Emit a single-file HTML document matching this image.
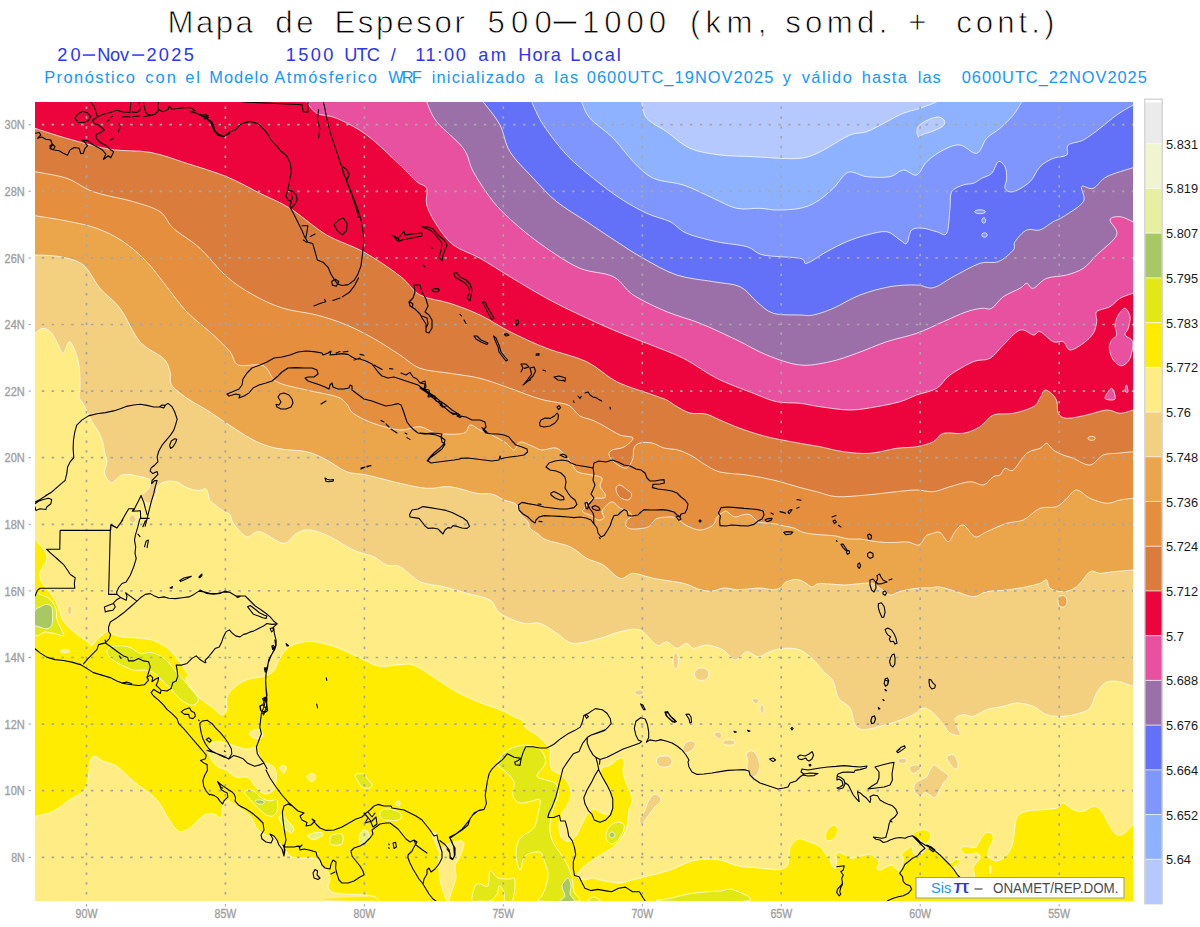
<!DOCTYPE html>
<html><head><meta charset="utf-8"><title>Mapa de Espesor 500-1000</title>
<style>
html,body{margin:0;padding:0;background:#fff;}
body{width:1200px;height:927px;overflow:hidden;font-family:"Liberation Sans",sans-serif;}
svg{display:block;font-family:"Liberation Sans",sans-serif;}
</style></head><body>
<svg width="1200" height="927" viewBox="0 0 1200 927">
<rect width="1200" height="927" fill="#fff"/>
<g font-size="31.2" fill="#000" stroke="#fff" stroke-width="0.8">
<text x="167.6" y="33.4" textLength="85.3" lengthAdjust="spacing">Mapa</text>
<text x="275.2" y="33.4" textLength="38.5" lengthAdjust="spacing">de</text>
<text x="334.4" y="33.4" textLength="130.4" lengthAdjust="spacing">Espesor</text>
<text x="487.4" y="33.4" textLength="64.4" lengthAdjust="spacing">500</text>
<text x="581.9" y="33.4" textLength="84.3" lengthAdjust="spacing">1000</text>
<text x="689.9" y="33.4" textLength="76.4" lengthAdjust="spacing">(km,</text>
<text x="785.2" y="33.4" textLength="102.2" lengthAdjust="spacing">somd.</text>
<text x="908.2" y="33.4" textLength="26.8" lengthAdjust="spacing">+</text>
<text x="956.2" y="33.4" textLength="98.1" lengthAdjust="spacing">cont.)</text>
</g>
<rect x="553.7" y="21.7" width="22.5" height="1.7" fill="#000"/>
<g font-size="18.2" fill="#2b35f5">
<text x="57.2" y="60.8" textLength="23.3" lengthAdjust="spacing">20</text>
<text x="97.2" y="60.8" textLength="31.9" lengthAdjust="spacing">Nov</text>
<text x="146.4" y="60.8" textLength="47.4" lengthAdjust="spacing">2025</text>
<text x="285.7" y="60.8" textLength="47.6" lengthAdjust="spacing">1500</text>
<text x="344.2" y="60.8" textLength="35.6" lengthAdjust="spacing">UTC</text>
<text x="390.7" y="60.8" textLength="12.6" lengthAdjust="spacing">/</text>
<text x="415.2" y="60.8" textLength="50.6" lengthAdjust="spacing">11:00</text>
<text x="478.2" y="60.8" textLength="27.6" lengthAdjust="spacing">am</text>
<text x="518.2" y="60.8" textLength="42.6" lengthAdjust="spacing">Hora</text>
<text x="570.2" y="60.8" textLength="50.6" lengthAdjust="spacing">Local</text>
<rect x="82.8" y="54.3" width="12.2" height="1.5"/><rect x="132.2" y="54.3" width="12" height="1.5"/></g>
<g font-size="16.4" fill="#1496ff">
<text x="44.2" y="82.9" textLength="90.6" lengthAdjust="spacing">Pron&#243;stico</text>
<text x="145.2" y="82.9" textLength="30.6" lengthAdjust="spacing">con</text>
<text x="185.2" y="82.9" textLength="14.6" lengthAdjust="spacing">el</text>
<text x="209.2" y="82.9" textLength="59.1" lengthAdjust="spacing">Modelo</text>
<text x="274.2" y="82.9" textLength="102.6" lengthAdjust="spacing">Atm&#243;sferico</text>
<text x="388.2" y="82.9" textLength="33.6" lengthAdjust="spacing">WRF</text>
<text x="431.7" y="82.9" textLength="93.1" lengthAdjust="spacing">inicializado</text>
<text x="534.2" y="82.9" textLength="9.1" lengthAdjust="spacing">a</text>
<text x="554.2" y="82.9" textLength="24.1" lengthAdjust="spacing">las</text>
<text x="586.7" y="82.9" textLength="186.6" lengthAdjust="spacing">0600UTC_19NOV2025</text>
<text x="782.7" y="82.9" textLength="10.6" lengthAdjust="spacing">y</text>
<text x="801.7" y="82.9" textLength="50.1" lengthAdjust="spacing">v&#225;lido</text>
<text x="861.7" y="82.9" textLength="45.1" lengthAdjust="spacing">hasta</text>
<text x="917.7" y="82.9" textLength="23.1" lengthAdjust="spacing">las</text>
<text x="961.7" y="82.9" textLength="185.1" lengthAdjust="spacing">0600UTC_22NOV2025</text>
</g>
<!-- map fills -->
<defs><clipPath id="plot"><rect x="35" y="102" width="1098" height="799"/></clipPath></defs>
<g clip-path="url(#plot)">
<rect x="35" y="102" width="1098" height="799" fill="#ffec84"/>
<path d="M35.0 538.4C35.8 539.5 38.2 542.7 40.0 545.1C41.8 547.5 44.8 550.1 45.9 552.6C47.0 555.1 47.4 557.5 46.7 560.1C46.0 562.8 42.9 566.0 41.7 568.5C40.5 571.0 39.6 572.7 39.7 575.2C39.8 577.7 41.3 581.3 42.5 583.5C43.7 585.7 45.2 586.6 46.7 588.6C48.2 590.6 50.0 592.8 51.7 595.3C53.4 597.8 55.4 600.8 56.8 603.6C58.2 606.4 59.3 609.5 60.1 612.0C60.9 614.5 60.4 616.2 61.8 618.7C63.2 621.2 65.7 624.2 68.5 627.0C71.3 629.8 75.4 633.0 78.5 635.4C81.6 637.8 84.7 639.5 86.9 641.2C89.1 642.9 90.2 645.7 91.9 645.4C93.6 645.1 95.0 641.5 96.9 639.6C98.9 637.7 101.6 635.1 103.6 633.7C105.5 632.3 106.9 631.1 108.6 631.2C110.3 631.3 111.1 633.5 113.6 634.5C116.1 635.5 119.7 636.5 123.6 637.1C127.5 637.7 132.5 637.5 137.0 637.9C141.5 638.3 146.2 638.5 150.4 639.6C154.6 640.7 158.8 642.8 162.1 644.6C165.4 646.4 168.0 648.0 170.5 650.4C173.0 652.8 175.0 655.9 177.2 658.8C179.4 661.7 182.0 665.3 183.8 668.0C185.6 670.7 187.5 672.8 188.0 675.0C188.5 677.2 184.7 677.5 186.7 681.3C188.7 685.1 195.6 693.5 200.0 698.0C204.4 702.5 209.7 705.2 213.3 708.0C216.9 710.8 219.5 714.4 221.7 714.7C223.9 715.0 225.9 712.5 226.7 709.7C227.5 706.9 225.6 701.6 226.7 698.0C227.8 694.4 230.0 691.0 233.3 688.0C236.6 685.0 241.7 681.7 246.7 679.7C251.7 677.8 258.9 677.7 263.3 676.3C267.7 674.9 270.5 674.3 273.3 671.3C276.1 668.2 277.2 662.2 280.0 658.0C282.8 653.8 285.0 649.1 290.0 646.3C295.0 643.5 302.8 641.3 310.0 641.3C317.2 641.3 326.1 644.1 333.3 646.3C340.5 648.5 347.7 652.2 353.3 654.7C358.9 657.2 362.2 659.4 366.7 661.3C371.1 663.2 374.4 665.7 380.0 666.3C385.6 666.9 394.4 664.9 400.0 664.7C405.6 664.5 407.8 663.0 413.3 665.0C418.9 667.0 426.6 672.5 433.3 676.7C440.0 680.9 446.1 685.9 453.3 690.0C460.5 694.1 468.9 698.0 476.7 701.3C484.5 704.6 493.3 706.9 500.0 709.7C506.7 712.5 513.0 716.3 516.7 718.0C520.4 719.7 520.5 718.3 522.0 720.0C523.5 721.7 523.3 725.3 526.0 728.0C528.7 730.7 534.7 733.3 538.0 736.0C541.3 738.7 544.0 742.0 546.0 744.0C548.0 746.0 549.3 745.3 550.0 748.0C550.7 750.7 549.7 756.3 550.0 760.0C550.3 763.7 550.3 767.7 552.0 770.0C553.7 772.3 557.7 772.3 560.0 774.0C562.3 775.7 564.3 777.7 566.0 780.0C567.7 782.3 569.2 785.3 570.0 788.0C570.8 790.7 571.3 793.3 571.0 796.0C570.7 798.7 569.5 801.0 568.0 804.0C566.5 807.0 563.5 810.7 562.0 814.0C560.5 817.3 559.3 820.7 559.0 824.0C558.7 827.3 559.2 831.3 560.0 834.0C560.8 836.7 562.3 838.8 564.0 840.0C565.7 841.2 568.0 841.7 570.0 841.0C572.0 840.3 574.3 838.2 576.0 836.0C577.7 833.8 578.7 830.7 580.0 828.0C581.3 825.3 582.5 822.7 584.0 820.0C585.5 817.3 587.3 813.8 589.0 812.0C590.7 810.2 591.8 808.8 594.0 809.0C596.2 809.2 599.5 812.2 602.0 813.0C604.5 813.8 607.3 815.2 609.0 814.0C610.7 812.8 611.3 808.3 612.0 806.0C612.7 803.7 613.3 802.3 613.0 800.0C612.7 797.7 611.5 795.0 610.0 792.0C608.5 789.0 605.7 785.0 604.0 782.0C602.3 779.0 600.3 776.3 600.0 774.0C599.7 771.7 600.3 769.5 602.0 768.0C603.7 766.5 607.3 766.5 610.0 765.0C612.7 763.5 615.8 760.2 618.0 759.0C620.2 757.8 622.0 757.2 623.0 758.0C624.0 758.8 624.0 761.7 624.0 764.0C624.0 766.3 622.7 769.0 623.0 772.0C623.3 775.0 624.7 778.3 626.0 782.0C627.3 785.7 630.0 790.7 631.0 794.0C632.0 797.3 632.3 799.3 632.0 802.0C631.7 804.7 629.7 807.0 629.0 810.0C628.3 813.0 628.5 816.7 628.0 820.0C627.5 823.3 627.3 826.7 626.0 830.0C624.7 833.3 622.3 837.0 620.0 840.0C617.7 843.0 614.7 845.8 612.0 848.0C609.3 850.2 606.7 851.3 604.0 853.0C601.3 854.7 599.0 856.0 596.0 858.0C593.0 860.0 588.8 862.7 586.0 865.0C583.2 867.3 580.3 869.8 579.0 872.0C577.7 874.2 577.2 876.7 578.0 878.0C578.8 879.3 581.7 880.0 584.0 880.0C586.3 880.0 589.3 878.0 592.0 878.0C594.7 878.0 597.0 879.3 600.0 880.0C603.0 880.7 606.7 881.5 610.0 882.0C613.3 882.5 616.3 883.3 620.0 883.0C623.7 882.7 628.0 881.0 632.0 880.0C636.0 879.0 640.0 878.0 644.0 877.0C648.0 876.0 651.7 875.2 656.0 874.0C660.3 872.8 665.3 871.7 670.0 870.0C674.7 868.3 679.7 865.7 684.0 864.0C688.3 862.3 692.0 860.8 696.0 860.0C700.0 859.2 704.0 859.0 708.0 859.0C712.0 859.0 714.7 858.8 720.0 860.0C725.3 861.2 733.3 865.0 740.0 866.3C746.7 867.6 753.9 867.4 760.0 868.0C766.1 868.6 772.7 869.7 776.7 869.7C780.7 869.7 782.1 869.0 784.0 868.0C785.9 867.0 787.0 867.3 788.0 864.0C789.0 860.7 788.3 852.2 790.0 848.0C791.7 843.8 794.7 840.0 798.0 839.0C801.3 838.0 806.3 840.7 810.0 842.0C813.7 843.3 817.5 844.8 820.0 846.7C822.5 848.6 823.3 851.1 825.0 853.3C826.7 855.5 828.8 857.8 830.0 860.0C831.2 862.2 831.5 865.3 832.5 866.7C833.5 868.1 835.1 869.4 835.8 868.3C836.5 867.2 836.7 862.4 836.7 860.0C836.7 857.6 835.2 855.5 835.8 854.2C836.3 853.0 838.2 852.2 840.0 852.5C841.8 852.8 844.8 854.8 846.7 855.8C848.7 856.8 849.8 858.1 851.7 858.3C853.6 858.4 856.1 857.2 858.3 856.7C860.5 856.2 863.0 855.4 865.0 855.0C867.0 854.6 868.0 853.7 870.0 854.2C872.0 854.8 875.2 856.8 876.7 858.3C878.2 859.8 879.2 861.6 879.2 863.3C879.2 865.0 876.6 867.2 876.7 868.3C876.8 869.4 878.3 870.3 880.0 870.0C881.7 869.7 884.8 867.5 886.7 866.7C888.7 865.9 890.3 864.7 891.7 865.0C893.1 865.3 893.6 867.5 895.0 868.3C896.4 869.1 898.8 870.8 900.0 870.0C901.2 869.2 902.0 865.2 902.5 863.3C903.0 861.3 903.4 859.8 903.3 858.3C903.2 856.8 901.4 855.5 901.7 854.2C902.0 853.0 903.6 851.9 905.0 850.8C906.4 849.7 908.8 848.2 910.0 847.5C911.2 846.8 912.0 845.7 912.5 846.7C913.0 847.7 912.3 851.9 913.3 853.3C914.3 854.7 916.5 855.4 918.3 855.0C920.1 854.6 922.8 852.2 924.2 850.8C925.6 849.4 926.9 848.1 926.7 846.7C926.6 845.3 925.0 843.9 923.3 842.5C921.6 841.1 918.5 839.4 916.7 838.3C914.9 837.2 912.8 836.8 912.5 835.8C912.2 834.8 913.8 833.5 915.0 832.5C916.2 831.5 918.2 830.4 920.0 830.0C921.8 829.6 924.0 829.3 925.8 830.0C927.6 830.7 930.1 832.7 930.8 834.2C931.5 835.7 930.7 837.7 930.0 839.2C929.3 840.7 926.7 842.2 926.7 843.3C926.7 844.4 928.3 844.5 930.0 845.8C931.7 847.0 934.5 849.0 936.7 850.8C938.9 852.6 941.5 854.9 943.3 856.7C945.1 858.5 946.1 860.7 947.5 861.7C948.9 862.7 950.3 862.9 951.7 862.5C953.1 862.1 954.4 859.5 955.8 859.2C957.2 858.9 959.7 860.0 960.0 860.8C960.3 861.6 958.5 863.1 957.5 864.2C956.5 865.3 954.5 866.2 954.2 867.5C953.9 868.8 955.0 870.0 955.8 871.7C956.6 873.5 957.5 875.6 959.2 878.0C960.9 880.4 963.5 886.0 966.0 886.0C968.5 886.0 973.0 881.0 974.2 878.0C975.4 875.0 973.0 870.8 973.3 868.3C973.6 865.8 974.7 865.0 975.8 863.3C976.9 861.6 979.7 860.0 980.0 858.3C980.3 856.6 979.0 854.0 977.5 853.3C976.0 852.6 972.9 854.1 970.8 854.2C968.7 854.4 966.5 854.8 965.0 854.2C963.5 853.6 962.1 852.0 961.7 850.8C961.3 849.5 961.4 847.4 962.5 846.7C963.6 846.0 966.2 846.6 968.3 846.7C970.4 846.8 973.3 848.1 975.0 847.5C976.7 846.9 977.2 845.1 978.3 843.3C979.4 841.5 980.3 838.5 981.7 836.7C983.1 834.9 985.0 833.1 986.7 832.5C988.4 831.9 990.6 832.3 991.7 833.3C992.8 834.3 993.3 836.6 993.3 838.3C993.3 840.0 992.4 841.6 991.7 843.3C991.0 845.0 989.9 846.6 989.2 848.3C988.5 850.0 987.4 851.6 987.5 853.3C987.6 855.0 988.8 857.0 990.0 858.3C991.2 859.5 993.3 860.5 995.0 860.8C996.7 861.1 998.3 860.7 1000.0 860.0C1001.7 859.3 1003.3 858.4 1005.0 856.7C1006.7 855.0 1008.6 852.8 1010.0 850.0C1011.4 847.2 1012.2 845.3 1013.3 840.0C1014.4 834.7 1014.5 822.8 1016.7 818.0C1018.9 813.2 1022.3 812.7 1026.7 811.3C1031.1 809.9 1038.3 810.2 1043.3 809.7C1048.3 809.2 1053.4 809.1 1056.7 808.0C1060.0 806.9 1060.5 802.7 1063.3 803.0C1066.1 803.3 1070.0 808.3 1073.3 809.7C1076.6 811.1 1080.0 811.9 1083.3 811.3C1086.6 810.7 1090.2 806.3 1093.3 806.3C1096.4 806.3 1098.4 807.1 1101.7 811.3C1105.0 815.5 1110.0 827.4 1113.3 831.3C1116.6 835.2 1118.4 835.8 1121.7 834.7C1125.0 833.6 1131.1 826.4 1133.0 824.7L1133.0 901.0C1007.5 901.0 506.6 901.8 380.0 901.0C253.4 900.2 376.6 897.3 373.3 896.3C370.0 895.2 364.9 895.1 360.0 894.7C355.1 894.3 348.7 894.5 344.0 894.0C339.3 893.5 334.7 893.3 332.0 892.0C329.3 890.7 328.3 888.0 328.0 886.0C327.7 884.0 330.0 882.3 330.0 880.0C330.0 877.7 329.3 874.3 328.0 872.0C326.7 869.7 323.7 868.0 322.0 866.0C320.3 864.0 320.0 861.3 318.0 860.0C316.0 858.7 313.0 858.3 310.0 858.0C307.0 857.7 303.3 858.3 300.0 858.0C296.7 857.7 292.7 857.7 290.0 856.0C287.3 854.3 286.3 850.7 284.0 848.0C281.7 845.3 278.2 841.9 276.0 840.0C273.8 838.1 272.2 837.1 270.6 836.4C269.1 835.7 268.0 836.2 266.7 835.7C265.4 835.2 264.1 834.0 262.8 833.1C261.5 832.2 260.2 831.9 258.9 830.6C257.6 829.3 256.1 827.4 255.0 825.4C253.9 823.4 253.7 820.8 252.4 818.9C251.1 817.0 249.0 815.2 247.3 813.7C245.6 812.2 243.8 811.2 242.1 809.9C240.4 808.6 238.6 807.2 236.9 806.0C235.2 804.8 233.2 803.6 231.7 802.7C230.2 801.8 229.2 800.7 227.9 800.8C226.6 800.9 225.0 801.9 224.0 803.4C223.0 804.9 222.4 807.8 222.0 809.9C221.6 812.0 221.8 815.0 221.4 816.3C221.0 817.6 220.6 817.9 219.5 817.6C218.4 817.3 216.5 815.1 214.9 814.4C213.3 813.7 211.5 813.4 209.8 813.5C208.1 813.6 206.6 813.9 204.6 815.0C202.6 816.1 200.3 818.2 198.1 820.2C195.9 822.2 193.8 825.0 191.6 826.7C189.4 828.4 187.5 829.9 185.2 830.6C182.9 831.3 180.5 832.5 178.0 831.0C175.5 829.5 172.4 824.8 170.0 821.3C167.6 817.8 165.5 813.3 163.3 809.7C161.1 806.1 159.5 802.8 156.7 799.7C153.9 796.6 150.6 794.4 146.7 791.3C142.8 788.2 138.3 785.5 133.3 781.3C128.3 777.1 121.7 769.6 116.7 766.3C111.7 763.0 106.9 763.0 103.3 761.3C99.7 759.6 97.2 756.3 95.0 756.3C92.8 756.3 91.1 757.7 90.0 761.3C88.9 764.9 89.4 773.0 88.3 778.0C87.2 783.0 86.3 787.7 83.3 791.3C80.2 794.9 75.0 796.4 70.0 799.7C65.0 803.0 59.1 808.5 53.3 811.3C47.5 814.1 38.0 815.5 35.0 816.3Z" fill="#ffec00"/>
<path d="M825.8 833.3C826.2 831.5 827.0 829.6 828.3 828.3C829.5 827.0 831.9 825.6 833.3 825.3C834.7 825.0 836.0 825.6 836.7 826.7C837.4 827.8 837.8 829.9 837.5 831.7C837.2 833.5 836.2 836.0 835.0 837.5C833.8 839.0 831.5 840.5 830.0 840.8C828.5 841.1 826.5 840.5 825.8 839.2C825.1 838.0 825.4 835.1 825.8 833.3Z" fill="#ffec00" stroke="rgba(255,255,255,0.75)" stroke-width="1" stroke-linejoin="round"/>
<path d="M63.3 649.6C64.3 649.5 65.9 649.5 66.9 649.6C68.0 649.7 68.9 650.1 69.3 650.4C69.7 650.8 69.7 651.4 69.3 651.8C68.9 652.1 68.0 652.5 66.9 652.6C65.9 652.7 64.3 652.7 63.3 652.6C62.2 652.5 61.3 652.1 60.9 651.8C60.5 651.4 60.5 650.8 60.9 650.4C61.3 650.1 62.2 649.7 63.3 649.6Z" fill="#ffec84" stroke="rgba(255,255,255,0.75)" stroke-width="1" stroke-linejoin="round"/>
<path d="M249.7 733.6C249.8 732.2 252.9 730.0 254.7 729.5C256.5 729.0 259.2 729.5 260.6 730.3C262.0 731.1 263.2 733.1 263.1 734.5C263.0 735.9 261.3 738.2 259.8 738.7C258.3 739.2 255.6 738.6 253.9 737.8C252.2 736.9 249.6 735.0 249.7 733.6Z" fill="#ffec84" stroke="rgba(255,255,255,0.75)" stroke-width="1" stroke-linejoin="round"/>
<path d="M207.8 749.7C208.0 747.9 209.2 745.2 210.4 743.9C211.6 742.5 213.1 741.9 214.9 741.6C216.7 741.3 219.2 741.5 221.4 741.9C223.6 742.3 225.8 743.2 227.9 743.9C230.1 744.5 231.9 745.0 234.3 745.8C236.7 746.5 239.7 747.8 242.1 748.4C244.5 749.0 246.4 749.3 248.6 749.1C250.8 748.9 253.3 746.2 255.0 747.1C256.7 748.0 257.6 751.7 258.9 754.2C260.2 756.7 261.1 760.4 262.8 762.0C264.5 763.6 267.4 762.9 269.3 763.9C271.2 764.9 273.2 766.0 274.4 767.8C275.6 769.6 276.2 772.4 276.4 774.9C276.6 777.4 276.0 780.3 275.7 782.7C275.4 785.1 275.5 787.5 274.4 789.2C273.3 790.9 271.0 792.2 269.3 793.0C267.6 793.8 265.8 794.1 264.1 793.7C262.4 793.3 260.5 791.9 258.9 790.5C257.3 789.1 255.8 787.1 254.4 785.3C253.0 783.5 251.9 780.9 250.5 779.5C249.1 778.1 247.8 777.2 246.0 776.9C244.2 776.6 241.4 777.6 239.5 777.5C237.6 777.4 236.0 777.1 234.3 776.2C232.6 775.3 230.9 773.5 229.2 772.3C227.5 771.1 225.9 770.1 224.0 769.1C222.1 768.1 219.4 767.9 217.5 766.5C215.6 765.1 213.7 762.6 212.3 760.7C210.9 758.8 209.8 756.7 209.1 754.9C208.3 753.1 207.6 751.5 207.8 749.7Z" fill="#ffec84" stroke="rgba(255,255,255,0.75)" stroke-width="1" stroke-linejoin="round"/>
<path d="M279.6 767.8C279.9 766.8 282.4 765.2 283.5 765.2C284.6 765.2 286.2 766.5 286.3 767.8C286.4 769.1 284.9 772.5 284.1 773.0C283.3 773.5 282.4 771.9 281.6 771.0C280.9 770.1 279.3 768.8 279.6 767.8Z" fill="#ffec84" stroke="rgba(255,255,255,0.75)" stroke-width="1" stroke-linejoin="round"/>
<path d="M306.8 776.9C307.4 775.9 310.5 773.6 312.0 773.6C313.5 773.6 315.8 775.5 315.8 776.9C315.8 778.3 313.2 781.6 312.0 782.0C310.8 782.4 309.6 780.4 308.7 779.5C307.8 778.6 306.2 777.9 306.8 776.9Z" fill="#ffec84" stroke="rgba(255,255,255,0.75)" stroke-width="1" stroke-linejoin="round"/>
<path d="M440.0 852.0C441.5 848.7 444.7 845.8 448.0 844.0C451.3 842.2 457.3 841.0 460.0 841.0C462.7 841.0 464.0 841.5 464.0 844.0C464.0 846.5 461.5 852.3 460.0 856.0C458.5 859.7 455.7 862.3 455.0 866.0C454.3 869.7 456.5 874.0 456.0 878.0C455.5 882.0 453.3 886.2 452.0 890.0C450.7 893.8 449.3 900.3 448.0 901.0C446.7 901.7 445.3 897.5 444.0 894.0C442.7 890.5 440.8 885.0 440.0 880.0C439.2 875.0 439.0 868.7 439.0 864.0C439.0 859.3 438.5 855.3 440.0 852.0Z" fill="#ffec84" stroke="rgba(255,255,255,0.75)" stroke-width="1" stroke-linejoin="round"/>
<path d="M989.9 866.0C990.1 865.7 990.4 865.7 990.6 866.0C990.8 866.3 990.9 867.1 991.0 868.0C991.1 868.8 991.1 870.2 991.0 871.0C990.9 871.9 990.8 872.7 990.6 873.0C990.4 873.3 990.1 873.3 989.9 873.0C989.7 872.7 989.6 871.9 989.5 871.0C989.4 870.2 989.4 868.8 989.5 868.0C989.6 867.1 989.7 866.3 989.9 866.0Z" fill="#ffec84" stroke="rgba(255,255,255,0.75)" stroke-width="1" stroke-linejoin="round"/>
<path d="M433.0 832.0C433.6 831.7 434.8 831.7 436.0 834.0C437.2 836.3 439.2 843.0 440.0 846.0C440.8 849.0 441.3 851.3 441.0 852.0C440.7 852.7 439.0 851.7 438.0 850.0C437.0 848.3 435.9 844.3 435.0 842.0C434.1 839.7 432.7 837.7 432.4 836.0C432.1 834.3 432.4 832.3 433.0 832.0Z" fill="#ffec84" stroke="rgba(255,255,255,0.75)" stroke-width="1" stroke-linejoin="round"/>
<path d="M34.7 596.1C35.9 589.7 39.1 594.8 41.7 595.3C44.3 595.8 47.7 597.2 50.1 599.4C52.5 601.6 54.8 605.4 55.9 608.6C57.0 611.8 56.0 615.4 56.8 618.7C57.6 622.1 59.8 625.9 60.9 628.7C62.0 631.5 64.4 634.6 63.4 635.4C62.4 636.2 58.1 634.3 55.1 633.7C52.1 633.1 48.5 632.0 45.1 632.0C41.7 632.0 36.4 639.7 34.7 633.7C33.0 627.7 33.5 602.5 34.7 596.1Z" fill="#e1e816" stroke="rgba(255,255,255,0.75)" stroke-width="1" stroke-linejoin="round"/>
<path d="M106.8 650.9C107.1 649.1 109.6 647.5 111.8 646.7C114.0 645.9 117.0 645.8 120.1 645.9C123.2 646.0 126.8 646.2 130.2 647.5C133.5 648.8 136.9 652.6 140.2 653.4C143.5 654.2 146.8 652.1 150.2 652.5C153.5 652.9 157.2 654.2 160.3 655.9C163.4 657.6 166.1 660.1 168.6 662.6C171.1 665.1 172.8 668.0 175.3 670.9C177.8 673.8 180.9 676.9 183.7 680.1C186.5 683.3 189.6 687.3 192.0 690.2C194.4 693.1 197.1 695.6 197.9 697.7C198.8 699.8 198.1 701.5 197.1 702.7C196.1 704.0 193.9 705.2 192.0 705.2C190.1 705.2 187.6 704.0 185.4 702.7C183.2 701.5 180.9 699.8 178.7 697.7C176.5 695.6 174.2 692.6 172.0 690.2C169.8 687.8 167.5 685.7 165.3 683.5C163.1 681.3 160.8 678.8 158.6 676.8C156.4 674.8 154.4 672.9 151.9 671.8C149.4 670.7 146.6 670.4 143.5 670.1C140.4 669.8 136.6 670.7 133.5 670.1C130.4 669.5 128.0 668.0 125.2 666.8C122.4 665.5 119.3 664.1 116.8 662.6C114.3 661.1 111.8 659.6 110.1 657.6C108.4 655.6 106.5 652.7 106.8 650.9Z" fill="#e1e816" stroke="rgba(255,255,255,0.75)" stroke-width="1" stroke-linejoin="round"/>
<path d="M244.7 792.4C244.7 791.1 247.1 790.0 248.6 789.8C250.1 789.6 252.0 790.1 253.7 791.1C255.4 792.1 257.2 794.2 258.9 795.6C260.6 797.0 262.2 798.6 264.1 799.5C266.1 800.4 268.6 800.8 270.6 800.8C272.7 800.8 275.2 798.9 276.4 799.5C277.6 800.1 277.6 802.8 277.7 804.7C277.8 806.7 277.8 809.4 277.0 811.2C276.2 813.0 274.6 815.0 273.1 815.7C271.6 816.5 269.7 816.2 268.0 815.7C266.3 815.2 264.5 813.8 262.8 812.4C261.1 811.0 259.3 809.0 257.6 807.3C255.9 805.6 253.9 803.7 252.4 802.1C250.9 800.5 249.9 799.2 248.6 797.6C247.3 796.0 244.7 793.7 244.7 792.4Z" fill="#e1e816" stroke="rgba(255,255,255,0.75)" stroke-width="1" stroke-linejoin="round"/>
<path d="M355.0 775.0C355.8 773.8 360.7 773.0 363.0 774.0C365.3 775.0 367.5 779.2 369.0 781.0C370.5 782.8 372.0 783.8 372.0 785.0C372.0 786.2 370.7 787.7 369.0 788.0C367.3 788.3 363.8 788.2 362.0 787.0C360.2 785.8 359.2 783.0 358.0 781.0C356.8 779.0 354.2 776.2 355.0 775.0Z" fill="#e1e816" stroke="rgba(255,255,255,0.75)" stroke-width="1" stroke-linejoin="round"/>
<path d="M331.0 836.0C332.0 834.5 334.2 834.3 336.0 834.0C337.8 833.7 340.8 833.4 342.0 834.4C343.2 835.4 343.2 838.3 343.0 840.0C342.8 841.7 342.5 843.6 341.0 844.4C339.5 845.2 335.8 845.2 334.0 845.0C332.2 844.8 330.5 844.5 330.0 843.0C329.5 841.5 330.0 837.5 331.0 836.0Z" fill="#e1e816" stroke="rgba(255,255,255,0.75)" stroke-width="1" stroke-linejoin="round"/>
<path d="M380.0 813.0C380.3 811.6 381.0 810.0 383.0 809.4C385.0 808.8 389.2 809.0 392.0 809.6C394.8 810.2 398.5 811.6 400.0 813.0C401.5 814.4 401.7 816.8 401.0 818.0C400.3 819.2 398.5 820.1 396.0 820.4C393.5 820.7 388.5 820.4 386.0 820.0C383.5 819.6 382.0 819.2 381.0 818.0C380.0 816.8 379.7 814.4 380.0 813.0Z" fill="#e1e816" stroke="rgba(255,255,255,0.75)" stroke-width="1" stroke-linejoin="round"/>
<path d="M498.0 765.0C497.3 762.2 499.7 757.8 502.0 755.0C504.3 752.2 508.0 749.7 512.0 748.0C516.0 746.3 521.7 745.0 526.0 745.0C530.3 745.0 535.0 746.3 538.0 748.0C541.0 749.7 542.8 752.3 544.0 755.0C545.2 757.7 546.2 760.5 545.0 764.0C543.8 767.5 536.8 773.3 537.0 776.0C537.2 778.7 542.8 778.7 546.0 780.0C549.2 781.3 554.0 781.3 556.0 784.0C558.0 786.7 558.3 792.3 558.0 796.0C557.7 799.7 555.2 802.3 554.0 806.0C552.8 809.7 551.7 813.7 551.0 818.0C550.3 822.3 549.5 827.7 550.0 832.0C550.5 836.3 552.0 840.0 554.0 844.0C556.0 848.0 559.7 852.3 562.0 856.0C564.3 859.7 566.3 862.3 568.0 866.0C569.7 869.7 571.0 873.7 572.0 878.0C573.0 882.3 573.0 888.2 574.0 892.0C575.0 895.8 583.7 899.5 578.0 901.0C572.3 902.5 546.0 901.8 540.0 901.0C534.0 900.2 541.0 898.5 542.0 896.0C543.0 893.5 545.0 889.7 546.0 886.0C547.0 882.3 548.3 878.3 548.0 874.0C547.7 869.7 545.3 863.7 544.0 860.0C542.7 856.3 542.7 853.0 540.0 852.0C537.3 851.0 530.8 852.7 528.0 854.0C525.2 855.3 524.3 857.3 523.0 860.0C521.7 862.7 521.2 870.7 520.0 870.0C518.8 869.3 516.3 860.7 516.0 856.0C515.7 851.3 516.7 845.5 518.0 842.0C519.3 838.5 521.3 837.3 524.0 835.0C526.7 832.7 531.7 831.5 534.0 828.0C536.3 824.5 537.0 818.7 538.0 814.0C539.0 809.3 541.0 802.2 540.0 800.0C539.0 797.8 535.3 800.5 532.0 801.0C528.7 801.5 523.2 803.8 520.0 803.0C516.8 802.2 514.0 799.5 513.0 796.0C512.0 792.5 515.2 786.0 514.0 782.0C512.8 778.0 508.7 774.8 506.0 772.0C503.3 769.2 498.7 767.8 498.0 765.0Z" fill="#e1e816" stroke="rgba(255,255,255,0.75)" stroke-width="1" stroke-linejoin="round"/>
<path d="M480.0 884.0C482.2 884.0 486.3 888.2 488.0 886.0C489.7 883.8 488.3 872.3 490.0 871.0C491.7 869.7 494.7 876.7 498.0 878.0C501.3 879.3 507.3 879.0 510.0 879.0C512.7 879.0 513.2 876.8 514.0 878.0C514.8 879.2 515.3 882.2 515.0 886.0C514.7 889.8 513.7 898.5 512.0 901.0C510.3 903.5 506.3 902.5 505.0 901.0C503.7 899.5 505.0 894.5 504.0 892.0C503.0 889.5 500.2 885.7 499.0 886.0C497.8 886.3 498.5 891.5 497.0 894.0C495.5 896.5 492.8 899.8 490.0 901.0C487.2 902.2 483.0 901.0 480.0 901.0C477.0 901.0 472.8 903.5 472.0 901.0C471.2 898.5 473.7 888.8 475.0 886.0C476.3 883.2 477.8 884.0 480.0 884.0Z" fill="#e1e816" stroke="rgba(255,255,255,0.75)" stroke-width="1" stroke-linejoin="round"/>
<path d="M606.0 834.0C606.5 831.7 608.0 828.0 610.0 826.0C612.0 824.0 615.7 822.2 618.0 822.0C620.3 821.8 623.2 823.3 624.0 825.0C624.8 826.7 624.0 829.5 623.0 832.0C622.0 834.5 619.8 838.0 618.0 840.0C616.2 842.0 613.8 844.0 612.0 844.0C610.2 844.0 608.0 841.7 607.0 840.0C606.0 838.3 605.5 836.3 606.0 834.0Z" fill="#e1e816" stroke="rgba(255,255,255,0.75)" stroke-width="1" stroke-linejoin="round"/>
<path d="M660.0 901.0C647.5 900.5 667.3 899.2 672.0 898.0C676.7 896.8 682.7 895.0 688.0 894.0C693.3 893.0 698.7 892.5 704.0 892.0C709.3 891.5 715.1 891.4 720.0 891.0C724.9 890.6 728.8 888.0 733.3 889.7C737.8 891.4 758.9 899.1 746.7 901.0C734.5 902.9 672.5 901.5 660.0 901.0Z" fill="#e1e816" stroke="rgba(255,255,255,0.75)" stroke-width="1" stroke-linejoin="round"/>
<path d="M588.0 901.0C587.0 900.3 592.0 897.0 594.0 897.0C596.0 897.0 601.0 900.3 600.0 901.0C599.0 901.7 589.0 901.7 588.0 901.0Z" fill="#e1e816" stroke="rgba(255,255,255,0.75)" stroke-width="1" stroke-linejoin="round"/>
<path d="M279.0 817.6C279.3 816.6 281.0 814.8 282.2 815.0C283.4 815.2 284.7 817.4 286.1 818.9C287.5 820.4 289.3 822.6 290.6 824.1C291.9 825.6 293.6 826.6 293.8 828.0C294.0 829.4 293.0 832.1 291.9 832.5C290.8 832.9 288.9 831.8 287.4 830.6C285.9 829.4 284.1 827.0 282.9 825.4C281.7 823.8 280.9 822.2 280.3 820.9C279.7 819.6 278.7 818.6 279.0 817.6Z" fill="#eaf07a" stroke="rgba(255,255,255,0.75)" stroke-width="1" stroke-linejoin="round"/>
<path d="M308.0 835.6C308.3 834.5 311.8 833.5 314.0 833.0C316.2 832.5 319.5 832.1 321.0 832.4C322.5 832.7 323.5 834.1 323.0 835.0C322.5 835.9 319.8 837.2 318.0 838.0C316.2 838.8 313.7 840.0 312.0 839.6C310.3 839.2 307.7 836.7 308.0 835.6Z" fill="#eaf07a" stroke="rgba(255,255,255,0.75)" stroke-width="1" stroke-linejoin="round"/>
<path d="M360.0 834.0C360.8 832.7 362.7 830.3 364.0 830.0C365.3 829.7 367.2 830.7 368.0 832.0C368.8 833.3 369.5 836.2 369.0 838.0C368.5 839.8 366.5 842.0 365.0 843.0C363.5 844.0 360.9 844.8 360.0 844.0C359.1 843.2 359.4 839.7 359.4 838.0C359.4 836.3 359.2 835.3 360.0 834.0Z" fill="#eaf07a" stroke="rgba(255,255,255,0.75)" stroke-width="1" stroke-linejoin="round"/>
<path d="M397.1 801.0C397.6 800.8 398.4 800.8 398.9 801.0C399.4 801.2 399.8 801.8 400.0 802.4C400.2 803.0 400.2 804.0 400.0 804.6C399.8 805.2 399.4 805.8 398.9 806.0C398.4 806.2 397.6 806.2 397.1 806.0C396.6 805.8 396.2 805.2 396.0 804.6C395.8 804.0 395.8 803.0 396.0 802.4C396.2 801.8 396.6 801.2 397.1 801.0Z" fill="#eaf07a" stroke="rgba(255,255,255,0.75)" stroke-width="1" stroke-linejoin="round"/>
<path d="M34.7 611.1C35.6 608.2 38.0 608.1 40.0 607.0C42.0 605.9 44.8 604.4 46.7 604.4C48.7 604.4 50.7 605.2 51.7 607.0C52.7 608.8 52.6 612.2 52.6 615.3C52.6 618.4 52.7 623.2 51.7 625.4C50.7 627.6 48.7 628.4 46.7 628.7C44.8 629.0 42.0 627.7 40.0 627.0C38.0 626.3 35.6 627.1 34.7 624.5C33.8 621.9 33.8 614.0 34.7 611.1Z" fill="#a8c864" stroke="rgba(255,255,255,0.75)" stroke-width="1" stroke-linejoin="round"/>
<path d="M255.0 800.8C255.3 800.2 258.1 799.8 259.6 799.9C261.1 800.0 263.6 800.7 264.1 801.4C264.6 802.1 263.9 803.6 262.8 804.0C261.7 804.4 258.9 804.1 257.6 803.6C256.3 803.1 254.7 801.4 255.0 800.8Z" fill="#a8c864" stroke="rgba(255,255,255,0.75)" stroke-width="1" stroke-linejoin="round"/>
<path d="M568.0 878.0C569.5 878.0 570.7 883.3 571.0 886.0C571.3 888.7 569.5 891.5 570.0 894.0C570.5 896.5 575.7 899.8 574.0 901.0C572.3 902.2 561.5 901.8 560.0 901.0C558.5 900.2 564.7 898.5 565.0 896.0C565.3 893.5 561.5 889.0 562.0 886.0C562.5 883.0 566.5 878.0 568.0 878.0Z" fill="#a8c864" stroke="rgba(255,255,255,0.75)" stroke-width="1" stroke-linejoin="round"/>
<path d="M612.0 832.0C613.0 832.0 615.0 834.0 615.0 835.0C615.0 836.0 613.0 838.0 612.0 838.0C611.0 838.0 609.0 836.0 609.0 835.0C609.0 834.0 611.0 832.0 612.0 832.0Z" fill="#a8c864" stroke="rgba(255,255,255,0.75)" stroke-width="1" stroke-linejoin="round"/>
<path d="M35.0 538.4C35.8 539.5 38.2 542.7 40.0 545.1C41.8 547.5 44.8 550.1 45.9 552.6C47.0 555.1 47.4 557.5 46.7 560.1C46.0 562.8 42.9 566.0 41.7 568.5C40.5 571.0 39.6 572.7 39.7 575.2C39.8 577.7 41.3 581.3 42.5 583.5C43.7 585.7 45.2 586.6 46.7 588.6C48.2 590.6 50.0 592.8 51.7 595.3C53.4 597.8 55.4 600.8 56.8 603.6C58.2 606.4 59.3 609.5 60.1 612.0C60.9 614.5 60.4 616.2 61.8 618.7C63.2 621.2 65.7 624.2 68.5 627.0C71.3 629.8 75.4 633.0 78.5 635.4C81.6 637.8 84.7 639.5 86.9 641.2C89.1 642.9 90.2 645.7 91.9 645.4C93.6 645.1 95.0 641.5 96.9 639.6C98.9 637.7 101.6 635.1 103.6 633.7C105.5 632.3 106.9 631.1 108.6 631.2C110.3 631.3 111.1 633.5 113.6 634.5C116.1 635.5 119.7 636.5 123.6 637.1C127.5 637.7 132.5 637.5 137.0 637.9C141.5 638.3 146.2 638.5 150.4 639.6C154.6 640.7 158.8 642.8 162.1 644.6C165.4 646.4 168.0 648.0 170.5 650.4C173.0 652.8 175.0 655.9 177.2 658.8C179.4 661.7 182.0 665.3 183.8 668.0C185.6 670.7 187.5 672.8 188.0 675.0C188.5 677.2 184.7 677.5 186.7 681.3C188.7 685.1 195.6 693.5 200.0 698.0C204.4 702.5 209.7 705.2 213.3 708.0C216.9 710.8 219.5 714.4 221.7 714.7C223.9 715.0 225.9 712.5 226.7 709.7C227.5 706.9 225.6 701.6 226.7 698.0C227.8 694.4 230.0 691.0 233.3 688.0C236.6 685.0 241.7 681.7 246.7 679.7C251.7 677.8 258.9 677.7 263.3 676.3C267.7 674.9 270.5 674.3 273.3 671.3C276.1 668.2 277.2 662.2 280.0 658.0C282.8 653.8 285.0 649.1 290.0 646.3C295.0 643.5 302.8 641.3 310.0 641.3C317.2 641.3 326.1 644.1 333.3 646.3C340.5 648.5 347.7 652.2 353.3 654.7C358.9 657.2 362.2 659.4 366.7 661.3C371.1 663.2 374.4 665.7 380.0 666.3C385.6 666.9 394.4 664.9 400.0 664.7C405.6 664.5 407.8 663.0 413.3 665.0C418.9 667.0 426.6 672.5 433.3 676.7C440.0 680.9 446.1 685.9 453.3 690.0C460.5 694.1 468.9 698.0 476.7 701.3C484.5 704.6 493.3 706.9 500.0 709.7C506.7 712.5 513.0 716.3 516.7 718.0C520.4 719.7 520.5 718.3 522.0 720.0C523.5 721.7 523.3 725.3 526.0 728.0C528.7 730.7 534.7 733.3 538.0 736.0C541.3 738.7 544.0 742.0 546.0 744.0C548.0 746.0 549.3 745.3 550.0 748.0C550.7 750.7 549.7 756.3 550.0 760.0C550.3 763.7 550.3 767.7 552.0 770.0C553.7 772.3 557.7 772.3 560.0 774.0C562.3 775.7 564.3 777.7 566.0 780.0C567.7 782.3 569.2 785.3 570.0 788.0C570.8 790.7 571.3 793.3 571.0 796.0C570.7 798.7 569.5 801.0 568.0 804.0C566.5 807.0 563.5 810.7 562.0 814.0C560.5 817.3 559.3 820.7 559.0 824.0C558.7 827.3 559.2 831.3 560.0 834.0C560.8 836.7 562.3 838.8 564.0 840.0C565.7 841.2 568.0 841.7 570.0 841.0C572.0 840.3 574.3 838.2 576.0 836.0C577.7 833.8 578.7 830.7 580.0 828.0C581.3 825.3 582.5 822.7 584.0 820.0C585.5 817.3 587.3 813.8 589.0 812.0C590.7 810.2 591.8 808.8 594.0 809.0C596.2 809.2 599.5 812.2 602.0 813.0C604.5 813.8 607.3 815.2 609.0 814.0C610.7 812.8 611.3 808.3 612.0 806.0C612.7 803.7 613.3 802.3 613.0 800.0C612.7 797.7 611.5 795.0 610.0 792.0C608.5 789.0 605.7 785.0 604.0 782.0C602.3 779.0 600.3 776.3 600.0 774.0C599.7 771.7 600.3 769.5 602.0 768.0C603.7 766.5 607.3 766.5 610.0 765.0C612.7 763.5 615.8 760.2 618.0 759.0C620.2 757.8 622.0 757.2 623.0 758.0C624.0 758.8 624.0 761.7 624.0 764.0C624.0 766.3 622.7 769.0 623.0 772.0C623.3 775.0 624.7 778.3 626.0 782.0C627.3 785.7 630.0 790.7 631.0 794.0C632.0 797.3 632.3 799.3 632.0 802.0C631.7 804.7 629.7 807.0 629.0 810.0C628.3 813.0 628.5 816.7 628.0 820.0C627.5 823.3 627.3 826.7 626.0 830.0C624.7 833.3 622.3 837.0 620.0 840.0C617.7 843.0 614.7 845.8 612.0 848.0C609.3 850.2 606.7 851.3 604.0 853.0C601.3 854.7 599.0 856.0 596.0 858.0C593.0 860.0 588.8 862.7 586.0 865.0C583.2 867.3 580.3 869.8 579.0 872.0C577.7 874.2 577.2 876.7 578.0 878.0C578.8 879.3 581.7 880.0 584.0 880.0C586.3 880.0 589.3 878.0 592.0 878.0C594.7 878.0 597.0 879.3 600.0 880.0C603.0 880.7 606.7 881.5 610.0 882.0C613.3 882.5 616.3 883.3 620.0 883.0C623.7 882.7 628.0 881.0 632.0 880.0C636.0 879.0 640.0 878.0 644.0 877.0C648.0 876.0 651.7 875.2 656.0 874.0C660.3 872.8 665.3 871.7 670.0 870.0C674.7 868.3 679.7 865.7 684.0 864.0C688.3 862.3 692.0 860.8 696.0 860.0C700.0 859.2 704.0 859.0 708.0 859.0C712.0 859.0 714.7 858.8 720.0 860.0C725.3 861.2 733.3 865.0 740.0 866.3C746.7 867.6 753.9 867.4 760.0 868.0C766.1 868.6 772.7 869.7 776.7 869.7C780.7 869.7 782.1 869.0 784.0 868.0C785.9 867.0 787.0 867.3 788.0 864.0C789.0 860.7 788.3 852.2 790.0 848.0C791.7 843.8 794.7 840.0 798.0 839.0C801.3 838.0 806.3 840.7 810.0 842.0C813.7 843.3 817.5 844.8 820.0 846.7C822.5 848.6 823.3 851.1 825.0 853.3C826.7 855.5 828.8 857.8 830.0 860.0C831.2 862.2 831.5 865.3 832.5 866.7C833.5 868.1 835.1 869.4 835.8 868.3C836.5 867.2 836.7 862.4 836.7 860.0C836.7 857.6 835.2 855.5 835.8 854.2C836.3 853.0 838.2 852.2 840.0 852.5C841.8 852.8 844.8 854.8 846.7 855.8C848.7 856.8 849.8 858.1 851.7 858.3C853.6 858.4 856.1 857.2 858.3 856.7C860.5 856.2 863.0 855.4 865.0 855.0C867.0 854.6 868.0 853.7 870.0 854.2C872.0 854.8 875.2 856.8 876.7 858.3C878.2 859.8 879.2 861.6 879.2 863.3C879.2 865.0 876.6 867.2 876.7 868.3C876.8 869.4 878.3 870.3 880.0 870.0C881.7 869.7 884.8 867.5 886.7 866.7C888.7 865.9 890.3 864.7 891.7 865.0C893.1 865.3 893.6 867.5 895.0 868.3C896.4 869.1 898.8 870.8 900.0 870.0C901.2 869.2 902.0 865.2 902.5 863.3C903.0 861.3 903.4 859.8 903.3 858.3C903.2 856.8 901.4 855.5 901.7 854.2C902.0 853.0 903.6 851.9 905.0 850.8C906.4 849.7 908.8 848.2 910.0 847.5C911.2 846.8 912.0 845.7 912.5 846.7C913.0 847.7 912.3 851.9 913.3 853.3C914.3 854.7 916.5 855.4 918.3 855.0C920.1 854.6 922.8 852.2 924.2 850.8C925.6 849.4 926.9 848.1 926.7 846.7C926.6 845.3 925.0 843.9 923.3 842.5C921.6 841.1 918.5 839.4 916.7 838.3C914.9 837.2 912.8 836.8 912.5 835.8C912.2 834.8 913.8 833.5 915.0 832.5C916.2 831.5 918.2 830.4 920.0 830.0C921.8 829.6 924.0 829.3 925.8 830.0C927.6 830.7 930.1 832.7 930.8 834.2C931.5 835.7 930.7 837.7 930.0 839.2C929.3 840.7 926.7 842.2 926.7 843.3C926.7 844.4 928.3 844.5 930.0 845.8C931.7 847.0 934.5 849.0 936.7 850.8C938.9 852.6 941.5 854.9 943.3 856.7C945.1 858.5 946.1 860.7 947.5 861.7C948.9 862.7 950.3 862.9 951.7 862.5C953.1 862.1 954.4 859.5 955.8 859.2C957.2 858.9 959.7 860.0 960.0 860.8C960.3 861.6 958.5 863.1 957.5 864.2C956.5 865.3 954.5 866.2 954.2 867.5C953.9 868.8 955.0 870.0 955.8 871.7C956.6 873.5 957.5 875.6 959.2 878.0C960.9 880.4 963.5 886.0 966.0 886.0C968.5 886.0 973.0 881.0 974.2 878.0C975.4 875.0 973.0 870.8 973.3 868.3C973.6 865.8 974.7 865.0 975.8 863.3C976.9 861.6 979.7 860.0 980.0 858.3C980.3 856.6 979.0 854.0 977.5 853.3C976.0 852.6 972.9 854.1 970.8 854.2C968.7 854.4 966.5 854.8 965.0 854.2C963.5 853.6 962.1 852.0 961.7 850.8C961.3 849.5 961.4 847.4 962.5 846.7C963.6 846.0 966.2 846.6 968.3 846.7C970.4 846.8 973.3 848.1 975.0 847.5C976.7 846.9 977.2 845.1 978.3 843.3C979.4 841.5 980.3 838.5 981.7 836.7C983.1 834.9 985.0 833.1 986.7 832.5C988.4 831.9 990.6 832.3 991.7 833.3C992.8 834.3 993.3 836.6 993.3 838.3C993.3 840.0 992.4 841.6 991.7 843.3C991.0 845.0 989.9 846.6 989.2 848.3C988.5 850.0 987.4 851.6 987.5 853.3C987.6 855.0 988.8 857.0 990.0 858.3C991.2 859.5 993.3 860.5 995.0 860.8C996.7 861.1 998.3 860.7 1000.0 860.0C1001.7 859.3 1003.3 858.4 1005.0 856.7C1006.7 855.0 1008.6 852.8 1010.0 850.0C1011.4 847.2 1012.2 845.3 1013.3 840.0C1014.4 834.7 1014.5 822.8 1016.7 818.0C1018.9 813.2 1022.3 812.7 1026.7 811.3C1031.1 809.9 1038.3 810.2 1043.3 809.7C1048.3 809.2 1053.4 809.1 1056.7 808.0C1060.0 806.9 1060.5 802.7 1063.3 803.0C1066.1 803.3 1070.0 808.3 1073.3 809.7C1076.6 811.1 1080.0 811.9 1083.3 811.3C1086.6 810.7 1090.2 806.3 1093.3 806.3C1096.4 806.3 1098.4 807.1 1101.7 811.3C1105.0 815.5 1110.0 827.4 1113.3 831.3C1116.6 835.2 1118.4 835.8 1121.7 834.7C1125.0 833.6 1131.1 826.4 1133.0 824.7" fill="none" stroke="rgba(255,255,255,0.75)" stroke-width="1" stroke-linejoin="round"/>
<path d="M380.0 901.0C378.9 900.2 376.6 897.3 373.3 896.3C370.0 895.2 364.9 895.1 360.0 894.7C355.1 894.3 348.7 894.5 344.0 894.0C339.3 893.5 334.7 893.3 332.0 892.0C329.3 890.7 328.3 888.0 328.0 886.0C327.7 884.0 330.0 882.3 330.0 880.0C330.0 877.7 329.3 874.3 328.0 872.0C326.7 869.7 323.7 868.0 322.0 866.0C320.3 864.0 320.0 861.3 318.0 860.0C316.0 858.7 313.0 858.3 310.0 858.0C307.0 857.7 303.3 858.3 300.0 858.0C296.7 857.7 292.7 857.7 290.0 856.0C287.3 854.3 286.3 850.7 284.0 848.0C281.7 845.3 278.2 841.9 276.0 840.0C273.8 838.1 272.2 837.1 270.6 836.4C269.1 835.7 268.0 836.2 266.7 835.7C265.4 835.2 264.1 834.0 262.8 833.1C261.5 832.2 260.2 831.9 258.9 830.6C257.6 829.3 256.1 827.4 255.0 825.4C253.9 823.4 253.7 820.8 252.4 818.9C251.1 817.0 249.0 815.2 247.3 813.7C245.6 812.2 243.8 811.2 242.1 809.9C240.4 808.6 238.6 807.2 236.9 806.0C235.2 804.8 233.2 803.6 231.7 802.7C230.2 801.8 229.2 800.7 227.9 800.8C226.6 800.9 225.0 801.9 224.0 803.4C223.0 804.9 222.4 807.8 222.0 809.9C221.6 812.0 221.8 815.0 221.4 816.3C221.0 817.6 220.6 817.9 219.5 817.6C218.4 817.3 216.5 815.1 214.9 814.4C213.3 813.7 211.5 813.4 209.8 813.5C208.1 813.6 206.6 813.9 204.6 815.0C202.6 816.1 200.3 818.2 198.1 820.2C195.9 822.2 193.8 825.0 191.6 826.7C189.4 828.4 187.5 829.9 185.2 830.6C182.9 831.3 180.5 832.5 178.0 831.0C175.5 829.5 172.4 824.8 170.0 821.3C167.6 817.8 165.5 813.3 163.3 809.7C161.1 806.1 159.5 802.8 156.7 799.7C153.9 796.6 150.6 794.4 146.7 791.3C142.8 788.2 138.3 785.5 133.3 781.3C128.3 777.1 121.7 769.6 116.7 766.3C111.7 763.0 106.9 763.0 103.3 761.3C99.7 759.6 97.2 756.3 95.0 756.3C92.8 756.3 91.1 757.7 90.0 761.3C88.9 764.9 89.4 773.0 88.3 778.0C87.2 783.0 86.3 787.7 83.3 791.3C80.2 794.9 75.0 796.4 70.0 799.7C65.0 803.0 59.1 808.5 53.3 811.3C47.5 814.1 38.0 815.5 35.0 816.3" fill="none" stroke="rgba(255,255,255,0.75)" stroke-width="1" stroke-linejoin="round"/>
<path d="M128.7 518.7C128.7 517.3 131.6 514.5 132.8 514.6C134.1 514.8 136.2 518.2 136.2 519.6C136.2 521.0 134.1 523.1 132.8 523.0C131.6 522.9 128.7 520.1 128.7 518.7Z" fill="#f3d080" stroke="rgba(255,255,255,0.75)" stroke-width="1" stroke-linejoin="round"/>
<path d="M68.8 606.1C69.3 605.7 70.1 605.7 70.6 606.1C71.1 606.5 71.6 607.4 71.8 608.5C72.0 609.5 72.0 611.1 71.8 612.1C71.6 613.2 71.1 614.1 70.6 614.5C70.1 614.9 69.3 614.9 68.8 614.5C68.3 614.1 67.8 613.2 67.6 612.1C67.4 611.1 67.4 609.5 67.6 608.5C67.8 607.4 68.3 606.5 68.8 606.1Z" fill="#f3d080" stroke="rgba(255,255,255,0.75)" stroke-width="1" stroke-linejoin="round"/>
<path d="M674.7 653.3C675.3 652.6 676.3 652.6 676.9 653.3C677.5 654.0 678.1 655.7 678.3 657.5C678.5 659.3 678.5 662.3 678.3 664.1C678.1 665.9 677.5 667.6 676.9 668.3C676.3 669.0 675.3 669.0 674.7 668.3C674.1 667.6 673.5 665.9 673.3 664.1C673.1 662.3 673.1 659.3 673.3 657.5C673.5 655.7 674.1 654.0 674.7 653.3Z" fill="#f3d080" stroke="rgba(255,255,255,0.75)" stroke-width="1" stroke-linejoin="round"/>
<path d="M698.7 668.3C700.3 667.8 703.0 667.8 704.6 668.3C706.2 668.8 707.7 670.2 708.3 671.6C708.9 673.0 708.9 675.3 708.3 676.7C707.7 678.1 706.2 679.5 704.6 680.0C703.0 680.5 700.3 680.5 698.7 680.0C697.1 679.5 695.6 678.1 695.0 676.7C694.4 675.3 694.4 673.0 695.0 671.6C695.6 670.2 697.1 668.8 698.7 668.3Z" fill="#f3d080" stroke="rgba(255,255,255,0.75)" stroke-width="1" stroke-linejoin="round"/>
<path d="M637.3 690.0C638.3 689.8 640.0 689.8 641.0 690.0C642.0 690.2 642.9 690.8 643.3 691.4C643.7 692.0 643.7 693.0 643.3 693.6C642.9 694.2 642.0 694.8 641.0 695.0C640.0 695.2 638.3 695.2 637.3 695.0C636.3 694.8 635.4 694.2 635.0 693.6C634.6 693.0 634.6 692.0 635.0 691.4C635.4 690.8 636.3 690.2 637.3 690.0Z" fill="#f3d080" stroke="rgba(255,255,255,0.75)" stroke-width="1" stroke-linejoin="round"/>
<path d="M752.0 700.0C752.0 699.1 754.4 698.2 755.6 698.4C756.8 698.6 759.0 700.1 759.0 701.0C759.0 701.9 756.8 703.8 755.6 703.6C754.4 703.4 752.0 700.9 752.0 700.0Z" fill="#f3d080" stroke="rgba(255,255,255,0.75)" stroke-width="1" stroke-linejoin="round"/>
<path d="M760.0 709.0C760.0 707.3 761.3 704.0 762.0 704.0C762.7 704.0 764.0 707.3 764.0 709.0C764.0 710.7 762.7 714.0 762.0 714.0C761.3 714.0 760.0 710.7 760.0 709.0Z" fill="#f3d080" stroke="rgba(255,255,255,0.75)" stroke-width="1" stroke-linejoin="round"/>
<path d="M714.0 734.0C714.0 732.8 717.7 731.8 719.0 732.0C720.3 732.2 722.0 733.8 722.0 735.0C722.0 736.2 720.3 739.2 719.0 739.0C717.7 738.8 714.0 735.2 714.0 734.0Z" fill="#f3d080" stroke="rgba(255,255,255,0.75)" stroke-width="1" stroke-linejoin="round"/>
<path d="M726.6 740.0C727.9 739.8 730.1 739.8 731.4 740.0C732.7 740.2 733.9 740.8 734.4 741.4C734.9 742.0 734.9 743.0 734.4 743.6C733.9 744.2 732.7 744.8 731.4 745.0C730.1 745.2 727.9 745.2 726.6 745.0C725.3 744.8 724.1 744.2 723.6 743.6C723.1 743.0 723.1 742.0 723.6 741.4C724.1 740.8 725.3 740.2 726.6 740.0Z" fill="#f3d080" stroke="rgba(255,255,255,0.75)" stroke-width="1" stroke-linejoin="round"/>
<path d="M683.0 748.0C683.6 746.5 684.5 743.6 686.0 742.4C687.5 741.2 690.4 740.7 692.0 741.0C693.6 741.3 695.6 742.5 695.6 744.0C695.6 745.5 693.6 748.5 692.0 750.0C690.4 751.5 687.6 752.7 686.0 753.0C684.4 753.3 682.9 752.4 682.4 751.6C681.9 750.8 682.4 749.5 683.0 748.0Z" fill="#f3d080" stroke="rgba(255,255,255,0.75)" stroke-width="1" stroke-linejoin="round"/>
<path d="M657.0 758.0C657.7 756.9 659.3 756.8 661.0 756.5C662.7 756.2 665.2 755.6 667.0 756.0C668.8 756.4 670.9 757.5 671.6 759.0C672.3 760.5 671.9 763.7 671.0 765.0C670.1 766.3 667.8 766.8 666.0 767.0C664.2 767.2 661.5 767.2 660.0 766.5C658.5 765.8 657.3 764.4 656.8 763.0C656.3 761.6 656.3 759.1 657.0 758.0Z" fill="#f3d080" stroke="rgba(255,255,255,0.75)" stroke-width="1" stroke-linejoin="round"/>
<path d="M746.4 754.0C746.8 752.5 748.6 751.3 750.0 751.0C751.4 750.7 753.6 751.1 755.0 752.4C756.4 753.7 757.6 756.7 758.4 759.0C759.2 761.3 759.7 763.7 759.6 766.0C759.5 768.3 758.9 771.2 758.0 773.0C757.1 774.8 755.3 776.8 754.0 777.0C752.7 777.2 751.2 775.5 750.0 774.0C748.8 772.5 747.4 770.3 747.0 768.0C746.6 765.7 747.7 762.3 747.6 760.0C747.5 757.7 746.0 755.5 746.4 754.0Z" fill="#f3d080" stroke="rgba(255,255,255,0.75)" stroke-width="1" stroke-linejoin="round"/>
<path d="M650.0 798.0C652.0 795.1 654.2 794.1 656.0 794.4C657.8 794.7 661.3 797.7 661.0 800.0C660.7 802.3 656.2 805.3 654.0 808.0C651.8 810.7 650.0 813.3 648.0 816.0C646.0 818.7 643.4 823.5 642.0 824.0C640.6 824.5 639.1 821.0 639.4 819.0C639.7 817.0 642.2 815.5 644.0 812.0C645.8 808.5 648.0 800.9 650.0 798.0Z" fill="#f3d080" stroke="rgba(255,255,255,0.75)" stroke-width="1" stroke-linejoin="round"/>
<path d="M900.7 758.5C901.7 758.3 903.3 758.3 904.3 758.5C905.4 758.7 906.3 759.3 906.7 759.8C907.1 760.4 907.1 761.4 906.7 762.0C906.3 762.5 905.4 763.1 904.3 763.3C903.3 763.5 901.7 763.5 900.7 763.3C899.6 763.1 898.7 762.5 898.3 762.0C897.9 761.4 897.9 760.4 898.3 759.8C898.7 759.3 899.6 758.7 900.7 758.5Z" fill="#f3d080" stroke="rgba(255,255,255,0.75)" stroke-width="1" stroke-linejoin="round"/>
<path d="M909.2 767.5C909.8 766.4 912.5 765.3 914.2 765.0C916.0 764.7 918.7 765.1 919.7 765.8C920.7 766.5 920.9 768.0 920.0 769.2C919.1 770.5 915.7 772.9 914.2 773.3C912.7 773.7 911.6 772.7 910.8 771.7C910.0 770.7 908.6 768.6 909.2 767.5Z" fill="#f3d080" stroke="rgba(255,255,255,0.75)" stroke-width="1" stroke-linejoin="round"/>
<path d="M946.7 757.0C947.2 755.3 952.1 753.7 954.0 755.0C955.9 756.3 958.1 762.6 958.3 765.0C958.5 767.4 956.2 769.2 955.0 769.2C953.8 769.2 952.2 767.0 950.8 765.0C949.4 763.0 946.2 758.7 946.7 757.0Z" fill="#f3d080" stroke="rgba(255,255,255,0.75)" stroke-width="1" stroke-linejoin="round"/>
<path d="M914.2 785.0C915.0 782.9 917.9 781.4 920.0 780.0C922.1 778.6 925.0 778.4 926.7 776.7C928.4 775.0 928.8 772.0 930.0 770.0C931.2 768.0 932.5 765.1 934.2 765.0C935.9 764.9 937.6 767.4 940.0 769.2C942.4 771.0 947.8 773.4 948.3 775.8C948.8 778.1 944.7 780.9 943.3 783.3C941.9 785.7 941.4 787.6 940.0 790.0C938.6 792.4 936.7 796.7 935.0 797.5C933.3 798.3 931.7 795.8 930.0 795.0C928.3 794.2 926.7 792.4 925.0 792.5C923.3 792.6 921.7 795.8 920.0 795.8C918.3 795.8 916.0 794.3 915.0 792.5C914.0 790.7 913.4 787.1 914.2 785.0Z" fill="#f3d080" stroke="rgba(255,255,255,0.75)" stroke-width="1" stroke-linejoin="round"/>
<path d="M35.0 333.3C36.4 332.5 40.5 328.3 43.3 328.3C46.1 328.3 49.2 330.5 51.7 333.3C54.2 336.1 56.4 341.7 58.3 345.0C60.2 348.3 61.3 353.9 63.3 353.3C65.2 352.8 67.5 340.3 70.0 341.7C72.5 343.1 76.6 354.5 78.3 361.7C80.0 368.9 79.9 379.1 80.0 385.0C80.1 390.9 78.7 394.2 79.0 397.0C79.3 399.8 80.5 399.4 81.8 401.7C83.1 404.0 85.2 407.5 86.9 410.9C88.6 414.2 90.0 418.3 91.9 421.8C93.9 425.3 96.8 428.5 98.6 431.8C100.4 435.1 101.7 438.5 102.7 441.8C103.7 445.1 103.7 448.5 104.4 451.9C105.1 455.2 106.9 458.6 106.9 461.9C106.9 465.2 104.4 469.1 104.4 471.9C104.4 474.7 105.7 476.8 106.9 478.6C108.2 480.4 110.2 482.8 111.9 482.8C113.6 482.8 115.5 479.9 117.0 478.6C118.5 477.4 119.1 476.0 121.1 475.3C123.0 474.6 126.0 474.3 128.7 474.4C131.3 474.5 134.2 475.5 137.0 476.1C139.8 476.7 143.2 477.1 145.4 477.8C147.6 478.5 149.7 478.8 150.4 480.3C151.1 481.8 150.4 485.1 149.6 487.0C148.8 488.9 146.8 490.5 145.4 492.0C144.0 493.5 141.2 494.5 141.2 496.2C141.2 497.9 144.0 500.9 145.4 502.0C146.8 503.1 148.2 503.4 149.6 502.9C151.0 502.3 152.5 500.5 153.7 498.7C154.9 496.9 156.2 493.9 156.8 492.0C157.4 490.1 156.2 488.5 157.1 487.0C158.0 485.5 160.1 483.8 162.1 482.8C164.1 481.8 166.3 481.2 168.8 481.1C171.3 481.0 174.7 481.2 177.2 482.0C179.7 482.8 181.3 484.9 183.8 486.1C186.3 487.4 189.4 488.8 192.2 489.5C195.0 490.2 198.4 490.4 200.6 490.3C202.8 490.2 204.3 488.0 205.6 488.6C206.8 489.2 207.4 491.7 208.1 493.7C208.8 495.7 208.6 498.4 209.8 500.4C211.1 502.3 213.5 503.7 215.6 505.4C217.7 507.1 219.9 508.9 222.3 510.4C224.7 511.9 228.2 512.5 230.0 514.6C231.8 516.8 230.5 519.6 233.3 523.3C236.1 527.0 242.2 535.3 246.7 536.7C251.1 538.1 253.9 530.6 260.0 531.7C266.1 532.8 277.2 543.0 283.3 543.3C289.4 543.6 292.2 535.5 296.7 533.3C301.1 531.1 304.4 529.4 310.0 530.0C315.6 530.6 322.8 533.4 330.0 536.7C337.2 540.0 346.1 546.7 353.3 550.0C360.5 553.3 367.7 554.2 373.3 556.7C378.9 559.2 382.2 563.3 386.7 565.0C391.1 566.7 394.4 563.9 400.0 566.7C405.6 569.5 412.8 578.4 420.0 581.7C427.2 585.0 435.5 584.8 443.3 586.7C451.1 588.6 458.9 591.1 466.7 593.3C474.5 595.5 484.4 596.7 490.0 600.0C495.6 603.3 494.4 609.4 500.0 613.3C505.6 617.2 516.6 621.6 523.3 623.3C530.0 625.0 534.4 621.6 540.0 623.3C545.6 625.0 551.2 630.0 556.7 633.3C562.2 636.6 566.1 642.5 573.3 643.3C580.5 644.1 592.2 640.2 600.0 638.3C607.8 636.4 613.3 633.1 620.0 631.7C626.7 630.3 633.9 627.8 640.0 630.0C646.1 632.2 652.2 643.0 656.7 645.0C661.2 647.0 663.4 641.2 666.7 641.7C670.0 642.2 673.4 648.0 676.7 648.3C680.0 648.6 683.9 643.3 686.7 643.3C689.5 643.3 690.0 648.0 693.3 648.3C696.6 648.6 701.7 644.7 706.7 645.0C711.7 645.3 718.6 647.5 723.3 650.0C728.0 652.5 731.1 659.7 735.0 660.0C738.9 660.3 742.8 652.2 746.7 651.7C750.6 651.2 754.4 656.7 758.3 656.7C762.2 656.7 765.8 653.1 770.0 651.7C774.2 650.3 778.3 648.6 783.3 648.3C788.3 648.0 795.0 648.1 800.0 650.0C805.0 651.9 809.4 656.2 813.3 659.7C817.2 663.2 820.0 667.7 823.3 671.3C826.6 674.9 830.8 676.8 833.3 681.3C835.8 685.8 835.5 693.5 838.3 698.0C841.1 702.5 847.2 703.5 850.0 708.0C852.8 712.5 852.8 721.1 855.0 724.7C857.2 728.3 859.1 729.4 863.3 729.7C867.5 730.0 874.4 727.7 880.0 726.3C885.6 724.9 891.2 723.2 896.7 721.3C902.2 719.4 908.9 716.9 913.3 714.7C917.7 712.5 920.0 708.3 923.3 708.0C926.6 707.7 930.0 710.2 933.3 713.0C936.6 715.8 940.5 721.4 943.3 724.7C946.1 728.0 947.2 731.3 950.0 733.0C952.8 734.7 959.2 736.9 960.0 734.7C960.8 732.5 954.5 723.0 955.0 719.7C955.5 716.4 960.2 715.3 963.3 714.7C966.3 714.1 969.4 717.1 973.3 716.3C977.2 715.5 981.7 711.4 986.7 709.7C991.7 708.0 998.3 707.4 1003.3 706.3C1008.3 705.2 1011.7 703.0 1016.7 703.0C1021.7 703.0 1028.3 704.3 1033.3 706.3C1038.3 708.2 1041.7 713.0 1046.7 714.7C1051.7 716.4 1057.8 716.6 1063.3 716.3C1068.8 716.0 1075.5 714.4 1080.0 713.0C1084.5 711.6 1087.2 711.3 1090.0 708.0C1092.8 704.7 1094.2 697.2 1096.7 693.0C1099.2 688.8 1101.7 685.0 1105.0 683.0C1108.3 681.0 1112.0 680.8 1116.7 681.3C1121.4 681.8 1130.3 685.5 1133.0 686.3L1133.0 102.0L35.0 102.0Z" fill="#f3d080"/>
<path d="M35.0 255.0C39.2 255.3 52.0 255.0 60.0 256.7C68.0 258.4 76.6 259.7 83.3 265.0C90.0 270.3 93.9 281.1 100.0 288.3C106.1 295.5 113.3 299.4 120.0 308.3C126.7 317.2 132.8 333.4 140.0 341.7C147.2 350.0 158.3 353.3 163.3 358.3C168.3 363.3 168.6 367.2 170.0 371.7C171.4 376.1 168.9 380.6 171.7 385.0C174.5 389.4 180.9 393.8 186.7 398.0C192.5 402.2 200.0 405.8 206.7 410.0C213.4 414.2 218.9 418.3 226.7 423.3C234.5 428.3 245.0 435.8 253.3 440.0C261.6 444.2 267.8 446.4 276.7 448.3C285.6 450.2 298.4 449.8 306.7 451.7C315.0 453.6 320.0 456.7 326.7 460.0C333.4 463.3 340.0 469.2 346.7 471.7C353.4 474.2 357.8 473.1 366.7 475.0C375.6 476.9 390.0 481.1 400.0 483.3C410.0 485.5 418.4 487.7 426.7 488.3C435.0 488.9 441.7 485.9 450.0 486.7C458.3 487.5 469.7 492.1 476.7 493.3C483.7 494.5 487.4 492.9 492.0 494.0C496.6 495.1 500.0 498.3 504.0 500.0C508.0 501.7 513.5 502.0 516.0 504.0C518.5 506.0 517.0 509.0 519.0 512.0C521.0 515.0 526.2 519.3 528.0 522.0C529.8 524.7 528.3 526.0 530.0 528.0C531.7 530.0 535.2 532.0 538.0 534.0C540.8 536.0 541.4 537.9 546.7 540.0C552.0 542.1 563.3 543.7 570.0 546.7C576.7 549.8 581.2 555.2 586.7 558.3C592.2 561.3 597.8 561.7 603.3 565.0C608.8 568.3 615.0 576.9 620.0 578.3C625.0 579.7 627.8 573.3 633.3 573.3C638.8 573.3 645.0 576.6 653.3 578.3C661.6 580.0 675.5 581.4 683.3 583.3C691.1 585.2 695.2 588.3 700.0 589.6C704.8 590.9 708.0 591.3 712.0 591.0C716.0 590.7 720.0 588.2 724.0 588.0C728.0 587.8 732.0 589.4 736.0 589.6C740.0 589.8 744.0 589.3 748.0 589.0C752.0 588.7 756.0 587.9 760.0 588.0C764.0 588.1 768.7 589.6 772.0 589.6C775.3 589.6 777.7 589.3 780.0 588.0C782.3 586.7 783.3 583.4 786.0 582.0C788.7 580.6 793.0 579.4 796.0 579.4C799.0 579.4 801.3 580.7 804.0 582.0C806.7 583.3 809.7 586.7 812.0 587.0C814.3 587.3 815.0 584.1 818.0 583.6C821.0 583.1 825.7 583.8 830.0 584.0C834.3 584.2 839.7 585.0 844.0 585.0C848.3 585.0 852.0 584.3 856.0 584.0C860.0 583.7 865.0 583.0 868.0 583.0C871.0 583.0 872.0 583.2 874.0 584.0C876.0 584.8 877.3 586.2 880.0 588.0C882.7 589.8 887.0 594.3 890.0 595.0C893.0 595.7 895.0 592.9 898.0 592.0C901.0 591.1 904.3 590.3 908.0 589.6C911.7 588.9 916.0 588.3 920.0 588.0C924.0 587.7 928.7 587.8 932.0 587.6C935.3 587.4 935.9 586.3 940.0 587.0C944.1 587.7 951.2 590.1 956.7 591.7C962.2 593.3 968.3 596.7 973.3 596.7C978.3 596.7 981.1 592.8 986.7 591.7C992.3 590.6 1000.0 590.8 1006.7 590.0C1013.4 589.2 1021.2 587.8 1026.7 586.7C1032.2 585.6 1036.7 584.4 1040.0 583.3C1043.3 582.2 1045.0 579.2 1046.7 580.0C1048.4 580.8 1047.2 586.3 1050.0 588.3C1052.8 590.2 1058.8 592.0 1063.3 591.7C1067.8 591.4 1072.2 590.0 1076.7 586.7C1081.2 583.4 1086.1 573.9 1090.0 571.7C1093.9 569.5 1096.1 573.3 1100.0 573.3C1103.9 573.3 1107.8 572.2 1113.3 571.7C1118.8 571.2 1129.7 570.3 1133.0 570.0L1133.0 102.0L35.0 102.0Z" fill="#eba54b"/>
<path d="M1060.7 596.0C1061.7 595.5 1063.3 595.5 1064.3 596.0C1065.4 596.5 1066.3 597.7 1066.7 599.0C1067.1 600.3 1067.1 602.4 1066.7 603.7C1066.3 605.0 1065.4 606.2 1064.3 606.7C1063.3 607.2 1061.7 607.2 1060.7 606.7C1059.6 606.2 1058.7 605.0 1058.3 603.7C1057.9 602.4 1057.9 600.3 1058.3 599.0C1058.7 597.7 1059.6 596.5 1060.7 596.0Z" fill="#eba54b" stroke="rgba(255,255,255,0.75)" stroke-width="1" stroke-linejoin="round"/>
<path d="M35.0 215.7C40.3 216.6 56.4 218.9 66.7 221.0C77.0 223.1 87.3 224.9 96.7 228.3C106.1 231.8 115.0 236.1 123.3 241.7C131.6 247.3 139.5 254.2 146.7 261.7C153.9 269.2 160.0 278.4 166.7 286.7C173.4 295.0 178.9 303.6 186.7 311.7C194.5 319.8 206.1 328.3 213.3 335.0C220.5 341.7 225.8 346.7 230.0 351.7C234.2 356.7 232.8 362.7 238.3 365.0C243.9 367.3 256.9 362.9 263.3 365.7C269.7 368.5 269.5 377.6 276.7 381.7C283.9 385.8 296.7 387.5 306.7 390.0C316.7 392.5 330.0 394.4 336.7 396.7C343.4 399.0 343.9 401.2 346.7 404.0C349.5 406.8 348.9 410.1 353.3 413.3C357.7 416.5 365.5 420.5 373.3 423.3C381.1 426.1 392.2 429.4 400.0 430.0C407.8 430.6 413.9 426.1 420.0 426.7C426.1 427.2 429.5 432.2 436.7 433.3C443.9 434.4 457.8 434.7 463.3 433.3C468.9 431.9 467.2 425.6 470.0 425.0C472.8 424.4 476.3 428.3 480.0 430.0C483.7 431.7 487.7 432.8 492.0 435.0C496.3 437.2 502.3 440.5 506.0 443.0C509.7 445.5 511.7 450.2 514.0 450.0C516.3 449.8 517.0 442.7 520.0 442.0C523.0 441.3 528.3 444.7 532.0 446.0C535.7 447.3 538.0 449.7 542.0 450.0C546.0 450.3 552.0 447.0 556.0 448.0C560.0 449.0 563.3 453.3 566.0 456.0C568.7 458.7 570.0 461.3 572.0 464.0C574.0 466.7 574.7 470.2 578.0 472.0C581.3 473.8 588.0 474.0 592.0 475.0C596.0 476.0 600.7 476.2 602.0 478.0C603.3 479.8 599.5 483.3 600.0 486.0C600.5 488.7 604.3 492.0 605.0 494.0C605.7 496.0 606.2 497.2 604.0 498.0C601.8 498.8 595.3 497.2 592.0 499.0C588.7 500.8 585.5 506.8 584.0 509.0C582.5 511.2 581.7 510.8 583.0 512.0C584.3 513.2 589.5 514.7 592.0 516.0C594.5 517.3 596.0 519.7 598.0 520.0C600.0 520.3 603.3 519.5 604.0 518.0C604.7 516.5 601.3 513.3 602.0 511.0C602.7 508.7 606.2 505.5 608.0 504.0C609.8 502.5 611.0 501.3 613.0 502.0C615.0 502.7 617.5 506.5 620.0 508.0C622.5 509.5 626.0 509.7 628.0 511.0C630.0 512.3 632.2 514.5 632.0 516.0C631.8 517.5 628.0 518.3 627.0 520.0C626.0 521.7 625.2 524.5 626.0 526.0C626.8 527.5 628.3 528.8 632.0 529.0C635.7 529.2 644.0 528.7 648.0 527.0C652.0 525.3 652.7 520.7 656.0 519.0C659.3 517.3 664.7 517.2 668.0 517.0C671.3 516.8 673.3 516.8 676.0 518.0C678.7 519.2 681.3 522.3 684.0 524.0C686.7 525.7 689.3 527.0 692.0 528.0C694.7 529.0 697.3 530.0 700.0 530.0C702.7 530.0 705.7 529.0 708.0 528.0C710.3 527.0 712.5 525.8 714.0 524.0C715.5 522.2 715.7 518.8 717.0 517.0C718.3 515.2 720.5 514.0 722.0 513.0C723.5 512.0 724.7 510.8 726.0 511.0C727.3 511.2 728.5 513.0 730.0 514.0C731.5 515.0 733.0 516.8 735.0 517.0C737.0 517.2 739.7 515.4 742.0 515.0C744.3 514.6 747.0 513.9 749.0 514.4C751.0 514.9 752.5 516.7 754.0 518.0C755.5 519.3 756.0 521.2 758.0 522.0C760.0 522.8 763.0 522.7 766.0 523.0C769.0 523.3 773.0 523.5 776.0 524.0C779.0 524.5 781.0 525.3 784.0 526.0C787.0 526.7 791.0 527.0 794.0 528.0C797.0 529.0 799.0 531.0 802.0 532.0C805.0 533.0 808.3 533.5 812.0 534.0C815.7 534.5 820.0 534.7 824.0 535.0C828.0 535.3 832.0 535.3 836.0 536.0C840.0 536.7 844.0 538.5 848.0 539.0C852.0 539.5 856.0 538.7 860.0 539.0C864.0 539.3 868.0 540.4 872.0 541.0C876.0 541.6 880.0 542.2 884.0 542.4C888.0 542.6 892.0 542.5 896.0 542.4C900.0 542.3 904.2 541.6 908.0 542.0C911.8 542.4 916.0 546.0 919.0 545.0C922.0 544.0 923.8 537.9 926.0 536.0C928.2 534.1 929.7 534.2 932.0 533.6C934.3 533.0 937.3 531.0 940.0 532.4C942.7 533.8 945.8 541.8 948.3 541.7C950.8 541.6 952.5 534.5 955.0 531.7C957.5 528.9 960.0 524.2 963.3 525.0C966.6 525.8 971.1 535.6 975.0 536.7C978.9 537.8 981.4 533.9 986.7 531.7C992.0 529.5 1000.6 525.2 1006.7 523.3C1012.8 521.3 1017.8 522.5 1023.3 520.0C1028.8 517.5 1034.4 510.5 1040.0 508.3C1045.6 506.1 1052.2 508.4 1056.7 506.7C1061.2 505.0 1063.4 501.1 1066.7 498.3C1070.0 495.5 1072.8 490.0 1076.7 490.0C1080.6 490.0 1085.0 496.1 1090.0 498.3C1095.0 500.5 1101.7 503.0 1106.7 503.3C1111.7 503.6 1115.6 500.8 1120.0 500.0C1124.4 499.2 1130.8 498.6 1133.0 498.3L1133.0 102.0L35.0 102.0Z" fill="#e48e3e"/>
<path d="M35.0 171.7C40.3 172.8 57.0 175.0 66.7 178.3C76.4 181.6 82.2 187.8 93.3 191.7C104.4 195.6 122.2 198.4 133.3 201.7C144.4 205.0 153.3 207.3 160.0 211.7C166.7 216.1 166.6 222.2 173.3 228.3C180.0 234.4 191.1 240.2 200.0 248.3C208.9 256.4 217.8 268.9 226.7 276.7C235.6 284.5 243.9 289.7 253.3 295.0C262.7 300.3 272.7 305.0 283.3 308.3C293.9 311.6 306.1 312.2 316.7 315.0C327.3 317.8 337.3 321.1 346.7 325.0C356.1 328.9 364.4 333.3 373.3 338.3C382.2 343.3 392.2 350.0 400.0 355.0C407.8 360.0 411.7 365.2 420.0 368.3C428.3 371.4 440.0 371.6 450.0 373.3C460.0 375.0 470.0 375.8 480.0 378.3C490.0 380.8 500.0 384.9 510.0 388.3C520.0 391.8 531.7 396.6 540.0 399.0C548.3 401.4 555.0 401.8 560.0 403.0C565.0 404.2 566.7 403.8 570.0 406.0C573.3 408.2 576.3 413.7 580.0 416.0C583.7 418.3 588.0 418.3 592.0 420.0C596.0 421.7 599.3 423.5 604.0 426.0C608.7 428.5 615.2 433.0 620.0 435.0C624.8 437.0 632.3 436.0 633.0 438.0C633.7 440.0 627.5 445.0 624.0 447.0C620.5 449.0 614.5 448.7 612.0 450.0C609.5 451.3 608.7 453.0 609.0 455.0C609.3 457.0 611.5 459.8 614.0 462.0C616.5 464.2 621.5 467.3 624.0 468.0C626.5 468.7 627.5 467.7 629.0 466.0C630.5 464.3 632.2 461.0 633.0 458.0C633.8 455.0 632.8 450.5 634.0 448.0C635.2 445.5 637.0 443.8 640.0 443.0C643.0 442.2 648.0 442.2 652.0 443.0C656.0 443.8 659.7 446.8 664.0 448.0C668.3 449.2 673.3 448.7 678.0 450.0C682.7 451.3 687.7 453.7 692.0 456.0C696.3 458.3 699.3 461.3 704.0 464.0C708.7 466.7 712.9 470.2 720.0 472.0C727.1 473.8 737.8 473.7 746.7 475.0C755.6 476.3 764.4 477.9 773.3 480.0C782.2 482.1 792.8 485.6 800.0 487.5C807.2 489.4 810.6 490.2 816.7 491.7C822.8 493.2 828.4 496.1 836.7 496.7C845.0 497.2 856.7 495.8 866.7 495.0C876.7 494.2 888.4 492.5 896.7 491.7C905.0 490.9 910.6 490.0 916.7 490.0C922.8 490.0 927.8 492.2 933.3 491.7C938.8 491.1 943.9 488.4 950.0 486.7C956.1 485.0 964.5 482.0 970.0 481.7C975.5 481.4 979.4 485.8 983.3 485.0C987.2 484.2 990.5 478.4 993.3 476.7C996.1 475.0 998.0 476.4 1000.0 475.0C1002.0 473.6 1002.8 469.1 1005.0 468.3C1007.2 467.5 1009.7 472.5 1013.3 470.0C1016.9 467.5 1022.2 456.9 1026.7 453.3C1031.2 449.7 1036.7 450.0 1040.0 448.3C1043.3 446.6 1044.5 443.0 1046.7 443.3C1048.9 443.6 1050.5 448.1 1053.3 450.0C1056.1 451.9 1060.0 453.6 1063.3 455.0C1066.6 456.4 1068.8 456.6 1073.3 458.3C1077.8 460.0 1085.0 465.6 1090.0 465.0C1095.0 464.4 1098.8 456.9 1103.3 455.0C1107.8 453.1 1111.8 453.9 1116.7 453.3C1121.7 452.8 1130.3 452.0 1133.0 451.7L1133.0 102.0L35.0 102.0Z" fill="#da7d3c"/>
<path d="M616.0 488.0C616.3 486.3 618.3 484.8 620.0 485.0C621.7 485.2 624.1 487.5 626.0 489.0C627.9 490.5 631.1 492.2 631.6 494.0C632.1 495.8 630.4 498.8 629.0 499.6C627.6 500.4 624.8 499.8 623.0 499.0C621.2 498.2 619.2 496.8 618.0 495.0C616.8 493.2 615.7 489.7 616.0 488.0Z" fill="#da7d3c" stroke="rgba(255,255,255,0.75)" stroke-width="1" stroke-linejoin="round"/>
<path d="M1090.2 436.5C1091.0 436.3 1092.3 436.3 1093.1 436.5C1093.9 436.7 1094.7 437.1 1095.0 437.5C1095.3 438.0 1095.3 438.7 1095.0 439.2C1094.7 439.6 1093.9 440.0 1093.1 440.2C1092.3 440.4 1091.0 440.4 1090.2 440.2C1089.4 440.0 1088.6 439.6 1088.3 439.2C1088.0 438.7 1088.0 438.0 1088.3 437.5C1088.6 437.1 1089.4 436.7 1090.2 436.5Z" fill="#e48e3e" stroke="rgba(255,255,255,0.75)" stroke-width="1" stroke-linejoin="round"/>
<path d="M35.0 128.3C40.3 130.0 54.2 134.8 66.7 138.3C79.2 141.8 96.1 147.0 110.0 149.3C123.9 151.6 137.2 150.0 150.0 152.3C162.8 154.6 173.9 159.2 186.7 163.3C199.5 167.4 214.5 171.7 226.7 176.7C238.9 181.7 249.4 188.0 260.0 193.3C270.6 198.6 278.9 201.4 290.0 208.3C301.1 215.2 314.5 227.8 326.7 235.0C338.9 242.2 351.1 244.9 363.3 251.7C375.5 258.5 390.6 268.8 400.0 276.0C409.4 283.2 411.7 290.4 420.0 295.0C428.3 299.6 440.0 300.0 450.0 303.3C460.0 306.6 470.0 310.3 480.0 315.0C490.0 319.7 498.9 326.1 510.0 331.7C521.1 337.2 533.9 343.3 546.7 348.3C559.5 353.3 575.0 356.1 586.7 361.7C598.4 367.3 605.6 376.1 616.7 381.7C627.8 387.2 645.0 391.9 653.3 395.0C661.6 398.1 662.9 398.2 666.7 400.0C670.5 401.8 672.1 403.8 676.0 406.0C679.9 408.2 685.0 411.7 690.0 413.0C695.0 414.3 701.0 412.8 706.0 414.0C711.0 415.2 714.3 417.6 720.0 420.0C725.7 422.4 732.2 425.5 740.0 428.3C747.8 431.1 756.7 434.2 766.7 436.7C776.7 439.2 791.1 441.6 800.0 443.3C808.9 445.0 812.8 445.3 820.0 446.7C827.2 448.1 835.0 450.6 843.3 451.7C851.6 452.8 861.1 453.9 870.0 453.3C878.9 452.7 888.9 449.4 896.7 448.3C904.5 447.2 910.6 447.8 916.7 446.7C922.8 445.6 928.9 443.9 933.3 441.7C937.7 439.5 938.3 434.7 943.3 433.3C948.3 431.9 957.2 434.4 963.3 433.3C969.4 432.2 975.0 429.8 980.0 426.7C985.0 423.6 987.8 417.2 993.3 415.0C998.8 412.8 1006.6 414.7 1013.3 413.3C1020.0 411.9 1028.8 409.2 1033.3 406.7C1037.8 404.1 1038.0 400.8 1040.0 398.0C1042.0 395.2 1042.8 390.5 1045.0 390.0C1047.2 389.5 1051.0 393.0 1053.0 395.0C1055.0 397.0 1056.1 398.9 1057.0 402.0C1057.9 405.1 1056.7 410.6 1058.3 413.3C1059.9 416.0 1062.0 418.0 1066.7 418.3C1071.4 418.6 1080.0 416.4 1086.7 415.0C1093.4 413.6 1101.2 410.3 1106.7 410.0C1112.2 409.7 1115.6 413.3 1120.0 413.3C1124.4 413.3 1130.8 410.6 1133.0 410.0L1133.0 102.0L35.0 102.0Z" fill="#ee043c"/>
<path d="M306.7 102.0C308.4 103.9 311.7 110.6 316.7 113.3C321.7 116.0 328.4 114.7 336.7 118.3C345.0 121.9 356.1 127.2 366.7 135.0C377.2 142.8 391.7 157.2 400.0 165.0C408.3 172.8 412.2 177.8 416.7 181.7C421.1 185.6 425.0 184.4 426.7 188.3C428.4 192.2 425.0 198.9 426.7 205.0C428.4 211.1 432.3 218.3 436.7 225.0C441.1 231.7 446.1 239.4 453.3 245.0C460.5 250.6 470.6 253.0 480.0 258.3C489.4 263.6 498.9 270.0 510.0 276.7C521.1 283.4 535.0 291.9 546.7 298.3C558.4 304.7 568.9 309.7 580.0 315.0C591.1 320.3 602.2 325.3 613.3 330.0C624.4 334.7 635.0 338.6 646.7 343.3C658.4 348.0 671.6 352.5 683.3 358.3C695.0 364.1 705.0 372.5 716.7 378.3C728.4 384.1 743.3 389.4 753.3 393.3C763.3 397.2 768.9 400.0 776.7 401.7C784.5 403.4 792.8 402.5 800.0 403.3C807.2 404.1 811.7 405.6 820.0 406.7C828.3 407.8 840.5 410.0 850.0 410.0C859.5 410.0 868.4 408.1 876.7 406.7C885.0 405.3 893.3 403.6 900.0 401.7C906.7 399.8 910.6 397.2 916.7 395.0C922.8 392.8 931.2 391.6 936.7 388.3C942.2 385.0 943.9 379.4 950.0 375.0C956.1 370.6 966.6 364.5 973.3 361.7C980.0 358.9 985.0 361.1 990.0 358.3C995.0 355.5 998.3 349.7 1003.3 345.0C1008.3 340.3 1015.0 331.7 1020.0 330.0C1025.0 328.3 1030.0 334.7 1033.3 335.0C1036.6 335.3 1036.7 330.6 1040.0 331.7C1043.3 332.8 1049.4 340.0 1053.3 341.7C1057.2 343.4 1060.5 340.3 1063.3 341.7C1066.1 343.1 1066.7 349.7 1070.0 350.0C1073.3 350.3 1079.4 346.1 1083.3 343.3C1087.2 340.5 1091.1 336.9 1093.3 333.3C1095.5 329.7 1096.1 325.3 1096.7 321.7C1097.3 318.1 1094.5 314.2 1096.7 311.7C1098.9 309.2 1106.1 308.9 1110.0 306.7C1113.9 304.5 1116.2 300.5 1120.0 298.3C1123.8 296.1 1130.8 294.1 1133.0 293.3L1133.0 102.0Z" fill="#e850a0"/>
<path d="M1125.0 308.3C1127.0 308.6 1129.5 313.4 1130.0 316.7C1130.5 320.0 1129.1 325.2 1128.3 328.3C1127.5 331.4 1124.3 332.8 1125.0 335.0C1125.7 337.2 1131.9 337.8 1132.7 341.7C1133.5 345.6 1131.8 354.3 1130.0 358.3C1128.2 362.3 1124.5 365.4 1121.7 365.7C1118.9 366.0 1115.4 362.9 1113.3 360.0C1111.2 357.1 1109.6 351.6 1109.3 348.3C1109.0 345.0 1110.5 342.2 1111.7 340.0C1112.9 337.8 1116.2 337.5 1116.7 335.0C1117.2 332.5 1114.7 328.3 1115.0 325.0C1115.3 321.7 1116.6 317.8 1118.3 315.0C1120.0 312.2 1123.0 308.0 1125.0 308.3Z" fill="#e850a0" stroke="rgba(255,255,255,0.75)" stroke-width="1" stroke-linejoin="round"/>
<path d="M1105.0 398.3C1104.5 396.5 1110.0 388.2 1111.7 388.3C1113.4 388.4 1116.1 397.3 1115.0 399.0C1113.9 400.7 1105.5 400.1 1105.0 398.3Z" fill="#e850a0" stroke="rgba(255,255,255,0.75)" stroke-width="1" stroke-linejoin="round"/>
<path d="M1125.0 391.0C1124.8 389.8 1126.0 384.8 1126.5 385.0C1127.0 385.2 1128.2 391.0 1128.0 392.0C1127.8 393.0 1125.2 392.2 1125.0 391.0Z" fill="#e850a0" stroke="rgba(255,255,255,0.75)" stroke-width="1" stroke-linejoin="round"/>
<path d="M426.7 102.0C428.4 105.3 430.6 114.0 436.7 121.7C442.8 129.4 457.2 140.0 463.3 148.3C469.4 156.6 468.3 162.8 473.3 171.7C478.3 180.6 486.1 192.8 493.3 201.7C500.5 210.6 507.8 217.2 516.7 225.0C525.6 232.8 536.2 241.1 546.7 248.3C557.2 255.5 568.9 263.6 580.0 268.3C591.1 273.0 604.4 272.2 613.3 276.7C622.2 281.1 624.4 289.2 633.3 295.0C642.2 300.8 655.6 307.0 666.7 311.7C677.8 316.4 688.3 318.6 700.0 323.3C711.7 328.0 725.6 334.7 736.7 340.0C747.8 345.3 756.2 350.8 766.7 355.0C777.2 359.2 789.5 363.9 800.0 365.0C810.5 366.1 820.5 363.6 830.0 361.7C839.5 359.8 847.2 356.6 856.7 353.3C866.2 350.0 876.7 345.0 886.7 341.7C896.7 338.4 907.3 336.6 916.7 333.3C926.1 330.0 935.0 325.3 943.3 321.7C951.6 318.1 960.3 313.9 966.7 311.7C973.1 309.5 977.5 308.9 981.7 308.3C985.9 307.7 988.1 310.2 991.7 308.3C995.3 306.4 998.6 300.0 1003.3 296.7C1008.0 293.4 1016.1 290.5 1020.0 288.3C1023.9 286.1 1024.5 283.3 1026.7 283.3C1028.9 283.3 1030.0 289.1 1033.3 288.3C1036.6 287.5 1041.1 280.5 1046.7 278.3C1052.3 276.1 1060.6 276.7 1066.7 275.0C1072.8 273.3 1078.3 271.6 1083.3 268.3C1088.3 265.0 1091.1 260.6 1096.7 255.0C1102.3 249.4 1114.5 240.8 1116.7 235.0C1118.9 229.2 1109.5 223.1 1110.0 220.0C1110.5 216.9 1116.2 216.4 1120.0 216.7C1123.8 217.0 1130.8 220.9 1133.0 221.7L1133.0 102.0Z" fill="#9b70a8"/>
<path d="M483.3 102.0C486.1 105.8 495.6 116.7 500.0 125.0C504.4 133.3 504.4 142.8 510.0 151.7C515.5 160.6 525.5 170.0 533.3 178.3C541.1 186.6 547.8 194.5 556.7 201.7C565.6 208.9 576.7 215.0 586.7 221.7C596.7 228.4 607.3 235.6 616.7 241.7C626.1 247.8 633.3 252.8 643.3 258.3C653.3 263.9 665.0 271.1 676.7 275.0C688.4 278.9 702.8 279.8 713.3 281.7C723.8 283.6 732.8 283.4 740.0 286.7C747.2 290.0 751.2 297.3 756.7 301.7C762.2 306.1 766.1 311.1 773.3 313.3C780.5 315.5 793.3 314.7 800.0 315.0C806.7 315.3 807.8 316.1 813.3 315.0C818.8 313.9 825.5 311.6 833.3 308.3C841.1 305.0 850.5 298.6 860.0 295.0C869.5 291.4 880.5 288.4 890.0 286.7C899.5 285.0 909.5 284.8 916.7 285.0C923.9 285.2 927.2 289.1 933.3 287.7C939.4 286.3 945.5 280.8 953.3 276.7C961.1 272.6 972.5 265.8 980.0 263.3C987.5 260.8 992.8 263.9 998.3 261.7C1003.8 259.5 1010.5 253.3 1013.3 250.0C1016.1 246.7 1012.8 245.0 1015.0 241.7C1017.2 238.4 1022.5 231.9 1026.7 230.0C1030.9 228.1 1035.6 231.4 1040.0 230.0C1044.4 228.6 1049.4 223.9 1053.3 221.7C1057.2 219.5 1058.3 220.0 1063.3 216.7C1068.3 213.4 1080.2 206.7 1083.3 201.7C1086.4 196.7 1080.0 188.9 1081.7 186.7C1083.4 184.5 1089.1 190.0 1093.3 188.3C1097.5 186.6 1100.1 180.1 1106.7 176.7C1113.3 173.3 1128.6 169.2 1133.0 167.7L1133.0 102.0Z" fill="#6370f8"/>
<path d="M531.7 102.0C533.6 105.8 537.5 116.2 543.3 125.0C549.1 133.8 558.4 146.1 566.7 155.0C575.0 163.9 584.4 171.1 593.3 178.3C602.2 185.5 611.1 192.5 620.0 198.3C628.9 204.1 638.4 209.4 646.7 213.3C655.0 217.2 663.3 218.4 670.0 221.7C676.7 225.0 678.9 230.0 686.7 233.3C694.5 236.6 706.7 239.5 716.7 241.7C726.7 243.9 738.9 244.5 746.7 246.7C754.5 248.9 754.4 253.1 763.3 255.0C772.2 256.9 792.8 256.9 800.0 258.3C807.2 259.7 802.2 264.4 806.7 263.3C811.2 262.2 820.0 255.3 826.7 251.7C833.4 248.1 840.0 244.5 846.7 241.7C853.4 238.9 860.0 236.7 866.7 235.0C873.4 233.3 881.2 230.9 886.7 231.7C892.2 232.5 896.7 238.1 900.0 240.0C903.3 241.9 904.8 245.0 906.7 243.3C908.7 241.6 908.9 232.5 911.7 230.0C914.5 227.5 919.1 228.0 923.3 228.3C927.5 228.6 932.8 230.9 936.7 231.7C940.6 232.5 944.5 237.2 946.7 233.3C948.9 229.4 949.2 215.2 950.0 208.3C950.8 201.4 949.5 195.6 951.7 191.7C953.9 187.8 959.7 186.4 963.3 185.0C966.9 183.6 970.2 184.4 973.3 183.3C976.4 182.2 978.6 180.0 981.7 178.3C984.8 176.6 988.9 176.1 991.7 173.3C994.5 170.5 996.1 162.8 998.3 161.7C1000.5 160.6 1003.6 163.9 1005.0 166.7C1006.4 169.5 1006.7 174.7 1006.7 178.3C1006.7 181.9 1003.9 186.1 1005.0 188.3C1006.1 190.5 1009.1 192.8 1013.3 191.7C1017.5 190.6 1025.5 185.9 1030.0 181.7C1034.5 177.5 1036.1 170.6 1040.0 166.7C1043.9 162.8 1048.8 160.2 1053.3 158.3C1057.8 156.4 1064.2 157.2 1066.7 155.0C1069.2 152.8 1065.5 147.5 1068.3 145.0C1071.1 142.5 1078.0 142.8 1083.3 140.0C1088.6 137.2 1094.4 132.5 1100.0 128.3C1105.6 124.1 1111.2 118.9 1116.7 115.0C1122.2 111.1 1130.3 106.7 1133.0 105.0L1133.0 102.0Z" fill="#7f96ff"/>
<path d="M977.8 210.0C979.0 209.8 981.0 209.8 982.2 210.0C983.4 210.2 984.5 210.6 985.0 211.0C985.5 211.4 985.5 212.1 985.0 212.5C984.5 212.9 983.4 213.3 982.2 213.5C981.0 213.7 979.0 213.7 977.8 213.5C976.6 213.3 975.5 212.9 975.0 212.5C974.5 212.1 974.5 211.4 975.0 211.0C975.5 210.6 976.6 210.2 977.8 210.0Z" fill="#7f96ff" stroke="rgba(255,255,255,0.75)" stroke-width="1" stroke-linejoin="round"/>
<path d="M983.0 218.0C983.4 217.8 984.1 217.8 984.5 218.0C984.9 218.2 985.3 218.8 985.5 219.4C985.7 220.0 985.7 221.0 985.5 221.6C985.3 222.2 984.9 222.8 984.5 223.0C984.1 223.2 983.4 223.2 983.0 223.0C982.6 222.8 982.2 222.2 982.0 221.6C981.8 221.0 981.8 220.0 982.0 219.4C982.2 218.8 982.6 218.2 983.0 218.0Z" fill="#7f96ff" stroke="rgba(255,255,255,0.75)" stroke-width="1" stroke-linejoin="round"/>
<path d="M983.4 233.0C984.0 232.8 985.0 232.8 985.6 233.0C986.2 233.2 986.8 233.6 987.0 234.1C987.2 234.6 987.2 235.4 987.0 235.9C986.8 236.4 986.2 236.8 985.6 237.0C985.0 237.2 984.0 237.2 983.4 237.0C982.8 236.8 982.2 236.4 982.0 235.9C981.8 235.4 981.8 234.6 982.0 234.1C982.2 233.6 982.8 233.2 983.4 233.0Z" fill="#7f96ff" stroke="rgba(255,255,255,0.75)" stroke-width="1" stroke-linejoin="round"/>
<path d="M581.7 102.0C583.1 104.7 584.7 112.2 590.0 118.3C595.3 124.3 606.1 131.1 613.3 138.3C620.5 145.5 626.6 155.0 633.3 161.7C640.0 168.4 645.0 174.4 653.3 178.3C661.6 182.2 673.3 181.7 683.3 185.0C693.3 188.3 704.4 194.4 713.3 198.3C722.2 202.2 728.9 206.6 736.7 208.3C744.5 210.0 753.3 208.0 760.0 208.3C766.7 208.6 770.0 210.0 776.7 210.0C783.4 210.0 793.3 209.7 800.0 208.3C806.7 206.9 811.2 205.0 816.7 201.7C822.2 198.4 828.0 193.2 833.3 188.3C838.6 183.4 842.7 174.2 848.3 172.3C853.9 170.4 859.8 176.0 866.7 176.7C873.7 177.4 883.9 177.8 890.0 176.7C896.1 175.6 898.8 170.3 903.3 170.0C907.8 169.7 912.8 176.4 916.7 175.0C920.6 173.6 922.3 165.9 926.7 161.7C931.1 157.5 937.8 152.8 943.3 150.0C948.8 147.2 954.4 144.4 960.0 145.0C965.6 145.6 972.2 154.4 976.7 153.3C981.2 152.2 982.8 142.5 986.7 138.3C990.6 134.1 995.6 132.2 1000.0 128.3C1004.4 124.4 1009.7 119.4 1013.3 115.0C1016.9 110.6 1020.3 104.2 1021.7 102.0Z" fill="#8eb2ff"/>
<path d="M641.7 102.0C642.5 104.7 642.5 113.3 646.7 118.3C650.9 123.2 659.5 126.7 666.7 131.7C673.9 136.7 681.1 144.4 690.0 148.3C698.9 152.2 709.5 153.6 720.0 155.0C730.5 156.4 743.3 156.1 753.3 156.7C763.3 157.2 772.2 158.0 780.0 158.3C787.8 158.6 794.5 158.9 800.0 158.3C805.5 157.8 808.8 156.7 813.3 155.0C817.8 153.3 820.6 151.6 826.7 148.3C832.8 145.0 843.3 137.8 850.0 135.0C856.7 132.2 860.6 133.9 866.7 131.7C872.8 129.5 880.6 124.8 886.7 121.7C892.8 118.6 897.8 115.5 903.3 113.3C908.8 111.1 914.4 110.2 920.0 108.3C925.6 106.4 933.9 103.0 936.7 102.0Z" fill="#b5c9ff"/>
<path d="M917.3 128.3C918.1 125.9 920.1 124.2 923.3 122.3C926.5 120.4 933.2 117.4 936.7 117.0C940.2 116.6 942.9 118.5 944.0 120.0C945.1 121.5 945.1 123.9 943.3 125.7C941.5 127.5 936.6 129.6 933.3 131.0C930.0 132.4 925.8 133.4 923.3 134.3C920.8 135.2 919.3 137.7 918.3 136.7C917.3 135.7 916.5 130.7 917.3 128.3Z" fill="#b5c9ff" stroke="rgba(255,255,255,0.75)" stroke-width="1" stroke-linejoin="round"/>
<path d="M35.0 333.3C36.4 332.5 40.5 328.3 43.3 328.3C46.1 328.3 49.2 330.5 51.7 333.3C54.2 336.1 56.4 341.7 58.3 345.0C60.2 348.3 61.3 353.9 63.3 353.3C65.2 352.8 67.5 340.3 70.0 341.7C72.5 343.1 76.6 354.5 78.3 361.7C80.0 368.9 79.9 379.1 80.0 385.0C80.1 390.9 78.7 394.2 79.0 397.0C79.3 399.8 80.5 399.4 81.8 401.7C83.1 404.0 85.2 407.5 86.9 410.9C88.6 414.2 90.0 418.3 91.9 421.8C93.9 425.3 96.8 428.5 98.6 431.8C100.4 435.1 101.7 438.5 102.7 441.8C103.7 445.1 103.7 448.5 104.4 451.9C105.1 455.2 106.9 458.6 106.9 461.9C106.9 465.2 104.4 469.1 104.4 471.9C104.4 474.7 105.7 476.8 106.9 478.6C108.2 480.4 110.2 482.8 111.9 482.8C113.6 482.8 115.5 479.9 117.0 478.6C118.5 477.4 119.1 476.0 121.1 475.3C123.0 474.6 126.0 474.3 128.7 474.4C131.3 474.5 134.2 475.5 137.0 476.1C139.8 476.7 143.2 477.1 145.4 477.8C147.6 478.5 149.7 478.8 150.4 480.3C151.1 481.8 150.4 485.1 149.6 487.0C148.8 488.9 146.8 490.5 145.4 492.0C144.0 493.5 141.2 494.5 141.2 496.2C141.2 497.9 144.0 500.9 145.4 502.0C146.8 503.1 148.2 503.4 149.6 502.9C151.0 502.3 152.5 500.5 153.7 498.7C154.9 496.9 156.2 493.9 156.8 492.0C157.4 490.1 156.2 488.5 157.1 487.0C158.0 485.5 160.1 483.8 162.1 482.8C164.1 481.8 166.3 481.2 168.8 481.1C171.3 481.0 174.7 481.2 177.2 482.0C179.7 482.8 181.3 484.9 183.8 486.1C186.3 487.4 189.4 488.8 192.2 489.5C195.0 490.2 198.4 490.4 200.6 490.3C202.8 490.2 204.3 488.0 205.6 488.6C206.8 489.2 207.4 491.7 208.1 493.7C208.8 495.7 208.6 498.4 209.8 500.4C211.1 502.3 213.5 503.7 215.6 505.4C217.7 507.1 219.9 508.9 222.3 510.4C224.7 511.9 228.2 512.5 230.0 514.6C231.8 516.8 230.5 519.6 233.3 523.3C236.1 527.0 242.2 535.3 246.7 536.7C251.1 538.1 253.9 530.6 260.0 531.7C266.1 532.8 277.2 543.0 283.3 543.3C289.4 543.6 292.2 535.5 296.7 533.3C301.1 531.1 304.4 529.4 310.0 530.0C315.6 530.6 322.8 533.4 330.0 536.7C337.2 540.0 346.1 546.7 353.3 550.0C360.5 553.3 367.7 554.2 373.3 556.7C378.9 559.2 382.2 563.3 386.7 565.0C391.1 566.7 394.4 563.9 400.0 566.7C405.6 569.5 412.8 578.4 420.0 581.7C427.2 585.0 435.5 584.8 443.3 586.7C451.1 588.6 458.9 591.1 466.7 593.3C474.5 595.5 484.4 596.7 490.0 600.0C495.6 603.3 494.4 609.4 500.0 613.3C505.6 617.2 516.6 621.6 523.3 623.3C530.0 625.0 534.4 621.6 540.0 623.3C545.6 625.0 551.2 630.0 556.7 633.3C562.2 636.6 566.1 642.5 573.3 643.3C580.5 644.1 592.2 640.2 600.0 638.3C607.8 636.4 613.3 633.1 620.0 631.7C626.7 630.3 633.9 627.8 640.0 630.0C646.1 632.2 652.2 643.0 656.7 645.0C661.2 647.0 663.4 641.2 666.7 641.7C670.0 642.2 673.4 648.0 676.7 648.3C680.0 648.6 683.9 643.3 686.7 643.3C689.5 643.3 690.0 648.0 693.3 648.3C696.6 648.6 701.7 644.7 706.7 645.0C711.7 645.3 718.6 647.5 723.3 650.0C728.0 652.5 731.1 659.7 735.0 660.0C738.9 660.3 742.8 652.2 746.7 651.7C750.6 651.2 754.4 656.7 758.3 656.7C762.2 656.7 765.8 653.1 770.0 651.7C774.2 650.3 778.3 648.6 783.3 648.3C788.3 648.0 795.0 648.1 800.0 650.0C805.0 651.9 809.4 656.2 813.3 659.7C817.2 663.2 820.0 667.7 823.3 671.3C826.6 674.9 830.8 676.8 833.3 681.3C835.8 685.8 835.5 693.5 838.3 698.0C841.1 702.5 847.2 703.5 850.0 708.0C852.8 712.5 852.8 721.1 855.0 724.7C857.2 728.3 859.1 729.4 863.3 729.7C867.5 730.0 874.4 727.7 880.0 726.3C885.6 724.9 891.2 723.2 896.7 721.3C902.2 719.4 908.9 716.9 913.3 714.7C917.7 712.5 920.0 708.3 923.3 708.0C926.6 707.7 930.0 710.2 933.3 713.0C936.6 715.8 940.5 721.4 943.3 724.7C946.1 728.0 947.2 731.3 950.0 733.0C952.8 734.7 959.2 736.9 960.0 734.7C960.8 732.5 954.5 723.0 955.0 719.7C955.5 716.4 960.2 715.3 963.3 714.7C966.3 714.1 969.4 717.1 973.3 716.3C977.2 715.5 981.7 711.4 986.7 709.7C991.7 708.0 998.3 707.4 1003.3 706.3C1008.3 705.2 1011.7 703.0 1016.7 703.0C1021.7 703.0 1028.3 704.3 1033.3 706.3C1038.3 708.2 1041.7 713.0 1046.7 714.7C1051.7 716.4 1057.8 716.6 1063.3 716.3C1068.8 716.0 1075.5 714.4 1080.0 713.0C1084.5 711.6 1087.2 711.3 1090.0 708.0C1092.8 704.7 1094.2 697.2 1096.7 693.0C1099.2 688.8 1101.7 685.0 1105.0 683.0C1108.3 681.0 1112.0 680.8 1116.7 681.3C1121.4 681.8 1130.3 685.5 1133.0 686.3" fill="none" stroke="rgba(255,255,255,0.75)" stroke-width="1" stroke-linejoin="round"/>
<path d="M35.0 255.0C39.2 255.3 52.0 255.0 60.0 256.7C68.0 258.4 76.6 259.7 83.3 265.0C90.0 270.3 93.9 281.1 100.0 288.3C106.1 295.5 113.3 299.4 120.0 308.3C126.7 317.2 132.8 333.4 140.0 341.7C147.2 350.0 158.3 353.3 163.3 358.3C168.3 363.3 168.6 367.2 170.0 371.7C171.4 376.1 168.9 380.6 171.7 385.0C174.5 389.4 180.9 393.8 186.7 398.0C192.5 402.2 200.0 405.8 206.7 410.0C213.4 414.2 218.9 418.3 226.7 423.3C234.5 428.3 245.0 435.8 253.3 440.0C261.6 444.2 267.8 446.4 276.7 448.3C285.6 450.2 298.4 449.8 306.7 451.7C315.0 453.6 320.0 456.7 326.7 460.0C333.4 463.3 340.0 469.2 346.7 471.7C353.4 474.2 357.8 473.1 366.7 475.0C375.6 476.9 390.0 481.1 400.0 483.3C410.0 485.5 418.4 487.7 426.7 488.3C435.0 488.9 441.7 485.9 450.0 486.7C458.3 487.5 469.7 492.1 476.7 493.3C483.7 494.5 487.4 492.9 492.0 494.0C496.6 495.1 500.0 498.3 504.0 500.0C508.0 501.7 513.5 502.0 516.0 504.0C518.5 506.0 517.0 509.0 519.0 512.0C521.0 515.0 526.2 519.3 528.0 522.0C529.8 524.7 528.3 526.0 530.0 528.0C531.7 530.0 535.2 532.0 538.0 534.0C540.8 536.0 541.4 537.9 546.7 540.0C552.0 542.1 563.3 543.7 570.0 546.7C576.7 549.8 581.2 555.2 586.7 558.3C592.2 561.3 597.8 561.7 603.3 565.0C608.8 568.3 615.0 576.9 620.0 578.3C625.0 579.7 627.8 573.3 633.3 573.3C638.8 573.3 645.0 576.6 653.3 578.3C661.6 580.0 675.5 581.4 683.3 583.3C691.1 585.2 695.2 588.3 700.0 589.6C704.8 590.9 708.0 591.3 712.0 591.0C716.0 590.7 720.0 588.2 724.0 588.0C728.0 587.8 732.0 589.4 736.0 589.6C740.0 589.8 744.0 589.3 748.0 589.0C752.0 588.7 756.0 587.9 760.0 588.0C764.0 588.1 768.7 589.6 772.0 589.6C775.3 589.6 777.7 589.3 780.0 588.0C782.3 586.7 783.3 583.4 786.0 582.0C788.7 580.6 793.0 579.4 796.0 579.4C799.0 579.4 801.3 580.7 804.0 582.0C806.7 583.3 809.7 586.7 812.0 587.0C814.3 587.3 815.0 584.1 818.0 583.6C821.0 583.1 825.7 583.8 830.0 584.0C834.3 584.2 839.7 585.0 844.0 585.0C848.3 585.0 852.0 584.3 856.0 584.0C860.0 583.7 865.0 583.0 868.0 583.0C871.0 583.0 872.0 583.2 874.0 584.0C876.0 584.8 877.3 586.2 880.0 588.0C882.7 589.8 887.0 594.3 890.0 595.0C893.0 595.7 895.0 592.9 898.0 592.0C901.0 591.1 904.3 590.3 908.0 589.6C911.7 588.9 916.0 588.3 920.0 588.0C924.0 587.7 928.7 587.8 932.0 587.6C935.3 587.4 935.9 586.3 940.0 587.0C944.1 587.7 951.2 590.1 956.7 591.7C962.2 593.3 968.3 596.7 973.3 596.7C978.3 596.7 981.1 592.8 986.7 591.7C992.3 590.6 1000.0 590.8 1006.7 590.0C1013.4 589.2 1021.2 587.8 1026.7 586.7C1032.2 585.6 1036.7 584.4 1040.0 583.3C1043.3 582.2 1045.0 579.2 1046.7 580.0C1048.4 580.8 1047.2 586.3 1050.0 588.3C1052.8 590.2 1058.8 592.0 1063.3 591.7C1067.8 591.4 1072.2 590.0 1076.7 586.7C1081.2 583.4 1086.1 573.9 1090.0 571.7C1093.9 569.5 1096.1 573.3 1100.0 573.3C1103.9 573.3 1107.8 572.2 1113.3 571.7C1118.8 571.2 1129.7 570.3 1133.0 570.0" fill="none" stroke="rgba(255,255,255,0.75)" stroke-width="1" stroke-linejoin="round"/>
<path d="M35.0 215.7C40.3 216.6 56.4 218.9 66.7 221.0C77.0 223.1 87.3 224.9 96.7 228.3C106.1 231.8 115.0 236.1 123.3 241.7C131.6 247.3 139.5 254.2 146.7 261.7C153.9 269.2 160.0 278.4 166.7 286.7C173.4 295.0 178.9 303.6 186.7 311.7C194.5 319.8 206.1 328.3 213.3 335.0C220.5 341.7 225.8 346.7 230.0 351.7C234.2 356.7 232.8 362.7 238.3 365.0C243.9 367.3 256.9 362.9 263.3 365.7C269.7 368.5 269.5 377.6 276.7 381.7C283.9 385.8 296.7 387.5 306.7 390.0C316.7 392.5 330.0 394.4 336.7 396.7C343.4 399.0 343.9 401.2 346.7 404.0C349.5 406.8 348.9 410.1 353.3 413.3C357.7 416.5 365.5 420.5 373.3 423.3C381.1 426.1 392.2 429.4 400.0 430.0C407.8 430.6 413.9 426.1 420.0 426.7C426.1 427.2 429.5 432.2 436.7 433.3C443.9 434.4 457.8 434.7 463.3 433.3C468.9 431.9 467.2 425.6 470.0 425.0C472.8 424.4 476.3 428.3 480.0 430.0C483.7 431.7 487.7 432.8 492.0 435.0C496.3 437.2 502.3 440.5 506.0 443.0C509.7 445.5 511.7 450.2 514.0 450.0C516.3 449.8 517.0 442.7 520.0 442.0C523.0 441.3 528.3 444.7 532.0 446.0C535.7 447.3 538.0 449.7 542.0 450.0C546.0 450.3 552.0 447.0 556.0 448.0C560.0 449.0 563.3 453.3 566.0 456.0C568.7 458.7 570.0 461.3 572.0 464.0C574.0 466.7 574.7 470.2 578.0 472.0C581.3 473.8 588.0 474.0 592.0 475.0C596.0 476.0 600.7 476.2 602.0 478.0C603.3 479.8 599.5 483.3 600.0 486.0C600.5 488.7 604.3 492.0 605.0 494.0C605.7 496.0 606.2 497.2 604.0 498.0C601.8 498.8 595.3 497.2 592.0 499.0C588.7 500.8 585.5 506.8 584.0 509.0C582.5 511.2 581.7 510.8 583.0 512.0C584.3 513.2 589.5 514.7 592.0 516.0C594.5 517.3 596.0 519.7 598.0 520.0C600.0 520.3 603.3 519.5 604.0 518.0C604.7 516.5 601.3 513.3 602.0 511.0C602.7 508.7 606.2 505.5 608.0 504.0C609.8 502.5 611.0 501.3 613.0 502.0C615.0 502.7 617.5 506.5 620.0 508.0C622.5 509.5 626.0 509.7 628.0 511.0C630.0 512.3 632.2 514.5 632.0 516.0C631.8 517.5 628.0 518.3 627.0 520.0C626.0 521.7 625.2 524.5 626.0 526.0C626.8 527.5 628.3 528.8 632.0 529.0C635.7 529.2 644.0 528.7 648.0 527.0C652.0 525.3 652.7 520.7 656.0 519.0C659.3 517.3 664.7 517.2 668.0 517.0C671.3 516.8 673.3 516.8 676.0 518.0C678.7 519.2 681.3 522.3 684.0 524.0C686.7 525.7 689.3 527.0 692.0 528.0C694.7 529.0 697.3 530.0 700.0 530.0C702.7 530.0 705.7 529.0 708.0 528.0C710.3 527.0 712.5 525.8 714.0 524.0C715.5 522.2 715.7 518.8 717.0 517.0C718.3 515.2 720.5 514.0 722.0 513.0C723.5 512.0 724.7 510.8 726.0 511.0C727.3 511.2 728.5 513.0 730.0 514.0C731.5 515.0 733.0 516.8 735.0 517.0C737.0 517.2 739.7 515.4 742.0 515.0C744.3 514.6 747.0 513.9 749.0 514.4C751.0 514.9 752.5 516.7 754.0 518.0C755.5 519.3 756.0 521.2 758.0 522.0C760.0 522.8 763.0 522.7 766.0 523.0C769.0 523.3 773.0 523.5 776.0 524.0C779.0 524.5 781.0 525.3 784.0 526.0C787.0 526.7 791.0 527.0 794.0 528.0C797.0 529.0 799.0 531.0 802.0 532.0C805.0 533.0 808.3 533.5 812.0 534.0C815.7 534.5 820.0 534.7 824.0 535.0C828.0 535.3 832.0 535.3 836.0 536.0C840.0 536.7 844.0 538.5 848.0 539.0C852.0 539.5 856.0 538.7 860.0 539.0C864.0 539.3 868.0 540.4 872.0 541.0C876.0 541.6 880.0 542.2 884.0 542.4C888.0 542.6 892.0 542.5 896.0 542.4C900.0 542.3 904.2 541.6 908.0 542.0C911.8 542.4 916.0 546.0 919.0 545.0C922.0 544.0 923.8 537.9 926.0 536.0C928.2 534.1 929.7 534.2 932.0 533.6C934.3 533.0 937.3 531.0 940.0 532.4C942.7 533.8 945.8 541.8 948.3 541.7C950.8 541.6 952.5 534.5 955.0 531.7C957.5 528.9 960.0 524.2 963.3 525.0C966.6 525.8 971.1 535.6 975.0 536.7C978.9 537.8 981.4 533.9 986.7 531.7C992.0 529.5 1000.6 525.2 1006.7 523.3C1012.8 521.3 1017.8 522.5 1023.3 520.0C1028.8 517.5 1034.4 510.5 1040.0 508.3C1045.6 506.1 1052.2 508.4 1056.7 506.7C1061.2 505.0 1063.4 501.1 1066.7 498.3C1070.0 495.5 1072.8 490.0 1076.7 490.0C1080.6 490.0 1085.0 496.1 1090.0 498.3C1095.0 500.5 1101.7 503.0 1106.7 503.3C1111.7 503.6 1115.6 500.8 1120.0 500.0C1124.4 499.2 1130.8 498.6 1133.0 498.3" fill="none" stroke="rgba(255,255,255,0.75)" stroke-width="1" stroke-linejoin="round"/>
<path d="M35.0 171.7C40.3 172.8 57.0 175.0 66.7 178.3C76.4 181.6 82.2 187.8 93.3 191.7C104.4 195.6 122.2 198.4 133.3 201.7C144.4 205.0 153.3 207.3 160.0 211.7C166.7 216.1 166.6 222.2 173.3 228.3C180.0 234.4 191.1 240.2 200.0 248.3C208.9 256.4 217.8 268.9 226.7 276.7C235.6 284.5 243.9 289.7 253.3 295.0C262.7 300.3 272.7 305.0 283.3 308.3C293.9 311.6 306.1 312.2 316.7 315.0C327.3 317.8 337.3 321.1 346.7 325.0C356.1 328.9 364.4 333.3 373.3 338.3C382.2 343.3 392.2 350.0 400.0 355.0C407.8 360.0 411.7 365.2 420.0 368.3C428.3 371.4 440.0 371.6 450.0 373.3C460.0 375.0 470.0 375.8 480.0 378.3C490.0 380.8 500.0 384.9 510.0 388.3C520.0 391.8 531.7 396.6 540.0 399.0C548.3 401.4 555.0 401.8 560.0 403.0C565.0 404.2 566.7 403.8 570.0 406.0C573.3 408.2 576.3 413.7 580.0 416.0C583.7 418.3 588.0 418.3 592.0 420.0C596.0 421.7 599.3 423.5 604.0 426.0C608.7 428.5 615.2 433.0 620.0 435.0C624.8 437.0 632.3 436.0 633.0 438.0C633.7 440.0 627.5 445.0 624.0 447.0C620.5 449.0 614.5 448.7 612.0 450.0C609.5 451.3 608.7 453.0 609.0 455.0C609.3 457.0 611.5 459.8 614.0 462.0C616.5 464.2 621.5 467.3 624.0 468.0C626.5 468.7 627.5 467.7 629.0 466.0C630.5 464.3 632.2 461.0 633.0 458.0C633.8 455.0 632.8 450.5 634.0 448.0C635.2 445.5 637.0 443.8 640.0 443.0C643.0 442.2 648.0 442.2 652.0 443.0C656.0 443.8 659.7 446.8 664.0 448.0C668.3 449.2 673.3 448.7 678.0 450.0C682.7 451.3 687.7 453.7 692.0 456.0C696.3 458.3 699.3 461.3 704.0 464.0C708.7 466.7 712.9 470.2 720.0 472.0C727.1 473.8 737.8 473.7 746.7 475.0C755.6 476.3 764.4 477.9 773.3 480.0C782.2 482.1 792.8 485.6 800.0 487.5C807.2 489.4 810.6 490.2 816.7 491.7C822.8 493.2 828.4 496.1 836.7 496.7C845.0 497.2 856.7 495.8 866.7 495.0C876.7 494.2 888.4 492.5 896.7 491.7C905.0 490.9 910.6 490.0 916.7 490.0C922.8 490.0 927.8 492.2 933.3 491.7C938.8 491.1 943.9 488.4 950.0 486.7C956.1 485.0 964.5 482.0 970.0 481.7C975.5 481.4 979.4 485.8 983.3 485.0C987.2 484.2 990.5 478.4 993.3 476.7C996.1 475.0 998.0 476.4 1000.0 475.0C1002.0 473.6 1002.8 469.1 1005.0 468.3C1007.2 467.5 1009.7 472.5 1013.3 470.0C1016.9 467.5 1022.2 456.9 1026.7 453.3C1031.2 449.7 1036.7 450.0 1040.0 448.3C1043.3 446.6 1044.5 443.0 1046.7 443.3C1048.9 443.6 1050.5 448.1 1053.3 450.0C1056.1 451.9 1060.0 453.6 1063.3 455.0C1066.6 456.4 1068.8 456.6 1073.3 458.3C1077.8 460.0 1085.0 465.6 1090.0 465.0C1095.0 464.4 1098.8 456.9 1103.3 455.0C1107.8 453.1 1111.8 453.9 1116.7 453.3C1121.7 452.8 1130.3 452.0 1133.0 451.7" fill="none" stroke="rgba(255,255,255,0.75)" stroke-width="1" stroke-linejoin="round"/>
<path d="M35.0 128.3C40.3 130.0 54.2 134.8 66.7 138.3C79.2 141.8 96.1 147.0 110.0 149.3C123.9 151.6 137.2 150.0 150.0 152.3C162.8 154.6 173.9 159.2 186.7 163.3C199.5 167.4 214.5 171.7 226.7 176.7C238.9 181.7 249.4 188.0 260.0 193.3C270.6 198.6 278.9 201.4 290.0 208.3C301.1 215.2 314.5 227.8 326.7 235.0C338.9 242.2 351.1 244.9 363.3 251.7C375.5 258.5 390.6 268.8 400.0 276.0C409.4 283.2 411.7 290.4 420.0 295.0C428.3 299.6 440.0 300.0 450.0 303.3C460.0 306.6 470.0 310.3 480.0 315.0C490.0 319.7 498.9 326.1 510.0 331.7C521.1 337.2 533.9 343.3 546.7 348.3C559.5 353.3 575.0 356.1 586.7 361.7C598.4 367.3 605.6 376.1 616.7 381.7C627.8 387.2 645.0 391.9 653.3 395.0C661.6 398.1 662.9 398.2 666.7 400.0C670.5 401.8 672.1 403.8 676.0 406.0C679.9 408.2 685.0 411.7 690.0 413.0C695.0 414.3 701.0 412.8 706.0 414.0C711.0 415.2 714.3 417.6 720.0 420.0C725.7 422.4 732.2 425.5 740.0 428.3C747.8 431.1 756.7 434.2 766.7 436.7C776.7 439.2 791.1 441.6 800.0 443.3C808.9 445.0 812.8 445.3 820.0 446.7C827.2 448.1 835.0 450.6 843.3 451.7C851.6 452.8 861.1 453.9 870.0 453.3C878.9 452.7 888.9 449.4 896.7 448.3C904.5 447.2 910.6 447.8 916.7 446.7C922.8 445.6 928.9 443.9 933.3 441.7C937.7 439.5 938.3 434.7 943.3 433.3C948.3 431.9 957.2 434.4 963.3 433.3C969.4 432.2 975.0 429.8 980.0 426.7C985.0 423.6 987.8 417.2 993.3 415.0C998.8 412.8 1006.6 414.7 1013.3 413.3C1020.0 411.9 1028.8 409.2 1033.3 406.7C1037.8 404.1 1038.0 400.8 1040.0 398.0C1042.0 395.2 1042.8 390.5 1045.0 390.0C1047.2 389.5 1051.0 393.0 1053.0 395.0C1055.0 397.0 1056.1 398.9 1057.0 402.0C1057.9 405.1 1056.7 410.6 1058.3 413.3C1059.9 416.0 1062.0 418.0 1066.7 418.3C1071.4 418.6 1080.0 416.4 1086.7 415.0C1093.4 413.6 1101.2 410.3 1106.7 410.0C1112.2 409.7 1115.6 413.3 1120.0 413.3C1124.4 413.3 1130.8 410.6 1133.0 410.0" fill="none" stroke="rgba(255,255,255,0.75)" stroke-width="1" stroke-linejoin="round"/>
<path d="M306.7 102.0C308.4 103.9 311.7 110.6 316.7 113.3C321.7 116.0 328.4 114.7 336.7 118.3C345.0 121.9 356.1 127.2 366.7 135.0C377.2 142.8 391.7 157.2 400.0 165.0C408.3 172.8 412.2 177.8 416.7 181.7C421.1 185.6 425.0 184.4 426.7 188.3C428.4 192.2 425.0 198.9 426.7 205.0C428.4 211.1 432.3 218.3 436.7 225.0C441.1 231.7 446.1 239.4 453.3 245.0C460.5 250.6 470.6 253.0 480.0 258.3C489.4 263.6 498.9 270.0 510.0 276.7C521.1 283.4 535.0 291.9 546.7 298.3C558.4 304.7 568.9 309.7 580.0 315.0C591.1 320.3 602.2 325.3 613.3 330.0C624.4 334.7 635.0 338.6 646.7 343.3C658.4 348.0 671.6 352.5 683.3 358.3C695.0 364.1 705.0 372.5 716.7 378.3C728.4 384.1 743.3 389.4 753.3 393.3C763.3 397.2 768.9 400.0 776.7 401.7C784.5 403.4 792.8 402.5 800.0 403.3C807.2 404.1 811.7 405.6 820.0 406.7C828.3 407.8 840.5 410.0 850.0 410.0C859.5 410.0 868.4 408.1 876.7 406.7C885.0 405.3 893.3 403.6 900.0 401.7C906.7 399.8 910.6 397.2 916.7 395.0C922.8 392.8 931.2 391.6 936.7 388.3C942.2 385.0 943.9 379.4 950.0 375.0C956.1 370.6 966.6 364.5 973.3 361.7C980.0 358.9 985.0 361.1 990.0 358.3C995.0 355.5 998.3 349.7 1003.3 345.0C1008.3 340.3 1015.0 331.7 1020.0 330.0C1025.0 328.3 1030.0 334.7 1033.3 335.0C1036.6 335.3 1036.7 330.6 1040.0 331.7C1043.3 332.8 1049.4 340.0 1053.3 341.7C1057.2 343.4 1060.5 340.3 1063.3 341.7C1066.1 343.1 1066.7 349.7 1070.0 350.0C1073.3 350.3 1079.4 346.1 1083.3 343.3C1087.2 340.5 1091.1 336.9 1093.3 333.3C1095.5 329.7 1096.1 325.3 1096.7 321.7C1097.3 318.1 1094.5 314.2 1096.7 311.7C1098.9 309.2 1106.1 308.9 1110.0 306.7C1113.9 304.5 1116.2 300.5 1120.0 298.3C1123.8 296.1 1130.8 294.1 1133.0 293.3" fill="none" stroke="rgba(255,255,255,0.75)" stroke-width="1" stroke-linejoin="round"/>
<path d="M426.7 102.0C428.4 105.3 430.6 114.0 436.7 121.7C442.8 129.4 457.2 140.0 463.3 148.3C469.4 156.6 468.3 162.8 473.3 171.7C478.3 180.6 486.1 192.8 493.3 201.7C500.5 210.6 507.8 217.2 516.7 225.0C525.6 232.8 536.2 241.1 546.7 248.3C557.2 255.5 568.9 263.6 580.0 268.3C591.1 273.0 604.4 272.2 613.3 276.7C622.2 281.1 624.4 289.2 633.3 295.0C642.2 300.8 655.6 307.0 666.7 311.7C677.8 316.4 688.3 318.6 700.0 323.3C711.7 328.0 725.6 334.7 736.7 340.0C747.8 345.3 756.2 350.8 766.7 355.0C777.2 359.2 789.5 363.9 800.0 365.0C810.5 366.1 820.5 363.6 830.0 361.7C839.5 359.8 847.2 356.6 856.7 353.3C866.2 350.0 876.7 345.0 886.7 341.7C896.7 338.4 907.3 336.6 916.7 333.3C926.1 330.0 935.0 325.3 943.3 321.7C951.6 318.1 960.3 313.9 966.7 311.7C973.1 309.5 977.5 308.9 981.7 308.3C985.9 307.7 988.1 310.2 991.7 308.3C995.3 306.4 998.6 300.0 1003.3 296.7C1008.0 293.4 1016.1 290.5 1020.0 288.3C1023.9 286.1 1024.5 283.3 1026.7 283.3C1028.9 283.3 1030.0 289.1 1033.3 288.3C1036.6 287.5 1041.1 280.5 1046.7 278.3C1052.3 276.1 1060.6 276.7 1066.7 275.0C1072.8 273.3 1078.3 271.6 1083.3 268.3C1088.3 265.0 1091.1 260.6 1096.7 255.0C1102.3 249.4 1114.5 240.8 1116.7 235.0C1118.9 229.2 1109.5 223.1 1110.0 220.0C1110.5 216.9 1116.2 216.4 1120.0 216.7C1123.8 217.0 1130.8 220.9 1133.0 221.7" fill="none" stroke="rgba(255,255,255,0.75)" stroke-width="1" stroke-linejoin="round"/>
<path d="M483.3 102.0C486.1 105.8 495.6 116.7 500.0 125.0C504.4 133.3 504.4 142.8 510.0 151.7C515.5 160.6 525.5 170.0 533.3 178.3C541.1 186.6 547.8 194.5 556.7 201.7C565.6 208.9 576.7 215.0 586.7 221.7C596.7 228.4 607.3 235.6 616.7 241.7C626.1 247.8 633.3 252.8 643.3 258.3C653.3 263.9 665.0 271.1 676.7 275.0C688.4 278.9 702.8 279.8 713.3 281.7C723.8 283.6 732.8 283.4 740.0 286.7C747.2 290.0 751.2 297.3 756.7 301.7C762.2 306.1 766.1 311.1 773.3 313.3C780.5 315.5 793.3 314.7 800.0 315.0C806.7 315.3 807.8 316.1 813.3 315.0C818.8 313.9 825.5 311.6 833.3 308.3C841.1 305.0 850.5 298.6 860.0 295.0C869.5 291.4 880.5 288.4 890.0 286.7C899.5 285.0 909.5 284.8 916.7 285.0C923.9 285.2 927.2 289.1 933.3 287.7C939.4 286.3 945.5 280.8 953.3 276.7C961.1 272.6 972.5 265.8 980.0 263.3C987.5 260.8 992.8 263.9 998.3 261.7C1003.8 259.5 1010.5 253.3 1013.3 250.0C1016.1 246.7 1012.8 245.0 1015.0 241.7C1017.2 238.4 1022.5 231.9 1026.7 230.0C1030.9 228.1 1035.6 231.4 1040.0 230.0C1044.4 228.6 1049.4 223.9 1053.3 221.7C1057.2 219.5 1058.3 220.0 1063.3 216.7C1068.3 213.4 1080.2 206.7 1083.3 201.7C1086.4 196.7 1080.0 188.9 1081.7 186.7C1083.4 184.5 1089.1 190.0 1093.3 188.3C1097.5 186.6 1100.1 180.1 1106.7 176.7C1113.3 173.3 1128.6 169.2 1133.0 167.7" fill="none" stroke="rgba(255,255,255,0.75)" stroke-width="1" stroke-linejoin="round"/>
<path d="M531.7 102.0C533.6 105.8 537.5 116.2 543.3 125.0C549.1 133.8 558.4 146.1 566.7 155.0C575.0 163.9 584.4 171.1 593.3 178.3C602.2 185.5 611.1 192.5 620.0 198.3C628.9 204.1 638.4 209.4 646.7 213.3C655.0 217.2 663.3 218.4 670.0 221.7C676.7 225.0 678.9 230.0 686.7 233.3C694.5 236.6 706.7 239.5 716.7 241.7C726.7 243.9 738.9 244.5 746.7 246.7C754.5 248.9 754.4 253.1 763.3 255.0C772.2 256.9 792.8 256.9 800.0 258.3C807.2 259.7 802.2 264.4 806.7 263.3C811.2 262.2 820.0 255.3 826.7 251.7C833.4 248.1 840.0 244.5 846.7 241.7C853.4 238.9 860.0 236.7 866.7 235.0C873.4 233.3 881.2 230.9 886.7 231.7C892.2 232.5 896.7 238.1 900.0 240.0C903.3 241.9 904.8 245.0 906.7 243.3C908.7 241.6 908.9 232.5 911.7 230.0C914.5 227.5 919.1 228.0 923.3 228.3C927.5 228.6 932.8 230.9 936.7 231.7C940.6 232.5 944.5 237.2 946.7 233.3C948.9 229.4 949.2 215.2 950.0 208.3C950.8 201.4 949.5 195.6 951.7 191.7C953.9 187.8 959.7 186.4 963.3 185.0C966.9 183.6 970.2 184.4 973.3 183.3C976.4 182.2 978.6 180.0 981.7 178.3C984.8 176.6 988.9 176.1 991.7 173.3C994.5 170.5 996.1 162.8 998.3 161.7C1000.5 160.6 1003.6 163.9 1005.0 166.7C1006.4 169.5 1006.7 174.7 1006.7 178.3C1006.7 181.9 1003.9 186.1 1005.0 188.3C1006.1 190.5 1009.1 192.8 1013.3 191.7C1017.5 190.6 1025.5 185.9 1030.0 181.7C1034.5 177.5 1036.1 170.6 1040.0 166.7C1043.9 162.8 1048.8 160.2 1053.3 158.3C1057.8 156.4 1064.2 157.2 1066.7 155.0C1069.2 152.8 1065.5 147.5 1068.3 145.0C1071.1 142.5 1078.0 142.8 1083.3 140.0C1088.6 137.2 1094.4 132.5 1100.0 128.3C1105.6 124.1 1111.2 118.9 1116.7 115.0C1122.2 111.1 1130.3 106.7 1133.0 105.0" fill="none" stroke="rgba(255,255,255,0.75)" stroke-width="1" stroke-linejoin="round"/>
<path d="M581.7 102.0C583.1 104.7 584.7 112.2 590.0 118.3C595.3 124.3 606.1 131.1 613.3 138.3C620.5 145.5 626.6 155.0 633.3 161.7C640.0 168.4 645.0 174.4 653.3 178.3C661.6 182.2 673.3 181.7 683.3 185.0C693.3 188.3 704.4 194.4 713.3 198.3C722.2 202.2 728.9 206.6 736.7 208.3C744.5 210.0 753.3 208.0 760.0 208.3C766.7 208.6 770.0 210.0 776.7 210.0C783.4 210.0 793.3 209.7 800.0 208.3C806.7 206.9 811.2 205.0 816.7 201.7C822.2 198.4 828.0 193.2 833.3 188.3C838.6 183.4 842.7 174.2 848.3 172.3C853.9 170.4 859.8 176.0 866.7 176.7C873.7 177.4 883.9 177.8 890.0 176.7C896.1 175.6 898.8 170.3 903.3 170.0C907.8 169.7 912.8 176.4 916.7 175.0C920.6 173.6 922.3 165.9 926.7 161.7C931.1 157.5 937.8 152.8 943.3 150.0C948.8 147.2 954.4 144.4 960.0 145.0C965.6 145.6 972.2 154.4 976.7 153.3C981.2 152.2 982.8 142.5 986.7 138.3C990.6 134.1 995.6 132.2 1000.0 128.3C1004.4 124.4 1009.7 119.4 1013.3 115.0C1016.9 110.6 1020.3 104.2 1021.7 102.0" fill="none" stroke="rgba(255,255,255,0.75)" stroke-width="1" stroke-linejoin="round"/>
<path d="M641.7 102.0C642.5 104.7 642.5 113.3 646.7 118.3C650.9 123.2 659.5 126.7 666.7 131.7C673.9 136.7 681.1 144.4 690.0 148.3C698.9 152.2 709.5 153.6 720.0 155.0C730.5 156.4 743.3 156.1 753.3 156.7C763.3 157.2 772.2 158.0 780.0 158.3C787.8 158.6 794.5 158.9 800.0 158.3C805.5 157.8 808.8 156.7 813.3 155.0C817.8 153.3 820.6 151.6 826.7 148.3C832.8 145.0 843.3 137.8 850.0 135.0C856.7 132.2 860.6 133.9 866.7 131.7C872.8 129.5 880.6 124.8 886.7 121.7C892.8 118.6 897.8 115.5 903.3 113.3C908.8 111.1 914.4 110.2 920.0 108.3C925.6 106.4 933.9 103.0 936.7 102.0" fill="none" stroke="rgba(255,255,255,0.75)" stroke-width="1" stroke-linejoin="round"/>
<g stroke="#a6a6a6" stroke-width="1.7" stroke-dasharray="2.5 7.32" fill="none"><line x1="86.5" y1="102" x2="86.5" y2="901" stroke-dashoffset="-4.5"/><line x1="225.4" y1="102" x2="225.4" y2="901" stroke-dashoffset="-4.5"/><line x1="364.4" y1="102" x2="364.4" y2="901" stroke-dashoffset="-4.5"/><line x1="503.3" y1="102" x2="503.3" y2="901" stroke-dashoffset="-4.5"/><line x1="642.3" y1="102" x2="642.3" y2="901" stroke-dashoffset="-4.5"/><line x1="781.2" y1="102" x2="781.2" y2="901" stroke-dashoffset="-4.5"/><line x1="920.2" y1="102" x2="920.2" y2="901" stroke-dashoffset="-4.5"/><line x1="1059.2" y1="102" x2="1059.2" y2="901" stroke-dashoffset="-4.5"/><line x1="35" y1="857.3" x2="1133" y2="857.3" stroke-dashoffset="-6.8"/><line x1="35" y1="790.7" x2="1133" y2="790.7" stroke-dashoffset="-6.8"/><line x1="35" y1="724.1" x2="1133" y2="724.1" stroke-dashoffset="-6.8"/><line x1="35" y1="657.5" x2="1133" y2="657.5" stroke-dashoffset="-6.8"/><line x1="35" y1="590.9" x2="1133" y2="590.9" stroke-dashoffset="-6.8"/><line x1="35" y1="524.3" x2="1133" y2="524.3" stroke-dashoffset="-6.8"/><line x1="35" y1="457.7" x2="1133" y2="457.7" stroke-dashoffset="-6.8"/><line x1="35" y1="391.1" x2="1133" y2="391.1" stroke-dashoffset="-6.8"/><line x1="35" y1="324.5" x2="1133" y2="324.5" stroke-dashoffset="-6.8"/><line x1="35" y1="257.9" x2="1133" y2="257.9" stroke-dashoffset="-6.8"/><line x1="35" y1="191.3" x2="1133" y2="191.3" stroke-dashoffset="-6.8"/><line x1="35" y1="124.7" x2="1133" y2="124.7" stroke-dashoffset="-6.8"/></g>
<path d="M34.7 133.3 L39.2 132.5 L40.8 135.0 L37.5 138.3 L41.7 137.0 L45.8 139.2 L50.8 140.0 L52.5 145.0 L50.0 148.3 L54.2 150.0 L59.2 150.8 L63.3 153.3 L67.5 155.3 L70.0 150.0 L74.2 147.5 L79.2 148.3 L80.8 153.7 L83.3 153.3 L85.0 148.3 L87.5 145.8 L85.0 142.5 L81.7 140.0 L87.5 140.8 L93.3 145.0 L98.3 147.5 L102.5 150.0 L105.8 154.2 L103.3 159.5 L108.3 155.8 L110.8 157.8 L113.7 151.7 L110.0 149.2 L106.7 145.8 L103.3 144.2 L99.2 141.7 L95.8 137.5 L96.7 134.2 L100.8 132.5 L104.2 130.0 L101.7 127.5 L98.3 125.0 L94.2 123.3 L92.5 120.0 L95.8 118.3 L97.5 116.7 L103.3 114.2 L110.0 112.5 L116.7 110.3 L123.3 112.0 L130.0 112.5 L130.8 102.0 M139.2 102.0 L140.0 110.0 L136.7 112.5 L132.0 112.0 M143.3 102.0 L145.0 110.0 L146.7 113.7 L150.3 115.3 L155.0 114.2 L159.2 110.0 L157.5 106.7 L158.7 102.3 M159.2 110.3 L163.3 111.7 L168.3 109.2 L169.2 105.8 L171.7 109.2 L180.0 108.3 L186.7 107.5 L191.7 108.3 L195.0 110.8 L190.3 111.7 L196.7 113.3 L203.3 116.7 L208.3 115.8 L206.7 118.7 L211.7 121.7 L213.3 125.0 L215.0 130.8 L218.3 134.2 L224.2 136.2 L230.0 133.3 M75.0 118.3 L77.5 114.2 L82.5 111.3 L87.5 113.0 L90.8 116.7 L88.3 120.8 L83.3 122.5 L78.3 122.5 L75.0 118.3 M90.8 102.0 L94.2 106.7 L95.8 111.7 L97.5 116.7 M121.7 116.7 L130.0 116.7 M132.5 116.7 L140.0 115.8 M143.3 116.7 L153.3 115.0 M119.2 123.3 L120.0 127.5 L118.3 131.7 M106.7 121.7 L109.2 119.7 M110.8 117.5 L112.5 116.3 M110.0 140.0 L113.3 138.7 M50.0 145.8 L52.5 144.2 L55.0 146.7 L53.3 149.7 L50.3 148.7 L50.0 145.8 M200.0 114.2 L204.7 116.6 L210.7 122.5 L214.2 130.8 L217.8 135.1 L223.7 136.8 L229.7 132.0 L235.6 129.7 L241.5 123.7 L249.8 121.4 L258.1 123.7 L264.1 129.7 L268.8 135.6 L271.2 140.3 L277.1 146.3 L280.7 151.0 L286.6 155.8 L290.2 162.9 L291.3 171.2 L289.7 180.7 L287.8 190.2 L285.9 196.1 L287.8 199.6 L291.3 202.0 L289.7 206.8 L292.5 211.5 L294.9 216.3 L298.5 223.4 L302.0 230.5 L304.4 236.4 L307.9 242.3 L312.7 243.5 L315.1 251.8 L317.4 260.1 L323.4 262.5 L328.1 267.3 L330.5 273.2 L334.0 279.1 L337.6 283.9 L342.3 285.5 L348.3 284.6 L354.2 280.3 L357.8 274.4 L360.9 266.1 L362.5 254.2 L363.7 242.3 L363.2 232.9 L361.3 221.0 L357.8 209.1 L354.2 199.6 L349.5 187.8 L344.7 175.9 L340.0 161.7 L335.2 147.4 L330.5 133.2 L326.9 119.0 L324.6 107.1 L323.4 102.4 M287.8 190.2 L292.5 191.3 L296.1 194.9 L297.3 199.6 L294.9 204.4 L291.3 207.9 L289.7 206.8 M291.3 193.7 L292.5 198.5 L290.2 200.8 M302.0 225.7 L307.9 225.7 L306.8 232.9 L305.6 238.8 M310.3 236.4 L315.1 234.0 M303.2 240.0 L306.8 242.3 M334.0 224.6 L338.8 219.8 L343.5 218.1 L347.1 223.4 L346.6 230.5 L342.3 234.8 L337.1 230.5 L334.0 224.6 M313.9 305.9 L319.8 303.6 L325.7 301.7 L324.6 299.3 M332.9 300.5 L340.0 298.1 M342.3 296.9 L349.5 292.2 L354.2 286.2 L358.5 277.9 M331.7 281.5 L335.2 279.1 L338.8 281.5 L336.4 286.2 L332.4 285.1 L331.7 281.5 M318.6 109.5 L317.4 119.0 L319.8 128.5 L318.6 138.0 M242.7 101.9 L302.0 104.7 L303.2 111.9 L307.9 111.9 L307.9 102.4 M341.9 166.4 L345.9 168.8 L349.5 174.7 L347.1 179.5 L343.5 174.7 L341.9 166.4 M345.9 179.5 L348.3 185.4 L351.8 194.9 L355.4 205.6 L358.5 217.4 M392.2 235.2 L396.9 237.6 L400.0 241.2 M202.4 115.4 L205.9 114.2 L208.3 117.8 L204.7 119.0 L202.4 115.4 M393.0 235.6 L398.0 239.0 L404.0 231.0 L405.0 235.0 L412.0 234.0 L422.0 233.0 L422.0 236.0 L412.0 238.0 L402.0 240.0 L398.0 241.6 L393.0 235.6 M422.0 227.0 L428.0 227.0 L433.0 229.0 L438.0 235.0 L444.0 240.0 L447.0 245.0 L445.0 250.0 L443.0 255.0 L442.0 261.0 L439.0 257.0 L441.0 251.0 L442.0 243.0 L438.0 238.0 L433.0 232.0 L428.0 229.0 L422.0 227.0 M431.2 246.8 L432.2 248.4 M423.0 265.0 L425.0 267.0 M454.0 273.0 L457.0 273.0 L460.0 277.0 L466.0 280.0 L470.0 284.0 L472.0 290.0 L471.0 296.0 L470.0 301.0 L467.0 298.0 L469.6 293.0 L469.0 288.0 L465.0 283.0 L460.0 280.0 L455.0 277.0 L454.0 273.0 M432.0 290.0 L434.4 288.6 L438.0 288.6 L439.6 290.0 L437.6 291.6 L433.6 291.6 L432.0 290.0 M414.0 285.0 L420.0 285.0 L422.0 292.0 L426.0 299.0 L428.0 306.0 L425.0 312.0 L429.0 315.0 L432.0 320.0 L432.0 328.0 L429.0 333.0 L426.0 332.0 L426.0 324.0 L422.0 318.0 L420.0 314.0 L415.0 309.0 L410.0 306.0 L409.0 302.0 L413.0 298.0 L415.0 292.0 L414.0 285.0 M410.0 302.0 L413.0 304.0 L412.0 307.0 M422.0 316.0 L427.0 318.0 L428.0 324.0 L426.0 328.0 M482.4 302.0 L485.0 302.0 L488.0 308.0 L491.0 313.0 L494.0 318.0 L492.0 319.6 L489.0 315.0 L486.0 309.0 L482.4 302.0 M516.0 320.0 L518.0 319.6 L518.6 323.0 L516.4 325.6 L515.6 322.4 L516.0 320.0 M504.4 334.4 L507.0 333.6 L509.0 335.2 L506.0 336.0 L504.4 334.4 M474.0 336.0 L477.0 336.0 L481.0 340.0 L488.0 343.0 L487.0 344.4 L481.0 342.0 L476.0 339.0 L474.0 336.0 M460.0 314.4 L461.6 316.0 M464.0 320.0 L466.0 323.6 M493.6 336.0 L496.0 338.0 L499.0 345.0 L501.0 352.0 L505.0 357.0 L507.6 360.0 L506.0 361.0 L502.0 356.0 L499.0 352.0 L498.0 347.0 L495.0 340.0 L493.6 336.0 M521.0 372.0 L523.0 368.0 L521.0 364.0 L526.0 364.0 L529.0 367.0 L524.4 368.4 M530.0 368.0 L534.0 367.0 L535.6 371.0 L533.0 376.0 L529.0 380.0 L524.0 384.0 L528.0 379.0 L531.6 374.0 L530.0 368.0 M536.0 354.0 L539.0 353.6 L539.0 355.2 L536.0 355.2 M543.0 370.0 L545.6 371.0 M554.0 377.0 L559.0 376.0 L565.6 378.0 L565.0 381.0 L558.0 380.0 L554.0 377.0 M227.0 394.0 L232.0 392.0 L239.0 389.0 L242.0 385.0 L243.0 379.0 L247.0 373.0 L252.0 368.0 L260.0 365.0 L267.0 362.0 L274.0 358.0 L282.0 357.0 L290.0 355.0 L298.0 352.0 L306.0 351.0 L314.0 351.6 L322.0 353.0 L323.0 355.0 L328.0 353.0 L331.0 351.0 L330.0 355.0 L336.0 354.4 L342.0 353.6 L348.0 354.4 L352.0 357.0 L356.0 359.0 L360.0 359.0 L366.0 361.0 L372.0 364.0 L375.0 368.0 L378.0 372.0 L382.0 376.0 L388.0 378.0 L394.0 377.0 L400.0 379.0 L406.0 381.0 L412.0 383.0 L418.0 385.0 L422.0 388.0 L428.0 392.0 L434.0 396.0 L440.0 401.0 L446.0 405.0 L452.0 410.0 L460.0 415.0 M227.0 394.0 L229.0 396.0 L236.0 394.0 L240.0 395.0 L239.0 398.0 L244.0 396.0 L249.0 393.0 L253.0 388.0 L259.0 385.0 L266.0 383.0 L272.0 381.0 L278.0 376.0 L282.0 372.0 L288.0 368.0 L296.0 367.6 L304.0 368.0 L312.0 368.0 L317.0 370.0 L318.0 374.0 L314.0 377.0 L308.0 377.0 L305.0 378.0 L308.0 381.0 L314.0 383.0 L320.0 385.0 L325.0 387.0 L329.0 389.0 L330.0 385.0 L332.0 383.0 L333.0 387.0 L338.0 389.0 L344.0 389.0 L349.0 388.0 L350.0 385.0 L352.0 386.0 L352.0 390.0 L356.0 393.0 L360.0 396.0 L364.0 399.0 L372.0 401.0 L380.0 404.0 L386.0 406.0 L392.0 405.0 L398.0 403.6 L401.0 405.0 L403.0 410.0 L405.0 416.0 L407.0 422.0 L410.0 426.0 L414.0 430.0 L418.0 433.0 L424.0 434.0 L430.0 434.0 L436.0 435.0 L441.0 437.0 L442.0 442.0 L445.0 444.0 L442.0 449.0 L438.0 452.0 L434.0 455.0 L430.0 458.0 L428.0 461.0 L431.0 463.0 L438.0 462.0 L446.0 461.0 L454.0 460.0 L460.0 459.0 M278.0 397.0 L280.0 394.0 L284.0 393.0 L289.0 395.0 L292.0 399.0 L293.0 403.0 L291.0 407.0 L286.0 409.0 L281.0 409.0 L277.0 407.0 L276.0 404.4 L279.0 405.0 L281.0 402.0 L278.0 397.0 M336.0 353.0 L340.0 351.6 M343.0 352.0 L348.0 351.4 M354.0 360.0 L360.0 358.0 M360.0 354.4 L364.0 355.2 M374.0 365.0 L382.0 369.6 M389.6 368.6 L393.0 369.0 M401.0 373.0 L406.0 375.0 L410.0 372.4 L413.0 377.0 L417.0 379.0 L420.0 383.0 L425.0 381.0 L426.0 387.0 L424.0 390.0 L429.0 393.0 L428.0 397.0 L434.0 396.0 L436.0 401.0 L441.0 402.0 L442.0 407.0 L446.0 406.0 M321.0 404.0 L326.0 401.0 M381.0 420.4 L384.0 422.0 M386.0 424.0 L389.0 427.0 M391.0 429.0 L397.0 433.0 M405.0 433.0 L407.0 434.0 M407.0 437.6 L410.0 439.4 M361.0 468.0 L365.0 467.0 M367.0 466.4 L371.0 465.6 M420.0 388.0 L426.0 392.0 L432.0 397.0 L438.0 402.0 L444.0 407.0 L450.0 412.0 L455.0 414.0 L460.0 416.0 L466.0 417.0 L472.0 420.0 L480.0 420.0 L485.0 422.0 L486.0 427.0 L483.0 430.0 L486.0 433.0 L492.0 434.0 L498.0 434.0 L504.0 435.0 L509.0 437.0 L512.0 441.0 L516.0 445.0 L522.0 447.0 L527.0 449.0 L527.6 452.0 L524.0 455.0 L518.0 456.0 L510.0 457.0 L504.0 458.0 L501.0 459.0 L500.0 456.0 L499.0 460.0 L492.0 461.0 L484.0 460.0 L476.0 459.0 L468.0 458.0 L460.0 458.4 M427.0 461.0 L430.0 457.0 L435.0 452.0 L440.0 448.0 L444.0 444.0 L445.0 440.0 L441.0 437.0 L442.0 434.0 L434.0 433.0 L426.0 433.6 L420.0 433.0 M420.0 383.0 L425.0 384.0 L424.0 389.0 L429.0 390.0 L430.0 395.0 L435.0 396.0 L436.0 401.0 L441.0 402.0 L443.0 407.0 L440.0 405.0 M450.0 412.0 L453.0 414.4 L456.0 413.6 M457.0 416.0 L460.0 417.6 L462.0 416.0 M482.0 427.6 L484.4 429.6 L487.0 432.4 L489.0 433.6 M539.6 423.0 L541.0 420.0 L545.0 418.0 L550.0 418.4 L554.4 416.0 L557.0 413.0 L558.4 415.0 L558.0 419.0 L555.0 423.0 L550.0 426.0 L544.0 427.0 L540.0 426.0 L539.6 423.0 M557.0 407.0 L559.0 405.6 L560.6 407.6 L558.6 409.6 L557.0 407.0 M585.0 393.0 L588.0 392.0 L590.0 395.0 L593.0 397.0 L596.0 397.6 L599.0 399.6 L601.6 401.0 M578.0 396.0 L580.0 398.4 L581.2 396.4 M573.6 400.8 L574.0 402.4 M610.0 407.0 L610.4 409.2 M523.0 385.0 L528.0 381.0 L530.4 380.0 M563.0 380.0 L565.0 381.6 M560.0 455.0 L563.0 454.0 L566.0 455.6 L567.0 457.6 L564.0 457.0 L560.0 455.0 M546.0 467.0 L549.0 463.0 L555.0 461.0 L562.0 460.0 L568.0 461.0 L571.0 463.0 L576.0 465.0 L582.0 466.0 L588.0 467.0 L593.0 468.0 L594.0 463.0 L599.0 461.0 L606.0 462.0 L612.0 460.0 L618.0 462.0 L624.0 465.0 L630.0 466.0 L636.0 469.0 L641.0 470.0 L645.0 473.0 L647.0 478.0 L650.0 481.0 L655.0 481.0 L660.0 480.0 L664.0 479.6 L664.4 483.0 L660.0 484.0 L653.0 484.4 L652.4 487.6 L658.0 489.0 L666.0 490.0 L672.0 491.0 L677.0 493.0 L681.0 497.0 L685.0 500.0 L688.0 504.0 L687.0 509.0 L685.0 513.0 L681.0 514.0 L680.0 517.0 L677.0 515.0 L674.0 512.0 L668.0 510.4 L662.0 509.6 L656.0 510.0 L650.0 510.0 L644.0 509.6 L641.0 512.0 L638.0 515.0 L632.0 516.0 L628.0 515.6 L627.0 511.0 L624.0 509.6 L621.0 512.0 L618.0 515.0 L614.0 515.6 L612.0 520.0 L610.0 526.0 L607.0 531.0 L604.0 535.6 L601.0 537.0 L598.0 533.0 L597.0 528.0 L594.0 524.0 L591.0 520.0 L586.0 518.0 L580.0 517.0 L574.0 517.6 L568.0 517.0 L560.0 516.4 L552.0 516.0 L544.0 515.6 L539.0 517.0 L536.0 520.0 L535.0 523.0 L532.0 521.0 L528.0 517.0 L523.0 514.0 L519.0 510.0 L518.4 505.0 L522.0 502.4 L528.0 503.6 L536.0 505.0 L544.0 507.0 L552.0 508.0 L560.0 509.0 L567.0 509.0 L574.0 507.6 L577.0 504.4 L575.0 500.0 L571.0 497.0 L568.0 493.0 L565.0 488.0 L566.0 482.0 L565.0 477.0 L561.0 473.0 L556.0 471.0 L550.0 470.0 L546.0 467.0 M551.0 493.0 L554.0 491.6 L559.0 494.0 L563.6 497.0 L564.0 499.6 L560.0 500.0 L555.0 498.0 L551.0 495.0 L551.0 493.0 M560.0 455.0 L563.0 454.0 L566.0 455.6 L567.0 457.6 L564.0 457.0 L560.0 455.0 M593.0 468.0 L594.0 474.0 L593.0 480.0 L595.0 485.0 L593.0 490.0 L591.0 494.0 L594.0 498.0 L591.0 502.0 L588.0 505.0 L590.0 509.0 L593.0 513.0 L594.0 517.0 L593.6 520.0 L594.0 524.0 M592.0 507.0 L595.0 505.6 L599.0 507.6 L600.0 510.0 L597.0 510.4 L593.0 509.0 L592.0 507.0 M585.0 503.0 L587.0 502.4 L588.4 506.0 L587.6 509.0 L586.0 508.0 L585.0 503.0 M599.2 537.6 L600.2 538.6 M676.0 517.0 L679.0 516.0 L681.0 519.0 L679.0 520.4 L676.0 517.0 M699.0 521.0 L700.0 520.0 L701.2 521.0 L700.0 522.2 L699.0 521.0 M538.0 504.0 L541.0 504.4 M539.0 521.4 L542.0 521.6 M720.0 510.0 L721.0 507.6 L728.0 507.0 L736.0 507.6 L744.0 508.4 L752.0 509.0 L758.0 509.6 L763.0 511.0 L764.0 515.0 L762.0 519.0 L758.0 521.0 L754.0 524.4 L748.0 526.0 L740.0 525.6 L732.0 525.0 L726.0 526.0 L720.0 525.6 L719.6 521.0 L720.4 516.0 L718.4 513.0 L720.0 510.0 M765.0 520.0 L768.0 518.6 L772.0 518.4 L771.0 520.4 L767.0 521.6 L765.0 520.0 M771.0 513.0 L773.4 514.2 M780.0 511.6 L783.0 512.4 L785.6 513.2 M788.0 512.0 L789.6 510.0 L792.0 509.6 L790.4 512.0 L789.0 513.6 L788.0 512.0 M797.0 499.6 L801.0 500.2 M796.8 508.2 L799.2 507.2 M783.6 532.4 L787.0 531.6 L793.0 532.0 L791.0 534.0 L786.0 534.8 L783.6 532.4 M832.0 517.0 L836.0 515.6 M833.0 521.0 L835.0 520.0 L836.4 522.0 L834.4 523.6 L833.0 521.0 M838.4 525.2 L841.0 527.0 M836.4 540.6 L837.0 541.4 M841.0 544.4 L843.0 544.0 L845.0 547.0 L847.0 550.0 L845.6 550.4 L843.0 547.6 L841.0 544.4 M847.0 551.0 L849.0 550.4 L849.6 553.0 L847.6 554.4 L846.4 552.4 L847.0 551.0 M867.6 535.0 L869.6 534.0 L871.6 536.0 L871.0 539.0 L868.6 539.0 L867.6 535.0 M867.6 553.6 L870.0 552.0 L873.0 553.6 L873.0 557.0 L870.0 558.4 L867.6 556.4 L867.6 553.6 M858.0 564.0 L859.6 563.0 L860.6 566.0 L859.2 568.4 L857.6 566.4 L858.0 564.0 M870.0 580.0 L873.0 579.0 L875.6 582.0 L876.0 588.0 L874.0 592.0 L871.6 590.0 L870.0 585.0 L870.0 580.0 M877.0 575.6 L879.6 574.0 L881.0 577.0 L883.0 580.0 L887.0 582.0 L882.0 583.6 L878.0 584.0 L876.0 582.0 L877.6 579.0 L877.0 575.6 M889.0 580.0 L892.0 579.0 M883.0 592.0 L885.0 591.0 L886.6 593.0 L885.0 595.4 L883.0 594.0 L883.0 592.0 M878.3 603.7 L881.4 602.8 L884.1 606.5 L885.1 612.0 L883.8 617.1 L882.0 617.5 L879.6 612.0 L878.3 607.4 L878.3 603.7 M885.1 629.4 L887.8 628.1 L891.5 630.0 L894.2 634.0 L896.1 638.6 L897.0 643.2 L895.1 644.1 L893.3 641.3 L890.6 641.7 L889.3 639.1 L890.6 636.7 L887.8 634.9 L886.0 632.2 L885.1 629.4 M892.4 654.5 L894.2 654.1 L895.1 658.7 L894.8 664.2 L892.9 667.0 L890.6 665.1 L889.6 661.5 L890.6 657.8 L892.4 654.5 M885.1 678.9 L887.4 678.0 L888.7 680.7 L887.8 684.4 L885.6 686.2 L884.1 683.5 L885.1 678.9 M884.9 689.7 L886.0 691.0 M882.9 699.6 L883.6 700.5 M878.3 707.3 L879.8 708.8 L878.7 709.1 L878.3 707.3 M872.2 716.5 L874.6 716.1 L875.4 719.2 L874.1 722.9 L871.7 723.8 L870.8 721.0 L872.2 716.5 M929.1 679.4 L930.9 679.8 L932.7 682.6 L935.5 685.3 L934.6 688.1 L931.8 689.0 L929.6 686.2 L929.1 682.6 L929.1 679.4 M896.6 751.3 L900.6 747.6 L904.7 745.8 L905.2 747.6 L901.6 750.4 L897.9 752.8 L896.6 751.3 M409.6 514.4 L412.0 510.0 L418.0 509.0 L423.0 506.6 L430.0 507.6 L438.0 509.0 L446.0 510.4 L452.0 512.4 L458.0 515.6 L463.0 518.0 L467.0 521.0 L469.6 526.4 L467.0 528.4 L462.0 528.0 L457.0 526.4 L453.0 525.6 L451.0 528.0 L448.0 527.6 L445.0 530.0 L443.0 534.0 L441.0 532.0 L438.0 529.0 L433.0 528.0 L428.0 528.4 L425.0 526.0 L422.0 522.0 L419.0 518.4 L414.0 517.6 L410.0 517.0 L409.6 514.4 M325.0 478.0 L326.0 481.4 L329.0 481.8 L333.0 481.2 L333.6 479.6 L330.0 480.0 L327.0 479.2 L325.0 478.0 M361.0 469.0 L364.4 467.6 M367.0 467.0 L370.6 465.6 M35.0 502.0 L40.0 499.5 L46.7 495.3 L51.7 492.0 L58.4 486.1 L65.1 480.3 L66.8 473.6 L67.6 466.9 L70.1 461.9 L73.8 457.7 L73.1 448.5 L73.5 440.2 L74.8 431.8 L76.8 425.1 L81.8 420.1 L88.5 415.9 L96.9 413.7 L105.3 412.6 L113.6 410.9 L120.3 408.7 L126.2 406.4 L133.7 405.0 L140.4 404.2 L147.1 405.4 L153.7 407.0 L159.6 406.7 L163.8 408.0 L165.5 405.0 L168.0 403.4 L172.1 406.7 L174.6 411.7 L177.2 419.2 L175.5 425.1 L173.8 430.1 L170.5 435.1 L166.3 440.2 L162.1 445.2 L158.8 451.0 L157.1 456.9 L157.9 461.9 L154.6 465.2 L151.2 467.7 L150.1 471.1 L152.9 473.6 L157.1 471.6 L157.9 474.4 L154.6 477.8 L152.1 480.3 L151.7 483.6 L154.6 480.6 L157.1 480.6 L155.4 486.1 L153.7 493.7 L151.2 502.0 L149.1 510.4 L147.1 518.7 L145.1 526.3 M159.6 406.7 L162.1 405.0 L165.1 405.4 M169.6 445.2 L171.3 441.0 L174.6 438.8 L176.8 439.3 L175.5 442.7 L173.0 446.8 L170.5 448.5 L169.6 445.2 M35.0 503.7 L38.4 501.2 L43.4 499.5 L48.4 498.3 L51.7 499.5 L50.9 503.7 L46.7 507.0 L45.9 509.5 L40.0 508.7 L35.9 510.4 L35.0 507.0 M45.9 495.3 L50.9 492.8 M141.2 495.3 L138.7 500.4 L135.7 506.2 L133.7 510.4 M141.2 496.2 L143.7 502.0 L145.4 508.7 L147.1 514.6 M111.1 524.6 L117.0 527.9 L121.1 522.1 L125.3 514.6 L128.7 508.7 L133.7 508.7 L132.3 511.2 L140.4 510.7 L140.7 518.4 L149.1 518.4 M111.1 524.6 L110.6 530.1 M111.1 525.0 L117.0 528.0 L120.3 523.3 L122.8 520.0 M110.8 525.0 L110.3 530.4 L108.6 594.4 M110.3 530.4 L60.1 530.4 L59.8 549.3 L46.7 549.3 L50.1 552.6 L56.8 558.5 L63.4 564.3 L67.6 570.2 L70.1 574.3 L75.2 577.7 L74.3 583.5 L74.8 588.2 L40.0 588.2 L37.5 590.2 L35.0 596.1 M139.5 520.0 L137.9 526.7 L135.4 535.1 L134.5 540.1 L135.7 546.8 L135.0 553.4 L136.2 558.5 L133.7 566.8 L130.3 575.2 L126.2 581.9 L122.0 583.5 L118.6 587.7 L116.6 591.9 L117.0 594.4 M108.6 594.4 L117.0 594.4 L121.1 597.8 L126.2 600.3 L127.0 596.1 L125.7 592.7 L127.8 594.4 L131.2 596.9 L137.0 601.1 L140.4 597.8 L145.4 594.4 L150.4 593.6 L154.6 596.1 L158.8 597.8 L163.8 596.9 L168.8 598.3 L175.5 598.6 L182.2 597.8 L188.9 596.9 L193.9 594.4 L198.9 591.1 L203.9 591.9 L210.6 593.6 L217.3 593.6 L224.0 591.9 L230.0 592.2 M104.4 607.0 L108.6 605.3 L113.6 603.6 L115.3 607.0 L112.8 610.3 L107.8 611.1 L105.3 612.0 L104.4 607.0 M113.6 602.8 L117.0 599.4 L120.3 597.8 M137.0 601.1 L130.3 607.0 L123.6 612.8 L117.0 617.8 L110.3 622.0 L108.6 627.0 L108.6 631.2 L110.6 634.5 L109.4 638.7 L105.3 642.9 M105.3 642.9 L98.6 644.6 L96.9 649.6 L92.7 653.8 L87.7 658.8 L83.5 663.8 M35.0 648.8 L40.0 652.9 L46.7 657.1 L55.1 659.6 L63.4 660.5 L71.8 662.1 L80.2 664.6 M179.7 580.5 L183.8 578.0 L191.4 576.2 L187.2 578.5 L180.5 581.5 L179.7 580.5 M198.9 577.2 L201.4 574.3 L201.9 575.5 L199.7 577.7 L198.9 577.2 M170.1 587.9 L172.5 586.6 L172.1 588.2 L170.1 587.9 M142.9 526.7 L145.4 520.8 M137.9 534.2 L140.0 536.7 M144.5 546.8 L146.2 540.9 L148.4 540.1 L147.1 547.6 M200.0 590.1 L206.7 593.4 L213.4 594.3 L220.1 593.4 L225.1 590.9 L230.1 592.6 L236.0 596.0 L240.1 596.0 L245.2 596.0 L250.2 601.0 L255.2 606.0 L260.2 609.3 L266.1 613.5 L270.2 616.9 L273.6 621.0 L277.3 623.9 L273.6 626.9 L274.4 633.6 L276.1 640.3 L276.1 645.3 L274.4 650.3 L271.1 655.3 L268.6 660.3 L267.7 667.0 L266.1 673.7 L265.6 682.1 L266.1 690.4 L266.9 698.8 L266.6 705.5 L265.2 710.5 L263.5 715.0 M247.7 606.8 L250.2 605.5 L255.2 609.3 L259.4 612.7 L264.4 615.2 L266.9 616.0 L266.1 618.5 L262.7 617.7 L258.5 616.0 L253.5 614.3 L250.2 610.2 L247.7 606.8 M277.3 623.9 L271.9 624.4 L266.9 623.5 L263.5 626.1 L258.5 628.6 L253.5 631.1 L250.2 631.9 L246.8 633.6 L243.5 634.4 L240.1 636.9 L236.0 636.1 L231.8 632.7 L229.3 629.9 L225.9 631.9 L223.4 636.9 L221.7 641.9 L219.2 647.0 L215.1 648.6 L211.7 652.8 L208.4 657.0 L205.0 660.3 L205.9 662.8 M270.2 628.6 L272.7 627.7 L273.6 630.2 L271.6 631.9 L270.2 628.6 M271.9 646.1 L273.6 645.3 L274.4 647.8 L272.7 649.5 L271.9 646.1 M264.4 668.7 L266.1 667.9 L266.6 670.4 L265.2 672.0 L264.4 668.7 M262.7 698.8 L265.2 697.1 L266.1 700.5 L263.5 700.8 L262.7 698.8 M260.2 706.3 L262.7 704.6 L264.4 707.2 L266.9 707.2 L267.7 710.5 L265.2 712.2 L262.7 713.8 L261.0 710.5 L260.2 706.3 M286.1 643.6 L288.6 645.6 L287.0 646.0 L286.1 643.6 M326.3 677.9 L326.8 680.4 M316.7 704.1 L317.6 708.0 M200.0 575.9 L202.0 574.2 M236.0 596.0 L237.6 597.6 L240.1 596.5 M80.0 664.2 L86.7 668.4 L93.4 672.6 L101.7 675.1 L110.1 677.6 L116.8 681.0 L123.5 683.5 L131.8 684.8 L138.5 685.5 L144.4 684.8 L148.6 680.1 L146.9 677.6 L150.2 675.1 L152.7 677.6 L151.9 681.8 L155.3 679.3 L158.6 677.6 L157.8 681.8 L156.1 685.2 L158.6 687.7 L161.1 690.2 L160.3 693.5 L156.1 691.0 L153.6 689.3 L151.1 692.7 L153.6 696.0 L158.6 700.2 L163.6 705.2 L167.0 709.4 L172.0 713.6 L177.0 718.6 L178.7 723.6 L183.7 728.6 L188.7 734.5 L193.7 740.3 L198.7 746.2 L203.7 752.0 L206.3 755.4 L205.4 758.7 L200.4 760.4 L203.7 762.9 L207.1 764.6 L207.4 770.4 L204.6 775.5 L202.9 780.5 L203.7 786.3 L206.3 791.3 L209.6 795.0 M105.1 640.0 L105.9 643.3 L111.8 647.5 L118.5 652.5 L123.5 655.9 L127.7 657.6 L128.5 660.9 L133.5 660.9 L138.5 658.4 L143.5 660.9 L148.6 661.7 L150.2 666.8 L148.6 672.6 L146.9 677.6 M119.3 655.9 L121.0 658.4 M121.8 683.1 L126.8 682.1 L131.8 683.8 M161.1 690.2 L167.0 691.0 L171.1 688.5 L172.8 682.6 L176.2 681.0 L177.8 676.0 L177.0 669.3 L176.2 665.1 L182.0 665.1 L187.0 663.4 L192.0 658.4 L196.2 655.9 L199.6 659.2 L204.6 662.6 M181.2 711.9 L184.5 709.4 L189.5 707.7 L191.2 711.1 L194.5 712.7 L195.4 716.1 L192.9 718.6 L189.5 717.8 L188.7 714.4 L184.5 714.4 L181.2 711.9 M199.6 723.6 L202.1 721.1 L207.1 720.3 L212.1 723.6 L215.5 727.8 L220.5 732.8 L224.6 737.8 L228.0 742.8 L231.3 748.7 L231.8 753.7 L228.8 758.7 L223.8 757.1 L217.1 753.7 L212.1 751.2 L208.8 748.7 L205.4 743.7 L202.9 738.7 L201.2 732.8 L199.6 723.6 M206.3 739.5 L208.8 737.8 L211.3 740.3 L209.6 742.3 L206.3 739.5 M224.3 750.9 L225.2 751.7 M198.6 719.9 L199.1 720.8 M207.1 750.4 L213.8 752.4 L222.1 755.4 L228.8 759.1 L233.8 755.4 L238.9 757.1 L243.0 758.7 L247.2 762.9 L250.6 764.6 L254.7 766.3 L260.6 764.6 L263.9 762.9 M274.8 640.0 L275.7 645.0 L274.0 650.0 L270.6 656.7 L268.1 663.4 L266.5 670.1 L265.6 678.5 L266.0 686.8 L267.0 695.2 L265.6 700.2 L263.9 706.9 L261.4 713.6 L260.6 720.3 L259.8 727.0 L261.4 733.6 L258.9 740.3 L256.4 747.0 L257.3 753.7 L260.6 758.7 L263.9 762.9 L267.0 768.8 M259.8 706.1 L263.1 704.4 L264.8 697.7 L266.5 701.0 L267.3 708.6 L263.9 711.9 L260.6 710.2 L259.8 706.1 M264.8 667.6 L266.5 670.9 M272.0 646.7 L273.6 648.4 M266.0 770.0 L270.0 778.0 L276.0 787.0 L282.0 795.0 L289.0 803.0 L292.4 806.0 L298.0 811.0 L304.0 813.0 L300.0 816.0 L302.0 820.0 L307.0 822.4 L306.0 826.0 L311.0 825.0 L315.0 821.0 L312.0 819.0 L316.0 824.0 L320.0 828.0 L326.0 830.4 L334.0 830.0 L342.0 827.0 L349.0 823.0 L356.0 819.0 L362.0 817.0 L366.0 813.0 L370.0 810.0 L374.0 806.0 L378.0 804.4 L384.0 806.0 L391.0 806.0 L392.0 808.0 L398.0 809.0 L404.0 810.0 L410.0 813.0 L416.0 816.0 L422.0 820.0 L426.0 825.0 L430.0 830.0 L434.0 836.0 L437.0 835.0 L438.0 840.0 L440.0 846.0 L442.0 852.0 L442.0 858.0 L439.0 864.0 L435.0 869.0 L431.0 872.0 L429.0 868.0 L427.0 870.0 L427.0 874.0 L424.0 879.0 L423.0 884.0 M480.0 810.0 L474.0 813.0 L470.0 819.0 L468.0 825.0 L462.0 830.0 L456.0 834.0 L450.0 838.0 L452.0 843.0 L455.0 848.0 L455.0 855.0 L452.4 859.6 L450.0 858.0 L450.0 853.0 L447.0 849.0 M240.0 806.0 L246.0 809.0 L252.0 813.0 L258.0 818.0 L263.0 823.0 L264.0 830.0 L261.0 835.0 L262.0 839.0 L266.0 842.0 L271.0 843.0 L273.0 839.0 L270.0 834.0 L274.0 836.0 L277.0 840.0 L279.0 845.0 L282.0 849.0 L284.0 856.0 L285.0 850.0 L283.0 845.0 L285.0 847.0 L289.0 847.0 L294.0 847.0 L299.0 846.0 L300.0 850.0 L304.0 849.0 L309.0 850.0 L316.0 852.0 L317.0 856.0 L320.0 860.0 L322.0 865.0 L325.0 868.0 L330.0 869.0 L331.0 864.0 L333.0 860.0 L336.0 862.0 L335.6 868.0 L337.0 874.0 L339.0 880.0 L342.0 883.0 L348.0 883.0 L354.0 881.0 L360.0 877.0 L364.0 875.0 L363.0 871.0 L360.0 866.0 L356.0 861.0 L352.0 856.0 L351.0 851.0 L354.0 848.0 L360.0 846.0 L365.0 843.0 L370.0 838.0 L373.0 834.0 L372.0 830.0 L376.0 827.0 L380.0 824.0 L386.0 823.0 L390.0 823.0 L394.0 826.0 L398.0 829.0 L402.0 834.0 L406.0 839.0 L410.0 842.0 L414.0 840.0 L417.0 842.0 L414.0 847.0 L412.0 851.0 L408.0 855.0 L408.0 858.0 L410.0 863.0 L413.0 869.0 L416.0 874.0 L419.0 879.0 L423.0 884.0 L426.0 889.0 L429.0 894.0 L433.0 899.0 L436.0 901.0 M414.0 840.0 L416.0 845.0 L420.0 848.0 L424.0 851.0 L427.0 853.0 M292.4 806.0 L288.0 804.0 L284.0 806.0 L282.4 812.0 L283.0 820.0 L284.0 828.0 L285.0 834.0 L286.0 840.0 L284.4 846.0 L284.0 856.0 M364.0 813.0 L368.0 818.0 L365.0 823.0 L372.0 821.0 L376.0 817.0 L377.0 824.0 L373.0 827.0 L370.0 820.0 L366.0 815.0 L364.0 813.0 M368.0 812.0 L372.0 817.0 L375.0 813.0 M313.0 873.0 L315.0 869.6 L317.6 871.0 L317.0 875.0 L320.0 878.0 L318.0 879.6 L314.0 878.0 L313.0 873.0 M393.0 843.0 L395.6 842.4 L396.4 847.0 L394.0 848.4 L393.0 843.0 M388.8 844.0 L389.2 844.8 M388.8 847.6 L389.2 848.4 M331.0 874.0 L335.0 872.0 M297.0 846.0 L300.0 847.0 L302.0 845.0 M440.0 840.7 L444.6 844.2 L449.3 850.0 L450.4 857.0 L452.8 859.3 L454.4 855.8 L453.9 847.7 L451.6 840.7 L449.3 837.2 L456.2 833.8 L462.0 829.1 L467.8 822.2 L472.5 815.2 L478.3 810.6 L484.1 809.4 L486.4 803.6 L485.2 795.5 L486.4 787.4 L487.5 780.4 L489.2 773.5 L492.2 768.8 L496.8 764.2 L502.6 759.6 L507.2 753.8 L514.2 757.2 L521.2 758.4 L520.0 765.4 L515.4 764.7 L514.7 761.9 L517.7 760.7 L521.2 758.4 L523.5 751.4 L525.8 746.8 L532.8 746.8 L539.7 748.0 L546.7 748.0 L553.6 744.5 L560.6 738.7 L567.5 734.1 L574.5 730.6 L580.3 727.1 L582.6 721.3 L583.8 715.5 L588.4 713.2 L591.9 710.9 L595.4 708.6 L602.3 709.7 L607.0 713.2 L610.4 719.0 L611.1 723.6 L608.1 727.1 L604.6 730.6 L597.7 732.9 L590.7 735.2 L587.2 737.5 L587.2 743.3 L589.6 749.1 L593.0 754.9 L595.8 757.2 L597.7 764.2 L598.8 770.0 L602.3 777.0 L607.0 785.1 L610.4 792.0 L612.8 799.0 L612.8 808.3 L610.4 815.2 L605.8 819.9 L600.0 822.2 L594.2 819.9 L591.9 814.1 L588.4 810.6 L584.9 803.6 L583.8 797.8 L587.2 789.7 L591.9 781.6 L595.4 774.6 L598.1 770.0 M586.1 714.3 L588.4 716.7 L586.6 718.3 L585.2 716.0 L586.1 714.3 M600.0 759.6 L607.0 757.2 L613.9 753.8 L623.2 749.1 L632.5 745.7 L639.4 743.3 L641.7 741.5 L638.3 739.9 L635.9 735.2 L634.3 728.3 L635.9 721.3 L640.6 717.8 L645.2 719.0 L647.5 724.8 L648.7 731.7 L648.7 737.5 L646.4 742.2 L649.9 739.9 L655.7 741.0 L661.4 739.6 M595.8 757.2 L600.0 759.6 L599.5 764.2 M640.6 703.9 L642.9 705.1 L645.2 709.7 L643.6 709.7 L640.6 703.9 M664.9 712.0 L668.4 713.2 L671.9 717.8 L675.4 721.3 L673.0 722.0 L669.6 719.0 L666.1 715.5 L664.9 712.0 M587.2 737.5 L582.6 743.3 L579.1 751.4 L573.3 753.8 L567.5 761.9 L562.9 768.8 L560.6 778.1 L558.3 787.4 L555.9 796.7 L552.5 805.9 L549.0 812.9 L547.8 817.5 L553.6 817.5 L559.4 815.2 L560.6 821.0 L565.2 821.0 L567.5 829.1 L568.7 836.1 L572.2 840.7 L574.5 847.7 L575.7 854.6 L573.3 861.6 L573.3 868.6 L574.5 875.5 L579.1 876.7 L581.9 882.5 L584.9 888.3 L590.7 890.6 L597.7 889.4 L604.6 890.6 L611.6 891.7 L618.6 888.3 L625.5 887.1 L632.5 891.7 L639.4 891.7 L642.9 897.5 L645.2 901.0 M590.7 735.2 L600.0 731.7 L605.8 729.4 M660.0 739.6 L666.0 741.0 L672.0 743.0 L677.0 746.0 L682.0 750.0 L686.0 755.0 L689.0 760.0 L688.0 762.0 L689.0 767.0 L692.0 772.0 L697.0 774.4 L704.0 774.0 L712.0 773.0 L720.0 771.6 L728.0 770.4 L736.0 770.0 L744.0 769.6 L749.0 771.0 L750.0 775.0 L754.0 779.0 L760.0 783.0 L766.0 785.0 L772.0 787.0 L778.0 789.0 L784.0 788.0 L788.0 787.0 L790.0 783.0 L796.0 781.0 L800.0 777.0 L804.0 774.0 L801.0 772.0 L802.0 769.0 L808.0 770.0 L814.0 769.0 L820.0 768.0 L828.0 767.0 L836.0 766.4 L844.0 765.6 L852.0 766.4 L860.0 767.0 L867.0 766.0 L866.0 768.0 L860.0 769.6 L855.0 770.4 L854.0 772.4 L848.0 772.0 L842.0 772.4 L838.0 774.0 L837.0 776.0 L841.0 777.6 L844.0 780.0 L845.0 784.0 L843.0 788.0 L839.0 789.0 L837.0 788.0 L840.0 787.0 L843.0 785.0 L842.0 781.0 L839.0 779.0 L837.0 780.0 L837.0 777.0 M845.0 783.0 L847.0 784.0 M804.0 774.0 L810.0 773.0 L818.0 773.6 L814.0 775.6 L808.0 776.0 L803.0 775.0 M797.6 757.0 L800.0 755.0 L805.0 756.0 L809.0 754.0 L812.0 751.6 L813.6 755.0 L812.0 759.0 L809.0 761.0 L807.0 760.0 L806.0 758.0 L802.0 759.6 L799.0 759.0 L797.6 757.0 M809.0 765.0 L810.0 764.2 L811.0 765.2 L810.0 766.2 L809.0 765.0 M875.0 767.0 L882.0 765.0 L890.0 763.0 L894.0 762.4 L893.0 768.0 L892.0 774.0 L892.4 780.0 L890.0 785.0 L884.0 787.0 L876.0 788.0 L868.0 789.0 L872.0 786.0 L877.0 783.0 L879.0 778.0 L879.0 772.0 L875.0 767.0 M897.0 751.0 L900.0 749.0 M686.0 714.4 L689.0 714.0 L691.0 717.0 L691.6 722.0 L690.0 723.0 L689.0 719.0 L686.0 714.4 M665.0 712.0 L667.6 711.6 L670.0 716.0 L674.0 719.0 L676.4 721.6 L674.4 722.4 L671.0 720.0 L667.6 717.0 L665.0 712.0 M734.0 731.2 L736.4 732.0 L734.8 732.4 L734.0 731.2 M747.6 730.2 L750.0 731.0 L748.4 731.6 L747.6 730.2 M791.0 728.4 L792.0 727.4 L793.2 728.6 L792.0 730.0 L791.0 728.4 M769.6 759.0 L773.0 758.0 L775.6 760.0 L773.0 761.6 L769.6 759.0 M885.0 680.0 L888.0 681.0 L887.6 685.0 L885.0 685.6 M885.6 689.6 L886.6 690.6 M883.4 699.6 L884.0 700.6 M878.4 707.4 L879.8 708.6 L878.6 709.0 L878.4 707.4 M872.0 717.0 L874.4 716.0 L875.6 719.0 L874.0 723.0 L871.6 723.6 L871.0 720.0 L872.0 717.0 M845.8 783.3 L848.3 785.0 L850.8 790.0 L853.3 795.0 L856.7 799.2 L859.2 801.7 L858.3 795.8 L857.5 791.7 L860.8 793.3 L863.3 795.8 L866.7 798.3 L870.0 802.5 L870.8 799.2 L870.0 796.7 L873.3 795.0 L877.5 795.8 L880.0 800.0 L884.2 802.5 L888.3 804.2 L892.5 805.8 L895.8 809.2 L897.5 813.3 L895.0 816.7 L891.7 819.2 L889.2 823.3 L888.3 828.3 L886.7 834.2 L885.8 837.5 L881.7 838.3 L876.7 837.5 L873.3 837.0 L875.8 839.2 L880.0 840.0 L883.3 842.5 L886.7 841.7 L890.0 840.0 L895.0 838.3 L900.0 837.5 L905.0 838.3 L908.3 836.7 L912.5 835.8 L916.7 838.3 L920.0 841.7 L925.0 845.0 L930.0 847.5 L935.0 850.8 L940.0 855.0 L945.0 860.0 L950.0 865.0 L954.2 870.0 L957.5 875.0 L960.0 877.5 M926.7 845.0 L930.8 846.7 L935.0 850.0 L933.3 851.7 L929.2 848.7 M912.5 835.8 L916.7 840.0 L921.7 845.0 L925.0 848.3 L920.8 851.7 L917.5 855.8 L912.5 858.3 L908.3 861.7 L905.0 864.2 L902.5 869.2 L899.7 873.3 L902.5 876.7 L903.3 881.7 L905.8 884.2 L910.0 885.8 L911.7 889.2 L908.3 893.3 L903.3 895.8 L898.3 896.7 L893.3 898.3 L887.5 900.8 M836.7 866.7 L844.2 865.8 L843.3 870.0 L840.8 871.7 L843.3 875.0 L841.7 878.3 L842.5 883.3 L840.0 886.7 L837.5 889.2 L836.7 892.5 L839.2 895.8 L840.8 894.2 L839.7 891.7 L840.8 887.5 L842.5 884.2 M891.7 819.2 L890.0 820.8 L892.0 822.0 M209.8 794.3 L214.3 795.6 L217.5 797.6 L220.1 801.4 L222.7 804.0 L224.0 800.8 L225.9 798.9 L227.9 796.9 L227.2 793.0 L224.6 791.7 L221.4 789.8 L219.5 785.3 L217.5 781.4 L220.1 784.0 L224.0 786.6 L228.5 789.8 L231.7 791.7 L234.3 794.3 L235.6 798.2 L235.0 800.8 L238.2 804.7 L242.1 807.3 M219.5 784.6 L221.1 787.6 L222.7 788.1 M140.5 518.0 L139.5 520.0" fill="none" stroke="#000" stroke-width="1.1" stroke-linejoin="round" stroke-linecap="round"/>
</g>
<!-- label box -->
<rect x="916" y="877.5" width="208" height="20.5" fill="#fff" stroke="#9a9a9a" stroke-width="1"/>
<text x="931" y="893" font-size="14.6" fill="#1496ff">Sis</text>
<text x="953" y="893" font-size="18" fill="#2b35f5" textLength="17" lengthAdjust="spacingAndGlyphs">&#960;</text>
<rect x="974.5" y="888.4" width="8" height="1.2" fill="#4a4a4a"/>
<text x="993" y="893" font-size="14.4" fill="#4a4a4a" textLength="125.5" lengthAdjust="spacingAndGlyphs">ONAMET/REP.DOM.</text>
<g font-size="12.4" fill="#a0a0a0" stroke="#a0a0a0" stroke-width="0.35"><line x1="86.5" y1="904" x2="86.5" y2="906.5" stroke="#a8a8a8" stroke-width="1"/><text x="75.6" y="918.3" textLength="21.8" lengthAdjust="spacingAndGlyphs">90W</text><line x1="225.4" y1="904" x2="225.4" y2="906.5" stroke="#a8a8a8" stroke-width="1"/><text x="214.5" y="918.3" textLength="21.8" lengthAdjust="spacingAndGlyphs">85W</text><line x1="364.4" y1="904" x2="364.4" y2="906.5" stroke="#a8a8a8" stroke-width="1"/><text x="353.5" y="918.3" textLength="21.8" lengthAdjust="spacingAndGlyphs">80W</text><line x1="503.3" y1="904" x2="503.3" y2="906.5" stroke="#a8a8a8" stroke-width="1"/><text x="492.4" y="918.3" textLength="21.8" lengthAdjust="spacingAndGlyphs">75W</text><line x1="642.3" y1="904" x2="642.3" y2="906.5" stroke="#a8a8a8" stroke-width="1"/><text x="631.4" y="918.3" textLength="21.8" lengthAdjust="spacingAndGlyphs">70W</text><line x1="781.2" y1="904" x2="781.2" y2="906.5" stroke="#a8a8a8" stroke-width="1"/><text x="770.4" y="918.3" textLength="21.8" lengthAdjust="spacingAndGlyphs">65W</text><line x1="920.2" y1="904" x2="920.2" y2="906.5" stroke="#a8a8a8" stroke-width="1"/><text x="909.3" y="918.3" textLength="21.8" lengthAdjust="spacingAndGlyphs">60W</text><line x1="1059.2" y1="904" x2="1059.2" y2="906.5" stroke="#a8a8a8" stroke-width="1"/><text x="1048.2" y="918.3" textLength="21.8" lengthAdjust="spacingAndGlyphs">55W</text><line x1="28.5" y1="857.3" x2="31" y2="857.3" stroke="#a8a8a8" stroke-width="1"/><text x="11.2" y="862.0" textLength="13.6" lengthAdjust="spacingAndGlyphs">8N</text><line x1="28.5" y1="790.7" x2="31" y2="790.7" stroke="#a8a8a8" stroke-width="1"/><text x="4.6" y="795.4" textLength="20.2" lengthAdjust="spacingAndGlyphs">10N</text><line x1="28.5" y1="724.1" x2="31" y2="724.1" stroke="#a8a8a8" stroke-width="1"/><text x="4.6" y="728.8" textLength="20.2" lengthAdjust="spacingAndGlyphs">12N</text><line x1="28.5" y1="657.5" x2="31" y2="657.5" stroke="#a8a8a8" stroke-width="1"/><text x="4.6" y="662.2" textLength="20.2" lengthAdjust="spacingAndGlyphs">14N</text><line x1="28.5" y1="590.9" x2="31" y2="590.9" stroke="#a8a8a8" stroke-width="1"/><text x="4.6" y="595.6" textLength="20.2" lengthAdjust="spacingAndGlyphs">16N</text><line x1="28.5" y1="524.3" x2="31" y2="524.3" stroke="#a8a8a8" stroke-width="1"/><text x="4.6" y="529.0" textLength="20.2" lengthAdjust="spacingAndGlyphs">18N</text><line x1="28.5" y1="457.7" x2="31" y2="457.7" stroke="#a8a8a8" stroke-width="1"/><text x="4.6" y="462.4" textLength="20.2" lengthAdjust="spacingAndGlyphs">20N</text><line x1="28.5" y1="391.1" x2="31" y2="391.1" stroke="#a8a8a8" stroke-width="1"/><text x="4.6" y="395.8" textLength="20.2" lengthAdjust="spacingAndGlyphs">22N</text><line x1="28.5" y1="324.5" x2="31" y2="324.5" stroke="#a8a8a8" stroke-width="1"/><text x="4.6" y="329.2" textLength="20.2" lengthAdjust="spacingAndGlyphs">24N</text><line x1="28.5" y1="257.9" x2="31" y2="257.9" stroke="#a8a8a8" stroke-width="1"/><text x="4.6" y="262.6" textLength="20.2" lengthAdjust="spacingAndGlyphs">26N</text><line x1="28.5" y1="191.3" x2="31" y2="191.3" stroke="#a8a8a8" stroke-width="1"/><text x="4.6" y="196.0" textLength="20.2" lengthAdjust="spacingAndGlyphs">28N</text><line x1="28.5" y1="124.7" x2="31" y2="124.7" stroke="#a8a8a8" stroke-width="1"/><text x="4.6" y="129.4" textLength="20.2" lengthAdjust="spacingAndGlyphs">30N</text></g>
<rect x="1144" y="98.5" width="19" height="806.0" fill="#d6d6d6"/><rect x="1145.5" y="100.0" width="16" height="3" fill="#ffffff"/><rect x="1145.5" y="102.50" width="16" height="41.22" fill="#ebebeb"/><rect x="1145.5" y="143.72" width="16" height="44.72" fill="#f0f5d0"/><rect x="1145.5" y="188.44" width="16" height="44.72" fill="#e6f0a0"/><rect x="1145.5" y="233.17" width="16" height="44.72" fill="#a8c864"/><rect x="1145.5" y="277.89" width="16" height="44.72" fill="#e1e816"/><rect x="1145.5" y="322.61" width="16" height="44.72" fill="#ffec00"/><rect x="1145.5" y="367.33" width="16" height="44.72" fill="#ffec84"/><rect x="1145.5" y="412.06" width="16" height="44.72" fill="#f3d080"/><rect x="1145.5" y="456.78" width="16" height="44.72" fill="#eba54b"/><rect x="1145.5" y="501.50" width="16" height="44.72" fill="#e48e3e"/><rect x="1145.5" y="546.22" width="16" height="44.72" fill="#da7d3c"/><rect x="1145.5" y="590.94" width="16" height="44.72" fill="#ee043c"/><rect x="1145.5" y="635.67" width="16" height="44.72" fill="#e850a0"/><rect x="1145.5" y="680.39" width="16" height="44.72" fill="#9b70a8"/><rect x="1145.5" y="725.11" width="16" height="44.72" fill="#6370f8"/><rect x="1145.5" y="769.83" width="16" height="44.72" fill="#7f96ff"/><rect x="1145.5" y="814.56" width="16" height="44.72" fill="#8eb2ff"/><rect x="1145.5" y="859.28" width="16" height="44.72" fill="#b5c9ff"/><rect x="1145.5" y="143.22" width="16" height="1" fill="rgba(255,255,255,0.7)"/><text x="1166" y="148.7" font-size="12.8" fill="#1a1a1a">5.831</text><rect x="1145.5" y="187.94" width="16" height="1" fill="rgba(255,255,255,0.7)"/><text x="1166" y="193.4" font-size="12.8" fill="#1a1a1a">5.819</text><rect x="1145.5" y="232.67" width="16" height="1" fill="rgba(255,255,255,0.7)"/><text x="1166" y="238.2" font-size="12.8" fill="#1a1a1a">5.807</text><rect x="1145.5" y="277.39" width="16" height="1" fill="rgba(255,255,255,0.7)"/><text x="1166" y="282.9" font-size="12.8" fill="#1a1a1a">5.795</text><rect x="1145.5" y="322.11" width="16" height="1" fill="rgba(255,255,255,0.7)"/><text x="1166" y="327.6" font-size="12.8" fill="#1a1a1a">5.783</text><rect x="1145.5" y="366.83" width="16" height="1" fill="rgba(255,255,255,0.7)"/><text x="1166" y="372.3" font-size="12.8" fill="#1a1a1a">5.772</text><rect x="1145.5" y="411.56" width="16" height="1" fill="rgba(255,255,255,0.7)"/><text x="1166" y="417.1" font-size="12.8" fill="#1a1a1a">5.76</text><rect x="1145.5" y="456.28" width="16" height="1" fill="rgba(255,255,255,0.7)"/><text x="1166" y="461.8" font-size="12.8" fill="#1a1a1a">5.748</text><rect x="1145.5" y="501.00" width="16" height="1" fill="rgba(255,255,255,0.7)"/><text x="1166" y="506.5" font-size="12.8" fill="#1a1a1a">5.736</text><rect x="1145.5" y="545.72" width="16" height="1" fill="rgba(255,255,255,0.7)"/><text x="1166" y="551.2" font-size="12.8" fill="#1a1a1a">5.724</text><rect x="1145.5" y="590.44" width="16" height="1" fill="rgba(255,255,255,0.7)"/><text x="1166" y="595.9" font-size="12.8" fill="#1a1a1a">5.712</text><rect x="1145.5" y="635.17" width="16" height="1" fill="rgba(255,255,255,0.7)"/><text x="1166" y="640.7" font-size="12.8" fill="#1a1a1a">5.7</text><rect x="1145.5" y="679.89" width="16" height="1" fill="rgba(255,255,255,0.7)"/><text x="1166" y="685.4" font-size="12.8" fill="#1a1a1a">5.688</text><rect x="1145.5" y="724.61" width="16" height="1" fill="rgba(255,255,255,0.7)"/><text x="1166" y="730.1" font-size="12.8" fill="#1a1a1a">5.676</text><rect x="1145.5" y="769.33" width="16" height="1" fill="rgba(255,255,255,0.7)"/><text x="1166" y="774.8" font-size="12.8" fill="#1a1a1a">5.664</text><rect x="1145.5" y="814.06" width="16" height="1" fill="rgba(255,255,255,0.7)"/><text x="1166" y="819.6" font-size="12.8" fill="#1a1a1a">5.652</text><rect x="1145.5" y="858.78" width="16" height="1" fill="rgba(255,255,255,0.7)"/><text x="1166" y="864.3" font-size="12.8" fill="#1a1a1a">5.64</text>
</svg>
</body></html>
